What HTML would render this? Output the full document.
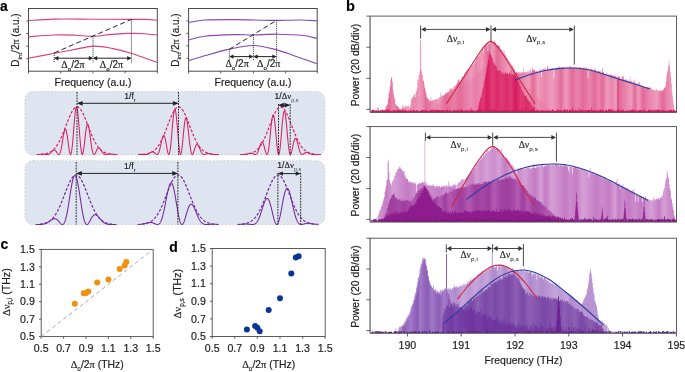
<!DOCTYPE html>
<html><head><meta charset="utf-8"><style>html,body{margin:0;padding:0;background:#fff;width:685px;height:372px;overflow:hidden;}svg{display:block;will-change:transform;}svg text{stroke:#222;stroke-width:0.18px;}</style></head>
<body><svg width="685" height="372" viewBox="0 0 685 372" font-family='"Liberation Sans", sans-serif'>
<rect x="28.5" y="8.5" width="128.8" height="62.7" fill="none" stroke="#4a4a4a" stroke-width="1.0"/>
<line x1="26.3" y1="21" x2="28.5" y2="21" stroke="#4a4a4a" stroke-width="0.9"/>
<line x1="26.3" y1="33.6" x2="28.5" y2="33.6" stroke="#4a4a4a" stroke-width="0.9"/>
<line x1="26.3" y1="46.2" x2="28.5" y2="46.2" stroke="#4a4a4a" stroke-width="0.9"/>
<line x1="26.3" y1="58.6" x2="28.5" y2="58.6" stroke="#4a4a4a" stroke-width="0.9"/>
<line x1="28.5" y1="71.2" x2="28.5" y2="73.4" stroke="#4a4a4a" stroke-width="0.9"/>
<line x1="60.7" y1="71.2" x2="60.7" y2="73.4" stroke="#4a4a4a" stroke-width="0.9"/>
<line x1="92.9" y1="71.2" x2="92.9" y2="73.4" stroke="#4a4a4a" stroke-width="0.9"/>
<line x1="125.1" y1="71.2" x2="125.1" y2="73.4" stroke="#4a4a4a" stroke-width="0.9"/>
<line x1="157.3" y1="71.2" x2="157.3" y2="73.4" stroke="#4a4a4a" stroke-width="0.9"/>
<path d="M28.5,20.6 C32.85,20.35 43.85,19.33 54.6,19.1 C65.35,18.87 80.27,19.15 93,19.2 C105.73,19.25 122.33,19.37 131,19.4 C139.67,19.43 140.62,19.27 145,19.4 C149.38,19.53 155.25,20.07 157.3,20.2" fill="none" stroke="#de3f7c" stroke-width="1.15"/>
<path d="M28.5,36.7 C32.75,36.42 46.25,35.25 54,35 C61.75,34.75 68.5,34.98 75,35.2 C81.5,35.42 86.83,36.43 93,36.3 C99.17,36.17 105.6,34.88 112,34.4 C118.4,33.92 125.9,33.52 131.4,33.4 C136.9,33.28 140.68,33.43 145,33.7 C149.32,33.97 155.25,34.78 157.3,35" fill="none" stroke="#de3f7c" stroke-width="1.15"/>
<path d="M28.4,58.3 C32.77,57.47 46.83,54.78 54.6,53.3 C62.37,51.82 68.43,50.6 75,49.4 C81.57,48.2 87.83,46.27 94,46.1 C100.17,45.93 105.83,47.2 112,48.4 C118.17,49.6 123.5,50.98 131,53.3 C138.5,55.62 152.67,60.8 157,62.3" fill="none" stroke="#de3f7c" stroke-width="1.15"/>
<line x1="54.2" y1="52.9" x2="131.4" y2="19.4" stroke="#222" stroke-width="1.0" stroke-dasharray="5,3"/>
<line x1="54.2" y1="52.9" x2="54.2" y2="62.6" stroke="#333" stroke-width="0.95" stroke-dasharray="1.1,0.9"/>
<line x1="93" y1="36.2" x2="93" y2="62.6" stroke="#333" stroke-width="0.95" stroke-dasharray="1.1,0.9"/>
<line x1="131.4" y1="19.4" x2="131.4" y2="62.6" stroke="#333" stroke-width="0.95" stroke-dasharray="1.1,0.9"/>
<line x1="55.2" y1="58.2" x2="92" y2="58.2" stroke="#222" stroke-width="1"/>
<path d="M54.2,58.2 L58.4,56 L58.4,60.4 Z" fill="#222"/>
<path d="M93,58.2 L88.8,56 L88.8,60.4 Z" fill="#222"/>
<line x1="94" y1="58.2" x2="130.4" y2="58.2" stroke="#222" stroke-width="1"/>
<path d="M93,58.2 L97.2,56 L97.2,60.4 Z" fill="#222"/>
<path d="M131.4,58.2 L127.2,56 L127.2,60.4 Z" fill="#222"/>
<text x="61.3" y="68.1" font-size="10" fill="#222"><tspan font-family="Liberation Serif">Δ</tspan><tspan font-size="6.2" dy="3.0">o</tspan><tspan dy="-3.0">/2<tspan font-family="Liberation Serif">π</tspan></tspan></text>
<text x="99.8" y="68.1" font-size="10" fill="#222"><tspan font-family="Liberation Serif">Δ</tspan><tspan font-size="6.2" dy="3.0">o</tspan><tspan dy="-3.0">/2<tspan font-family="Liberation Serif">π</tspan></tspan></text>
<rect x="188.6" y="8.5" width="128.6" height="62.7" fill="none" stroke="#4a4a4a" stroke-width="1.0"/>
<line x1="186.4" y1="20.8" x2="188.6" y2="20.8" stroke="#4a4a4a" stroke-width="0.9"/>
<line x1="186.4" y1="33.3" x2="188.6" y2="33.3" stroke="#4a4a4a" stroke-width="0.9"/>
<line x1="186.4" y1="45.8" x2="188.6" y2="45.8" stroke="#4a4a4a" stroke-width="0.9"/>
<line x1="186.4" y1="58.3" x2="188.6" y2="58.3" stroke="#4a4a4a" stroke-width="0.9"/>
<line x1="188.6" y1="71.2" x2="188.6" y2="73.4" stroke="#4a4a4a" stroke-width="0.9"/>
<line x1="220.7" y1="71.2" x2="220.7" y2="73.4" stroke="#4a4a4a" stroke-width="0.9"/>
<line x1="253.4" y1="71.2" x2="253.4" y2="73.4" stroke="#4a4a4a" stroke-width="0.9"/>
<line x1="285.7" y1="71.2" x2="285.7" y2="73.4" stroke="#4a4a4a" stroke-width="0.9"/>
<line x1="317.2" y1="71.2" x2="317.2" y2="73.4" stroke="#4a4a4a" stroke-width="0.9"/>
<path d="M188.6,22.5 C191.28,22.08 197.08,20.48 204.7,20 C212.32,19.52 224.45,19.57 234.3,19.6 C244.15,19.63 256.75,20.07 263.8,20.2 C270.85,20.33 270.57,20.43 276.6,20.4 C282.63,20.37 293.23,19.93 300,20 C306.77,20.07 314.33,20.67 317.2,20.8" fill="none" stroke="#8a48ae" stroke-width="1.15"/>
<path d="M188.4,40.1 C191.12,39.45 197.05,37.12 204.7,36.2 C212.35,35.28 226.25,34.8 234.3,34.6 C242.35,34.4 245.78,35.07 253,35 C260.22,34.93 269.22,34.12 277.6,34.2 C285.98,34.28 296.73,34.78 303.3,35.5 C309.87,36.22 314.72,38 317,38.5" fill="none" stroke="#8a48ae" stroke-width="1.15"/>
<path d="M188.4,60.6 C191.12,59.8 198.03,57.67 204.7,55.8 C211.37,53.93 220.18,51.12 228.4,49.4 C236.62,47.68 245.97,45.42 254,45.5 C262.03,45.58 269.7,48.12 276.6,49.9 C283.5,51.68 288.67,53.9 295.4,56.2 C302.13,58.5 313.4,62.45 317,63.7" fill="none" stroke="#8a48ae" stroke-width="1.15"/>
<line x1="229.3" y1="49.3" x2="276.6" y2="20.4" stroke="#222" stroke-width="1.0" stroke-dasharray="5,3"/>
<line x1="229.3" y1="49.3" x2="229.3" y2="61" stroke="#333" stroke-width="0.95" stroke-dasharray="1.1,0.9"/>
<line x1="253.4" y1="34.8" x2="253.4" y2="61" stroke="#333" stroke-width="0.95" stroke-dasharray="1.1,0.9"/>
<line x1="276.6" y1="20.2" x2="276.6" y2="61" stroke="#333" stroke-width="0.95" stroke-dasharray="1.1,0.9"/>
<line x1="230.3" y1="56.6" x2="252.4" y2="56.6" stroke="#222" stroke-width="1"/>
<path d="M229.3,56.6 L233.5,54.4 L233.5,58.8 Z" fill="#222"/>
<path d="M253.4,56.6 L249.2,54.4 L249.2,58.8 Z" fill="#222"/>
<line x1="254.4" y1="56.6" x2="275.6" y2="56.6" stroke="#222" stroke-width="1"/>
<path d="M253.4,56.6 L257.6,54.4 L257.6,58.8 Z" fill="#222"/>
<path d="M276.6,56.6 L272.4,54.4 L272.4,58.8 Z" fill="#222"/>
<text x="225.4" y="66.5" font-size="10" fill="#222"><tspan font-family="Liberation Serif">Δ</tspan><tspan font-size="6.2" dy="3.0">o</tspan><tspan dy="-3.0">/2<tspan font-family="Liberation Serif">π</tspan></tspan></text>
<text x="257" y="66.5" font-size="10" fill="#222"><tspan font-family="Liberation Serif">Δ</tspan><tspan font-size="6.2" dy="3.0">o</tspan><tspan dy="-3.0">/2<tspan font-family="Liberation Serif">π</tspan></tspan></text>
<text x="93" y="86" font-size="10.5" text-anchor="middle" font-weight="normal" fill="#222" >Frequency (a.u.)</text>
<text x="253" y="86" font-size="10.5" text-anchor="middle" font-weight="normal" fill="#222" >Frequency (a.u.)</text>
<text transform="translate(19.2,40) rotate(-90)" font-size="10" text-anchor="middle" fill="#222">D<tspan font-size="6.2" dy="2.4">int</tspan><tspan dy="-2.4">/2<tspan font-family="Liberation Serif">π</tspan> (a.u.)</tspan></text>
<text transform="translate(178.6,40) rotate(-90)" font-size="10" text-anchor="middle" fill="#222">D<tspan font-size="6.2" dy="2.4">int</tspan><tspan dy="-2.4">/2<tspan font-family="Liberation Serif">π</tspan> (a.u.)</tspan></text>
<text x="0" y="11" font-size="14" text-anchor="start" font-weight="bold" fill="#000" >a</text>
<text x="346" y="11.2" font-size="14.6" text-anchor="start" font-weight="bold" fill="#000" >b</text>
<text x="0.5" y="249" font-size="14" text-anchor="start" font-weight="bold" fill="#000" >c</text>
<text x="169.3" y="251.6" font-size="14" text-anchor="start" font-weight="bold" fill="#000" >d</text>
<rect x="24.9" y="91.6" width="299.9" height="63.3" rx="8" ry="8" fill="#dfe5f0" stroke="#c9c6c0" stroke-width="0.7" stroke-dasharray="2,1.6"/>
<path d="M36.5,154.5 L36.75,154.49 L37,154.49 L37.25,154.49 L37.5,154.48 L37.75,154.47 L38,154.47 L38.25,154.46 L38.5,154.45 L38.75,154.44 L39,154.43 L39.25,154.41 L39.5,154.4 L39.75,154.38 L40,154.37 L40.25,154.35 L40.5,154.34 L40.75,154.32 L41,154.3 L41.25,154.29 L41.5,154.27 L41.75,154.26 L42,154.25 L42.25,154.24 L42.5,154.23 L42.75,154.23 L43,154.22 L43.25,154.22 L43.5,154.23 L43.75,154.24 L44,154.25 L44.25,154.27 L44.5,154.29 L44.75,154.31 L45,154.33 L45.25,154.36 L45.5,154.39 L45.75,154.41 L46,154.44 L46.25,154.46 L46.5,154.48 L46.75,154.49 L47,154.5 L47.25,154.5 L47.5,154.48 L47.75,154.46 L48,154.42 L48.25,154.36 L48.5,154.29 L48.75,154.2 L49,154.08 L49.25,153.95 L49.5,153.8 L49.75,153.63 L50,153.44 L50.25,153.22 L50.5,153 L50.75,152.75 L51,152.5 L51.25,152.23 L51.5,151.96 L51.75,151.69 L52,151.42 L52.25,151.15 L52.5,150.91 L52.75,150.68 L53,150.47 L53.25,150.29 L53.5,150.15 L53.75,150.04 L54,149.98 L54.25,149.96 L54.5,149.99 L54.75,150.07 L55,150.2 L55.25,150.38 L55.5,150.61 L55.75,150.88 L56,151.19 L56.25,151.53 L56.5,151.9 L56.75,152.29 L57,152.68 L57.25,153.06 L57.5,153.42 L57.75,153.76 L58,154.04 L58.25,154.27 L58.5,154.43 L58.75,154.5 L59,154.47 L59.25,154.33 L59.5,154.07 L59.75,153.68 L60,153.16 L60.25,152.51 L60.5,151.71 L60.75,150.78 L61,149.72 L61.25,148.54 L61.5,147.25 L61.75,145.86 L62,144.39 L62.25,142.87 L62.5,141.31 L62.75,139.74 L63,138.18 L63.25,136.67 L63.5,135.23 L63.75,133.89 L64,132.67 L64.25,131.61 L64.5,130.73 L64.75,130.04 L65,129.57 L65.25,129.33 L65.5,129.34 L65.75,129.59 L66,130.09 L66.25,130.84 L66.5,131.82 L66.75,133.02 L67,134.41 L67.25,135.98 L67.5,137.68 L67.75,139.5 L68,141.38 L68.25,143.28 L68.5,145.17 L68.75,147 L69,148.72 L69.25,150.28 L69.5,151.66 L69.75,152.8 L70,153.67 L70.25,154.24 L70.5,154.49 L70.75,154.39 L71,153.93 L71.25,153.11 L71.5,151.93 L71.75,150.39 L72,148.52 L72.25,146.34 L72.5,143.87 L72.75,141.17 L73,138.27 L73.25,135.23 L73.5,132.09 L73.75,128.91 L74,125.76 L74.25,122.69 L74.5,119.75 L74.75,117.01 L75,114.52 L75.25,112.33 L75.5,110.47 L75.75,109 L76,107.93 L76.25,107.29 L76.5,107.09 L76.75,107.34 L77,108.03 L77.25,109.16 L77.5,110.69 L77.75,112.6 L78,114.86 L78.25,117.41 L78.5,120.21 L78.75,123.21 L79,126.34 L79.25,129.55 L79.5,132.77 L79.75,135.95 L80,139.02 L80.25,141.94 L80.5,144.64 L80.75,147.08 L81,149.22 L81.25,151.03 L81.5,152.47 L81.75,153.54 L82,154.21 L82.25,154.49 L82.5,154.38 L82.75,153.9 L83,153.07 L83.25,151.91 L83.5,150.47 L83.75,148.77 L84,146.86 L84.25,144.8 L84.5,142.62 L84.75,140.38 L85,138.14 L85.25,135.93 L85.5,133.81 L85.75,131.81 L86,129.99 L86.25,128.37 L86.5,126.99 L86.75,125.86 L87,125.01 L87.25,124.46 L87.5,124.19 L87.75,124.22 L88,124.54 L88.25,125.14 L88.5,126 L88.75,127.09 L89,128.39 L89.25,129.88 L89.5,131.52 L89.75,133.28 L90,135.12 L90.25,137.01 L90.5,138.92 L90.75,140.82 L91,142.67 L91.25,144.44 L91.5,146.12 L91.75,147.68 L92,149.09 L92.25,150.36 L92.5,151.46 L92.75,152.39 L93,153.14 L93.25,153.73 L93.5,154.14 L93.75,154.39 L94,154.5 L94.25,154.46 L94.5,154.3 L94.75,154.03 L95,153.67 L95.25,153.23 L95.5,152.74 L95.75,152.22 L96,151.67 L96.25,151.12 L96.5,150.58 L96.75,150.06 L97,149.58 L97.25,149.15 L97.5,148.78 L97.75,148.47 L98,148.22 L98.25,148.05 L98.5,147.95 L98.75,147.91 L99,147.95 L99.25,148.05 L99.5,148.21 L99.75,148.43 L100,148.69 L100.25,149 L100.5,149.33 L100.75,149.7 L101,150.08 L101.25,150.47 L101.5,150.87 L101.75,151.27 L102,151.65 L102.25,152.02 L102.5,152.38 L102.75,152.71 L103,153.01 L103.25,153.29 L103.5,153.54 L103.75,153.76 L104,153.94 L104.25,154.1 L104.5,154.23 L104.75,154.33 L105,154.41 L105.25,154.46 L105.5,154.49 L105.75,154.5 L106,154.5 L106.25,154.48 L106.5,154.45 L106.75,154.41 L107,154.37 L107.25,154.33 L107.5,154.28 L107.75,154.24 L108,154.19 L108.25,154.15 L108.5,154.12 L108.75,154.08 L109,154.06 L109.25,154.04 L109.5,154.03 L109.75,154.02 L110,154.02 L110.25,154.02 L110.5,154.03 L110.75,154.04 L111,154.06 L111.25,154.08 L111.5,154.11 L111.75,154.13 L112,154.16 L112.25,154.19 L112.5,154.22 L112.75,154.25 L113,154.27 L113.25,154.3 L113.5,154.33 L113.75,154.35 L114,154.37 L114.25,154.39 L114.5,154.41 L114.75,154.43 L115,154.44 L115.25,154.46 L115.5,154.47 L115.75,154.48 L116,154.48 L116.25,154.49 L116.5,154.49 L116.75,154.5 L117,154.5 L117.25,154.5 L117.5,154.5" fill="none" stroke="#db1f60" stroke-width="1.05" stroke-linejoin="round"/>
<path d="M41,154.28 L41.5,154.24 L42,154.2 L42.5,154.15 L43,154.1 L43.5,154.04 L44,153.97 L44.5,153.89 L45,153.81 L45.5,153.71 L46,153.6 L46.5,153.48 L47,153.35 L47.5,153.19 L48,153.03 L48.5,152.84 L49,152.64 L49.5,152.41 L50,152.16 L50.5,151.89 L51,151.59 L51.5,151.26 L52,150.9 L52.5,150.52 L53,150.1 L53.5,149.64 L54,149.15 L54.5,148.62 L55,148.06 L55.5,147.45 L56,146.81 L56.5,146.12 L57,145.38 L57.5,144.61 L58,143.79 L58.5,142.93 L59,142.02 L59.5,141.07 L60,140.08 L60.5,139.05 L61,137.97 L61.5,136.86 L62,135.71 L62.5,134.53 L63,133.32 L63.5,132.08 L64,130.82 L64.5,129.54 L65,128.25 L65.5,126.94 L66,125.63 L66.5,124.32 L67,123.01 L67.5,121.72 L68,120.44 L68.5,119.19 L69,117.96 L69.5,116.77 L70,115.62 L70.5,114.53 L71,113.48 L71.5,112.49 L72,111.57 L72.5,110.72 L73,109.95 L73.5,109.25 L74,108.64 L74.5,108.11 L75,107.68 L75.5,107.34 L76,107.1 L76.5,106.95 L77,106.9 L77.5,106.95 L78,107.1 L78.5,107.34 L79,107.68 L79.5,108.11 L80,108.64 L80.5,109.25 L81,109.95 L81.5,110.72 L82,111.57 L82.5,112.49 L83,113.48 L83.5,114.53 L84,115.62 L84.5,116.77 L85,117.96 L85.5,119.19 L86,120.44 L86.5,121.72 L87,123.01 L87.5,124.32 L88,125.63 L88.5,126.94 L89,128.25 L89.5,129.54 L90,130.82 L90.5,132.08 L91,133.32 L91.5,134.53 L92,135.71 L92.5,136.86 L93,137.97 L93.5,139.05 L94,140.08 L94.5,141.07 L95,142.02 L95.5,142.93 L96,143.79 L96.5,144.61 L97,145.38 L97.5,146.12 L98,146.81 L98.5,147.45 L99,148.06 L99.5,148.62 L100,149.15 L100.5,149.64 L101,150.1 L101.5,150.52 L102,150.9 L102.5,151.26 L103,151.59 L103.5,151.89 L104,152.16 L104.5,152.41 L105,152.64 L105.5,152.84 L106,153.03 L106.5,153.19 L107,153.35 L107.5,153.48 L108,153.6 L108.5,153.71 L109,153.81 L109.5,153.89 L110,153.97 L110.5,154.04 L111,154.1 L111.5,154.15 L112,154.2 L112.5,154.24 L113,154.28" fill="none" stroke="#db1f60" stroke-width="1.2" stroke-dasharray="2.8,1.7"/>
<path d="M138.1,154.45 L138.35,154.44 L138.6,154.43 L138.85,154.42 L139.1,154.42 L139.35,154.41 L139.6,154.4 L139.85,154.39 L140.1,154.39 L140.35,154.38 L140.6,154.38 L140.85,154.37 L141.1,154.37 L141.35,154.37 L141.6,154.37 L141.85,154.37 L142.1,154.38 L142.35,154.38 L142.6,154.39 L142.85,154.4 L143.1,154.41 L143.35,154.42 L143.6,154.44 L143.85,154.45 L144.1,154.46 L144.35,154.47 L144.6,154.49 L144.85,154.49 L145.1,154.5 L145.35,154.5 L145.6,154.5 L145.85,154.49 L146.1,154.47 L146.35,154.44 L146.6,154.41 L146.85,154.37 L147.1,154.31 L147.35,154.25 L147.6,154.17 L147.85,154.08 L148.1,153.98 L148.35,153.87 L148.6,153.74 L148.85,153.61 L149.1,153.47 L149.35,153.31 L149.6,153.16 L149.85,153 L150.1,152.84 L150.35,152.68 L150.6,152.52 L150.85,152.37 L151.1,152.23 L151.35,152.11 L151.6,152 L151.85,151.91 L152.1,151.85 L152.35,151.81 L152.6,151.8 L152.85,151.82 L153.1,151.86 L153.35,151.94 L153.6,152.05 L153.85,152.19 L154.1,152.36 L154.35,152.55 L154.6,152.76 L154.85,152.99 L155.1,153.23 L155.35,153.46 L155.6,153.7 L155.85,153.92 L156.1,154.12 L156.35,154.28 L156.6,154.41 L156.85,154.48 L157.1,154.5 L157.35,154.44 L157.6,154.31 L157.85,154.1 L158.1,153.8 L158.35,153.4 L158.6,152.9 L158.85,152.31 L159.1,151.62 L159.35,150.83 L159.6,149.96 L159.85,149 L160.1,147.97 L160.35,146.89 L160.6,145.75 L160.85,144.59 L161.1,143.42 L161.35,142.26 L161.6,141.12 L161.85,140.04 L162.1,139.03 L162.35,138.11 L162.6,137.3 L162.85,136.62 L163.1,136.09 L163.35,135.72 L163.6,135.53 L163.85,135.52 L164.1,135.7 L164.35,136.08 L164.6,136.64 L164.85,137.39 L165.1,138.3 L165.35,139.37 L165.6,140.58 L165.85,141.9 L166.1,143.3 L166.35,144.75 L166.6,146.23 L166.85,147.69 L167.1,149.1 L167.35,150.41 L167.6,151.61 L167.85,152.64 L168.1,153.47 L168.35,154.07 L168.6,154.42 L168.85,154.49 L169.1,154.26 L169.35,153.72 L169.6,152.87 L169.85,151.69 L170.1,150.21 L170.35,148.42 L170.6,146.36 L170.85,144.05 L171.1,141.52 L171.35,138.81 L171.6,135.96 L171.85,133.03 L172.1,130.05 L172.35,127.09 L172.6,124.19 L172.85,121.42 L173.1,118.83 L173.35,116.46 L173.6,114.36 L173.85,112.57 L174.1,111.14 L174.35,110.09 L174.6,109.45 L174.85,109.22 L175.1,109.43 L175.35,110.06 L175.6,111.11 L175.85,112.56 L176.1,114.38 L176.35,116.54 L176.6,119 L176.85,121.7 L177.1,124.6 L177.35,127.65 L177.6,130.77 L177.85,133.92 L178.1,137.02 L178.35,140.02 L178.6,142.86 L178.85,145.49 L179.1,147.85 L179.35,149.9 L179.6,151.61 L179.85,152.94 L180.1,153.87 L180.35,154.39 L180.6,154.49 L180.85,154.17 L181.1,153.46 L181.35,152.36 L181.6,150.91 L181.85,149.15 L182.1,147.11 L182.35,144.84 L182.6,142.39 L182.85,139.82 L183.1,137.18 L183.35,134.53 L183.6,131.92 L183.85,129.41 L184.1,127.05 L184.35,124.88 L184.6,122.94 L184.85,121.28 L185.1,119.93 L185.35,118.89 L185.6,118.2 L185.85,117.86 L186.1,117.88 L186.35,118.24 L186.6,118.93 L186.85,119.94 L187.1,121.24 L187.35,122.81 L187.6,124.6 L187.85,126.58 L188.1,128.72 L188.35,130.97 L188.6,133.28 L188.85,135.62 L189.1,137.95 L189.35,140.23 L189.6,142.42 L189.85,144.48 L190.1,146.4 L190.35,148.15 L190.6,149.7 L190.85,151.04 L191.1,152.17 L191.35,153.07 L191.6,153.74 L191.85,154.2 L192.1,154.45 L192.35,154.49 L192.6,154.36 L192.85,154.05 L193.1,153.61 L193.35,153.04 L193.6,152.37 L193.85,151.63 L194.1,150.84 L194.35,150.02 L194.6,149.2 L194.85,148.39 L195.1,147.63 L195.35,146.92 L195.6,146.28 L195.85,145.72 L196.1,145.25 L196.35,144.88 L196.6,144.62 L196.85,144.46 L197.1,144.41 L197.35,144.46 L197.6,144.61 L197.85,144.85 L198.1,145.17 L198.35,145.57 L198.6,146.03 L198.85,146.55 L199.1,147.1 L199.35,147.69 L199.6,148.29 L199.85,148.91 L200.1,149.52 L200.35,150.11 L200.6,150.69 L200.85,151.24 L201.1,151.76 L201.35,152.23 L201.6,152.67 L201.85,153.05 L202.1,153.39 L202.35,153.68 L202.6,153.93 L202.85,154.12 L203.1,154.27 L203.35,154.38 L203.6,154.46 L203.85,154.49 L204.1,154.5 L204.35,154.48 L204.6,154.44 L204.85,154.38 L205.1,154.31 L205.35,154.23 L205.6,154.14 L205.85,154.06 L206.1,153.97 L206.35,153.89 L206.6,153.81 L206.85,153.74 L207.1,153.69 L207.35,153.64 L207.6,153.6 L207.85,153.58 L208.1,153.56 L208.35,153.56 L208.6,153.57 L208.85,153.59 L209.1,153.61 L209.35,153.65 L209.6,153.69 L209.85,153.73 L210.1,153.78 L210.35,153.84 L210.6,153.89 L210.85,153.95 L211.1,154 L211.35,154.06 L211.6,154.11 L211.85,154.16 L212.1,154.21 L212.35,154.25 L212.6,154.3 L212.85,154.33 L213.1,154.36 L213.35,154.39 L213.6,154.42 L213.85,154.44 L214.1,154.46 L214.35,154.47 L214.6,154.48 L214.85,154.49 L215.1,154.49 L215.35,154.5 L215.6,154.5 L215.85,154.5 L216.1,154.5 L216.35,154.5 L216.6,154.49 L216.85,154.49 L217.1,154.49 L217.35,154.49 L217.6,154.48 L217.85,154.48 L218.1,154.48 L218.35,154.48 L218.6,154.47 L218.85,154.47 L219.1,154.47" fill="none" stroke="#db1f60" stroke-width="1.05" stroke-linejoin="round"/>
<path d="M142.6,154.28 L143.1,154.24 L143.6,154.2 L144.1,154.15 L144.6,154.1 L145.1,154.04 L145.6,153.97 L146.1,153.89 L146.6,153.81 L147.1,153.71 L147.6,153.6 L148.1,153.48 L148.6,153.35 L149.1,153.19 L149.6,153.03 L150.1,152.84 L150.6,152.64 L151.1,152.41 L151.6,152.16 L152.1,151.89 L152.6,151.59 L153.1,151.26 L153.6,150.9 L154.1,150.52 L154.6,150.1 L155.1,149.64 L155.6,149.15 L156.1,148.62 L156.6,148.06 L157.1,147.45 L157.6,146.81 L158.1,146.12 L158.6,145.38 L159.1,144.61 L159.6,143.79 L160.1,142.93 L160.6,142.02 L161.1,141.07 L161.6,140.08 L162.1,139.05 L162.6,137.97 L163.1,136.86 L163.6,135.71 L164.1,134.53 L164.6,133.32 L165.1,132.08 L165.6,130.82 L166.1,129.54 L166.6,128.25 L167.1,126.94 L167.6,125.63 L168.1,124.32 L168.6,123.01 L169.1,121.72 L169.6,120.44 L170.1,119.19 L170.6,117.96 L171.1,116.77 L171.6,115.62 L172.1,114.53 L172.6,113.48 L173.1,112.49 L173.6,111.57 L174.1,110.72 L174.6,109.95 L175.1,109.25 L175.6,108.64 L176.1,108.11 L176.6,107.68 L177.1,107.34 L177.6,107.1 L178.1,106.95 L178.6,106.9 L179.1,106.95 L179.6,107.1 L180.1,107.34 L180.6,107.68 L181.1,108.11 L181.6,108.64 L182.1,109.25 L182.6,109.95 L183.1,110.72 L183.6,111.57 L184.1,112.49 L184.6,113.48 L185.1,114.53 L185.6,115.62 L186.1,116.77 L186.6,117.96 L187.1,119.19 L187.6,120.44 L188.1,121.72 L188.6,123.01 L189.1,124.32 L189.6,125.63 L190.1,126.94 L190.6,128.25 L191.1,129.54 L191.6,130.82 L192.1,132.08 L192.6,133.32 L193.1,134.53 L193.6,135.71 L194.1,136.86 L194.6,137.97 L195.1,139.05 L195.6,140.08 L196.1,141.07 L196.6,142.02 L197.1,142.93 L197.6,143.79 L198.1,144.61 L198.6,145.38 L199.1,146.12 L199.6,146.81 L200.1,147.45 L200.6,148.06 L201.1,148.62 L201.6,149.15 L202.1,149.64 L202.6,150.1 L203.1,150.52 L203.6,150.9 L204.1,151.26 L204.6,151.59 L205.1,151.89 L205.6,152.16 L206.1,152.41 L206.6,152.64 L207.1,152.84 L207.6,153.03 L208.1,153.19 L208.6,153.35 L209.1,153.48 L209.6,153.6 L210.1,153.71 L210.6,153.81 L211.1,153.89 L211.6,153.97 L212.1,154.04 L212.6,154.1 L213.1,154.15 L213.6,154.2 L214.1,154.24 L214.6,154.28" fill="none" stroke="#db1f60" stroke-width="1.2" stroke-dasharray="2.8,1.7"/>
<path d="M240.2,154.46 L240.45,154.46 L240.7,154.46 L240.95,154.46 L241.2,154.47 L241.45,154.47 L241.7,154.48 L241.95,154.48 L242.2,154.48 L242.45,154.49 L242.7,154.49 L242.95,154.5 L243.2,154.5 L243.45,154.5 L243.7,154.5 L243.95,154.5 L244.2,154.49 L244.45,154.48 L244.7,154.47 L244.95,154.45 L245.2,154.43 L245.45,154.4 L245.7,154.37 L245.95,154.33 L246.2,154.29 L246.45,154.24 L246.7,154.19 L246.95,154.13 L247.2,154.07 L247.45,154 L247.7,153.93 L247.95,153.85 L248.2,153.77 L248.45,153.7 L248.7,153.62 L248.95,153.55 L249.2,153.47 L249.45,153.41 L249.7,153.35 L249.95,153.3 L250.2,153.26 L250.45,153.23 L250.7,153.21 L250.95,153.21 L251.2,153.22 L251.45,153.24 L251.7,153.29 L251.95,153.34 L252.2,153.41 L252.45,153.5 L252.7,153.6 L252.95,153.71 L253.2,153.82 L253.45,153.94 L253.7,154.06 L253.95,154.17 L254.2,154.27 L254.45,154.37 L254.7,154.44 L254.95,154.48 L255.2,154.5 L255.45,154.48 L255.7,154.42 L255.95,154.31 L256.2,154.16 L256.45,153.94 L256.7,153.67 L256.95,153.35 L257.2,152.96 L257.45,152.51 L257.7,152 L257.95,151.44 L258.2,150.83 L258.45,150.17 L258.7,149.48 L258.95,148.75 L259.2,148.01 L259.45,147.26 L259.7,146.51 L259.95,145.79 L260.2,145.09 L260.45,144.44 L260.7,143.85 L260.95,143.32 L261.2,142.89 L261.45,142.55 L261.7,142.32 L261.95,142.2 L262.2,142.21 L262.45,142.34 L262.7,142.6 L262.95,142.99 L263.2,143.49 L263.45,144.12 L263.7,144.85 L263.95,145.66 L264.2,146.56 L264.45,147.5 L264.7,148.48 L264.95,149.47 L265.2,150.45 L265.45,151.37 L265.7,152.23 L265.95,152.99 L266.2,153.62 L266.45,154.1 L266.7,154.4 L266.95,154.5 L267.2,154.38 L267.45,154.03 L267.7,153.44 L267.95,152.6 L268.2,151.5 L268.45,150.16 L268.7,148.58 L268.95,146.78 L269.2,144.77 L269.45,142.59 L269.7,140.25 L269.95,137.81 L270.2,135.29 L270.45,132.74 L270.7,130.21 L270.95,127.72 L271.2,125.35 L271.45,123.11 L271.7,121.08 L271.95,119.27 L272.2,117.73 L272.45,116.5 L272.7,115.6 L272.95,115.05 L273.2,114.87 L273.45,115.07 L273.7,115.65 L273.95,116.6 L274.2,117.91 L274.45,119.55 L274.7,121.49 L274.95,123.71 L275.2,126.15 L275.45,128.77 L275.7,131.52 L275.95,134.33 L276.2,137.16 L276.45,139.95 L276.7,142.63 L276.95,145.16 L277.2,147.47 L277.45,149.52 L277.7,151.26 L277.95,152.66 L278.2,153.68 L278.45,154.3 L278.7,154.5 L278.95,154.28 L279.2,153.64 L279.45,152.59 L279.7,151.15 L279.95,149.34 L280.2,147.21 L280.45,144.79 L280.7,142.14 L280.95,139.3 L281.2,136.33 L281.45,133.3 L281.7,130.26 L281.95,127.27 L282.2,124.39 L282.45,121.69 L282.7,119.2 L282.95,116.99 L283.2,115.09 L283.45,113.53 L283.7,112.35 L283.95,111.57 L284.2,111.2 L284.45,111.23 L284.7,111.68 L284.95,112.52 L285.2,113.73 L285.45,115.29 L285.7,117.17 L285.95,119.32 L286.2,121.7 L286.45,124.27 L286.7,126.98 L286.95,129.77 L287.2,132.59 L287.45,135.4 L287.7,138.14 L287.95,140.77 L288.2,143.26 L288.45,145.55 L288.7,147.62 L288.95,149.45 L289.2,151.01 L289.45,152.28 L289.7,153.27 L289.95,153.96 L290.2,154.37 L290.45,154.5 L290.7,154.37 L290.95,153.99 L291.2,153.4 L291.45,152.61 L291.7,151.66 L291.95,150.59 L292.2,149.41 L292.45,148.18 L292.7,146.91 L292.95,145.65 L293.2,144.42 L293.45,143.25 L293.7,142.17 L293.95,141.19 L294.2,140.34 L294.45,139.64 L294.7,139.08 L294.95,138.69 L295.2,138.46 L295.45,138.39 L295.7,138.49 L295.95,138.73 L296.2,139.13 L296.45,139.65 L296.7,140.29 L296.95,141.03 L297.2,141.86 L297.45,142.75 L297.7,143.69 L297.95,144.67 L298.2,145.65 L298.45,146.64 L298.7,147.61 L298.95,148.54 L299.2,149.43 L299.45,150.26 L299.7,151.03 L299.95,151.72 L300.2,152.34 L300.45,152.88 L300.7,153.34 L300.95,153.72 L301.2,154.02 L301.45,154.24 L301.7,154.39 L301.95,154.47 L302.2,154.5 L302.45,154.47 L302.7,154.4 L302.95,154.3 L303.2,154.16 L303.45,154 L303.7,153.83 L303.95,153.65 L304.2,153.47 L304.45,153.29 L304.7,153.12 L304.95,152.97 L305.2,152.83 L305.45,152.71 L305.7,152.62 L305.95,152.55 L306.2,152.5 L306.45,152.48 L306.7,152.47 L306.95,152.49 L307.2,152.53 L307.45,152.59 L307.7,152.67 L307.95,152.75 L308.2,152.85 L308.45,152.96 L308.7,153.08 L308.95,153.2 L309.2,153.32 L309.45,153.44 L309.7,153.56 L309.95,153.67 L310.2,153.78 L310.45,153.89 L310.7,153.98 L310.95,154.07 L311.2,154.15 L311.45,154.22 L311.7,154.28 L311.95,154.33 L312.2,154.38 L312.45,154.41 L312.7,154.44 L312.95,154.47 L313.2,154.48 L313.45,154.49 L313.7,154.5 L313.95,154.5 L314.2,154.5 L314.45,154.49 L314.7,154.49 L314.95,154.48 L315.2,154.47 L315.45,154.46 L315.7,154.45 L315.95,154.45 L316.2,154.44 L316.45,154.43 L316.7,154.43 L316.95,154.42 L317.2,154.42 L317.45,154.42 L317.7,154.41 L317.95,154.41 L318.2,154.42 L318.45,154.42 L318.7,154.42 L318.95,154.42 L319.2,154.43 L319.45,154.43 L319.7,154.44 L319.95,154.44 L320.2,154.45 L320.45,154.45 L320.7,154.46 L320.95,154.46 L321.2,154.47" fill="none" stroke="#db1f60" stroke-width="1.05" stroke-linejoin="round"/>
<path d="M244.7,154.28 L245.2,154.24 L245.7,154.2 L246.2,154.15 L246.7,154.1 L247.2,154.04 L247.7,153.97 L248.2,153.89 L248.7,153.81 L249.2,153.71 L249.7,153.6 L250.2,153.48 L250.7,153.35 L251.2,153.19 L251.7,153.03 L252.2,152.84 L252.7,152.64 L253.2,152.41 L253.7,152.16 L254.2,151.89 L254.7,151.59 L255.2,151.26 L255.7,150.9 L256.2,150.52 L256.7,150.1 L257.2,149.64 L257.7,149.15 L258.2,148.62 L258.7,148.06 L259.2,147.45 L259.7,146.81 L260.2,146.12 L260.7,145.38 L261.2,144.61 L261.7,143.79 L262.2,142.93 L262.7,142.02 L263.2,141.07 L263.7,140.08 L264.2,139.05 L264.7,137.97 L265.2,136.86 L265.7,135.71 L266.2,134.53 L266.7,133.32 L267.2,132.08 L267.7,130.82 L268.2,129.54 L268.7,128.25 L269.2,126.94 L269.7,125.63 L270.2,124.32 L270.7,123.01 L271.2,121.72 L271.7,120.44 L272.2,119.19 L272.7,117.96 L273.2,116.77 L273.7,115.62 L274.2,114.53 L274.7,113.48 L275.2,112.49 L275.7,111.57 L276.2,110.72 L276.7,109.95 L277.2,109.25 L277.7,108.64 L278.2,108.11 L278.7,107.68 L279.2,107.34 L279.7,107.1 L280.2,106.95 L280.7,106.9 L281.2,106.95 L281.7,107.1 L282.2,107.34 L282.7,107.68 L283.2,108.11 L283.7,108.64 L284.2,109.25 L284.7,109.95 L285.2,110.72 L285.7,111.57 L286.2,112.49 L286.7,113.48 L287.2,114.53 L287.7,115.62 L288.2,116.77 L288.7,117.96 L289.2,119.19 L289.7,120.44 L290.2,121.72 L290.7,123.01 L291.2,124.32 L291.7,125.63 L292.2,126.94 L292.7,128.25 L293.2,129.54 L293.7,130.82 L294.2,132.08 L294.7,133.32 L295.2,134.53 L295.7,135.71 L296.2,136.86 L296.7,137.97 L297.2,139.05 L297.7,140.08 L298.2,141.07 L298.7,142.02 L299.2,142.93 L299.7,143.79 L300.2,144.61 L300.7,145.38 L301.2,146.12 L301.7,146.81 L302.2,147.45 L302.7,148.06 L303.2,148.62 L303.7,149.15 L304.2,149.64 L304.7,150.1 L305.2,150.52 L305.7,150.9 L306.2,151.26 L306.7,151.59 L307.2,151.89 L307.7,152.16 L308.2,152.41 L308.7,152.64 L309.2,152.84 L309.7,153.03 L310.2,153.19 L310.7,153.35 L311.2,153.48 L311.7,153.6 L312.2,153.71 L312.7,153.81 L313.2,153.89 L313.7,153.97 L314.2,154.04 L314.7,154.1 L315.2,154.15 L315.7,154.2 L316.2,154.24 L316.7,154.28" fill="none" stroke="#db1f60" stroke-width="1.2" stroke-dasharray="2.8,1.7"/>
<line x1="77" y1="92" x2="77" y2="155" stroke="#222" stroke-width="0.95" stroke-dasharray="1.8,1.0"/>
<line x1="178.5" y1="92" x2="178.5" y2="155" stroke="#222" stroke-width="0.95" stroke-dasharray="1.8,1.0"/>
<line x1="278.5" y1="104" x2="278.5" y2="155.4" stroke="#222" stroke-width="0.95" stroke-dasharray="1.8,1.0"/>
<line x1="290.2" y1="104" x2="290.2" y2="155.4" stroke="#222" stroke-width="0.95" stroke-dasharray="1.8,1.0"/>
<line x1="78" y1="103.3" x2="177.5" y2="103.3" stroke="#222" stroke-width="1"/>
<path d="M77,103.3 L82.6,100.9 L82.6,105.7 Z" fill="#222"/>
<path d="M178.5,103.3 L172.9,100.9 L172.9,105.7 Z" fill="#222"/>
<line x1="279.3" y1="105.2" x2="289.1" y2="105.2" stroke="#222" stroke-width="1"/>
<path d="M278.3,105.2 L283.9,102.8 L283.9,107.6 Z" fill="#222"/>
<path d="M290.1,105.2 L284.5,102.8 L284.5,107.6 Z" fill="#222"/>
<text x="124.3" y="98.9" font-size="8.6" fill="#222">1/f<tspan font-size="5.4" dy="2.6" stroke-width="0.1">r</tspan></text>
<text x="274.6" y="98.9" font-size="8.6" fill="#222">1/<tspan font-family="Liberation Serif">Δ</tspan><tspan font-family="Liberation Serif">ν</tspan><tspan font-size="5.6" dy="3.0" fill="#444" stroke-width="0">p,s</tspan></text>
<rect x="24.9" y="160.7" width="299.9" height="63.9" rx="8" ry="8" fill="#dfe5f0" stroke="#c9c6c0" stroke-width="0.7" stroke-dasharray="2,1.6"/>
<path d="M35.6,224.49 L35.85,224.49 L36.1,224.49 L36.35,224.5 L36.6,224.5 L36.85,224.5 L37.1,224.5 L37.35,224.5 L37.6,224.5 L37.85,224.5 L38.1,224.5 L38.35,224.5 L38.6,224.5 L38.85,224.5 L39.1,224.49 L39.35,224.49 L39.6,224.49 L39.85,224.48 L40.1,224.47 L40.35,224.46 L40.6,224.45 L40.85,224.44 L41.1,224.43 L41.35,224.41 L41.6,224.39 L41.85,224.37 L42.1,224.34 L42.35,224.31 L42.6,224.28 L42.85,224.25 L43.1,224.21 L43.35,224.16 L43.6,224.11 L43.85,224.06 L44.1,224 L44.35,223.93 L44.6,223.86 L44.85,223.79 L45.1,223.71 L45.35,223.62 L45.6,223.52 L45.85,223.42 L46.1,223.32 L46.35,223.2 L46.6,223.08 L46.85,222.95 L47.1,222.82 L47.35,222.68 L47.6,222.53 L47.85,222.38 L48.1,222.22 L48.35,222.06 L48.6,221.89 L48.85,221.72 L49.1,221.55 L49.35,221.37 L49.6,221.19 L49.85,221 L50.1,220.82 L50.35,220.64 L50.6,220.46 L50.85,220.28 L51.1,220.1 L51.35,219.93 L51.6,219.76 L51.85,219.6 L52.1,219.45 L52.35,219.31 L52.6,219.17 L52.85,219.05 L53.1,218.94 L53.35,218.85 L53.6,218.77 L53.85,218.71 L54.1,218.66 L54.35,218.64 L54.6,218.63 L54.85,218.64 L55.1,218.67 L55.35,218.73 L55.6,218.8 L55.85,218.9 L56.1,219.01 L56.35,219.15 L56.6,219.31 L56.85,219.49 L57.1,219.69 L57.35,219.91 L57.6,220.15 L57.85,220.4 L58.1,220.66 L58.35,220.94 L58.6,221.22 L58.85,221.51 L59.1,221.81 L59.35,222.11 L59.6,222.41 L59.85,222.7 L60.1,222.98 L60.35,223.25 L60.6,223.5 L60.85,223.74 L61.1,223.95 L61.35,224.13 L61.6,224.28 L61.85,224.4 L62.1,224.47 L62.35,224.5 L62.6,224.48 L62.85,224.41 L63.1,224.28 L63.35,224.1 L63.6,223.85 L63.85,223.53 L64.1,223.15 L64.35,222.7 L64.6,222.18 L64.85,221.58 L65.1,220.91 L65.35,220.16 L65.6,219.34 L65.85,218.44 L66.1,217.47 L66.35,216.43 L66.6,215.31 L66.85,214.13 L67.1,212.88 L67.35,211.57 L67.6,210.2 L67.85,208.78 L68.1,207.32 L68.35,205.81 L68.6,204.26 L68.85,202.69 L69.1,201.09 L69.35,199.47 L69.6,197.85 L69.85,196.23 L70.1,194.61 L70.35,193.01 L70.6,191.44 L70.85,189.89 L71.1,188.39 L71.35,186.93 L71.6,185.53 L71.85,184.19 L72.1,182.93 L72.35,181.74 L72.6,180.64 L72.85,179.62 L73.1,178.71 L73.35,177.9 L73.6,177.2 L73.85,176.61 L74.1,176.14 L74.35,175.78 L74.6,175.55 L74.85,175.44 L75.1,175.46 L75.35,175.6 L75.6,175.86 L75.85,176.24 L76.1,176.75 L76.35,177.37 L76.6,178.11 L76.85,178.95 L77.1,179.9 L77.35,180.96 L77.6,182.1 L77.85,183.34 L78.1,184.65 L78.35,186.04 L78.6,187.49 L78.85,189 L79.1,190.56 L79.35,192.17 L79.6,193.8 L79.85,195.46 L80.1,197.13 L80.35,198.81 L80.6,200.49 L80.85,202.16 L81.1,203.8 L81.35,205.43 L81.6,207.02 L81.85,208.56 L82.1,210.06 L82.35,211.51 L82.6,212.89 L82.85,214.22 L83.1,215.47 L83.35,216.65 L83.6,217.75 L83.85,218.77 L84.1,219.7 L84.35,220.56 L84.6,221.33 L84.85,222.01 L85.1,222.61 L85.35,223.12 L85.6,223.55 L85.85,223.89 L86.1,224.16 L86.35,224.34 L86.6,224.46 L86.85,224.5 L87.1,224.47 L87.35,224.39 L87.6,224.24 L87.85,224.04 L88.1,223.79 L88.35,223.49 L88.6,223.16 L88.85,222.79 L89.1,222.39 L89.35,221.97 L89.6,221.53 L89.85,221.08 L90.1,220.61 L90.35,220.14 L90.6,219.67 L90.85,219.21 L91.1,218.75 L91.35,218.3 L91.6,217.87 L91.85,217.46 L92.1,217.07 L92.35,216.7 L92.6,216.36 L92.85,216.04 L93.1,215.76 L93.35,215.5 L93.6,215.28 L93.85,215.09 L94.1,214.93 L94.35,214.81 L94.6,214.72 L94.85,214.66 L95.1,214.64 L95.35,214.64 L95.6,214.68 L95.85,214.75 L96.1,214.84 L96.35,214.96 L96.6,215.11 L96.85,215.28 L97.1,215.47 L97.35,215.68 L97.6,215.91 L97.85,216.15 L98.1,216.41 L98.35,216.68 L98.6,216.96 L98.85,217.25 L99.1,217.54 L99.35,217.84 L99.6,218.14 L99.85,218.45 L100.1,218.75 L100.35,219.06 L100.6,219.36 L100.85,219.65 L101.1,219.95 L101.35,220.23 L101.6,220.51 L101.85,220.78 L102.1,221.04 L102.35,221.29 L102.6,221.54 L102.85,221.77 L103.1,221.99 L103.35,222.2 L103.6,222.4 L103.85,222.59 L104.1,222.77 L104.35,222.94 L104.6,223.1 L104.85,223.24 L105.1,223.38 L105.35,223.5 L105.6,223.62 L105.85,223.72 L106.1,223.82 L106.35,223.91 L106.6,223.99 L106.85,224.06 L107.1,224.13 L107.35,224.18 L107.6,224.23 L107.85,224.28 L108.1,224.32 L108.35,224.35 L108.6,224.38 L108.85,224.41 L109.1,224.43 L109.35,224.45 L109.6,224.46 L109.85,224.47 L110.1,224.48 L110.35,224.49 L110.6,224.49 L110.85,224.5 L111.1,224.5 L111.35,224.5 L111.6,224.5 L111.85,224.5 L112.1,224.5 L112.35,224.49 L112.6,224.49 L112.85,224.49 L113.1,224.49 L113.35,224.48 L113.6,224.48 L113.85,224.48 L114.1,224.47 L114.35,224.47 L114.6,224.47 L114.85,224.47 L115.1,224.46 L115.35,224.46 L115.6,224.46 L115.85,224.46 L116.1,224.46 L116.35,224.46 L116.6,224.46" fill="none" stroke="#74289c" stroke-width="1.05" stroke-linejoin="round"/>
<path d="M40.1,224.13 L40.6,224.08 L41.1,224.02 L41.6,223.95 L42.1,223.87 L42.6,223.79 L43.1,223.69 L43.6,223.59 L44.1,223.47 L44.6,223.34 L45.1,223.19 L45.6,223.03 L46.1,222.85 L46.6,222.66 L47.1,222.44 L47.6,222.2 L48.1,221.95 L48.6,221.66 L49.1,221.35 L49.6,221.02 L50.1,220.66 L50.6,220.26 L51.1,219.84 L51.6,219.38 L52.1,218.89 L52.6,218.36 L53.1,217.8 L53.6,217.2 L54.1,216.56 L54.6,215.88 L55.1,215.16 L55.6,214.39 L56.1,213.59 L56.6,212.74 L57.1,211.86 L57.6,210.93 L58.1,209.96 L58.6,208.95 L59.1,207.9 L59.6,206.82 L60.1,205.7 L60.6,204.54 L61.1,203.36 L61.6,202.14 L62.1,200.91 L62.6,199.65 L63.1,198.37 L63.6,197.08 L64.1,195.78 L64.6,194.48 L65.1,193.17 L65.6,191.87 L66.1,190.58 L66.6,189.31 L67.1,188.06 L67.6,186.83 L68.1,185.64 L68.6,184.48 L69.1,183.37 L69.6,182.31 L70.1,181.3 L70.6,180.35 L71.1,179.46 L71.6,178.65 L72.1,177.91 L72.6,177.24 L73.1,176.66 L73.6,176.16 L74.1,175.74 L74.6,175.42 L75.1,175.19 L75.6,175.05 L76.1,175 L76.6,175.05 L77.1,175.19 L77.6,175.42 L78.1,175.74 L78.6,176.16 L79.1,176.66 L79.6,177.24 L80.1,177.91 L80.6,178.65 L81.1,179.46 L81.6,180.35 L82.1,181.3 L82.6,182.31 L83.1,183.37 L83.6,184.48 L84.1,185.64 L84.6,186.83 L85.1,188.06 L85.6,189.31 L86.1,190.58 L86.6,191.87 L87.1,193.17 L87.6,194.48 L88.1,195.78 L88.6,197.08 L89.1,198.37 L89.6,199.65 L90.1,200.91 L90.6,202.14 L91.1,203.36 L91.6,204.54 L92.1,205.7 L92.6,206.82 L93.1,207.9 L93.6,208.95 L94.1,209.96 L94.6,210.93 L95.1,211.86 L95.6,212.74 L96.1,213.59 L96.6,214.39 L97.1,215.16 L97.6,215.88 L98.1,216.56 L98.6,217.2 L99.1,217.8 L99.6,218.36 L100.1,218.89 L100.6,219.38 L101.1,219.84 L101.6,220.26 L102.1,220.66 L102.6,221.02 L103.1,221.35 L103.6,221.66 L104.1,221.95 L104.6,222.2 L105.1,222.44 L105.6,222.66 L106.1,222.85 L106.6,223.03 L107.1,223.19 L107.6,223.34 L108.1,223.47 L108.6,223.59 L109.1,223.69 L109.6,223.79 L110.1,223.87 L110.6,223.95 L111.1,224.02 L111.6,224.08 L112.1,224.13" fill="none" stroke="#74289c" stroke-width="1.2" stroke-dasharray="2.8,1.7"/>
<path d="M137.6,224.46 L137.85,224.45 L138.1,224.44 L138.35,224.44 L138.6,224.42 L138.85,224.41 L139.1,224.4 L139.35,224.39 L139.6,224.37 L139.85,224.35 L140.1,224.33 L140.35,224.31 L140.6,224.29 L140.85,224.27 L141.1,224.24 L141.35,224.21 L141.6,224.18 L141.85,224.15 L142.1,224.11 L142.35,224.07 L142.6,224.03 L142.85,223.99 L143.1,223.95 L143.35,223.9 L143.6,223.85 L143.85,223.8 L144.1,223.75 L144.35,223.69 L144.6,223.63 L144.85,223.57 L145.1,223.51 L145.35,223.45 L145.6,223.39 L145.85,223.33 L146.1,223.26 L146.35,223.2 L146.6,223.13 L146.85,223.07 L147.1,223.01 L147.35,222.95 L147.6,222.89 L147.85,222.83 L148.1,222.78 L148.35,222.72 L148.6,222.68 L148.85,222.63 L149.1,222.6 L149.35,222.56 L149.6,222.54 L149.85,222.52 L150.1,222.5 L150.35,222.49 L150.6,222.49 L150.85,222.5 L151.1,222.52 L151.35,222.54 L151.6,222.58 L151.85,222.62 L152.1,222.67 L152.35,222.73 L152.6,222.8 L152.85,222.87 L153.1,222.95 L153.35,223.04 L153.6,223.14 L153.85,223.24 L154.1,223.35 L154.35,223.46 L154.6,223.57 L154.85,223.69 L155.1,223.8 L155.35,223.91 L155.6,224.02 L155.85,224.12 L156.1,224.21 L156.35,224.3 L156.6,224.37 L156.85,224.43 L157.1,224.47 L157.35,224.5 L157.6,224.5 L157.85,224.47 L158.1,224.42 L158.35,224.35 L158.6,224.23 L158.85,224.09 L159.1,223.9 L159.35,223.68 L159.6,223.42 L159.85,223.11 L160.1,222.75 L160.35,222.35 L160.6,221.89 L160.85,221.39 L161.1,220.83 L161.35,220.22 L161.6,219.56 L161.85,218.84 L162.1,218.07 L162.35,217.24 L162.6,216.36 L162.85,215.43 L163.1,214.45 L163.35,213.42 L163.6,212.35 L163.85,211.23 L164.1,210.07 L164.35,208.88 L164.6,207.66 L164.85,206.4 L165.1,205.12 L165.35,203.83 L165.6,202.52 L165.85,201.21 L166.1,199.89 L166.35,198.58 L166.6,197.28 L166.85,195.99 L167.1,194.74 L167.35,193.51 L167.6,192.32 L167.85,191.17 L168.1,190.07 L168.35,189.04 L168.6,188.06 L168.85,187.15 L169.1,186.32 L169.35,185.57 L169.6,184.91 L169.85,184.33 L170.1,183.85 L170.35,183.47 L170.6,183.19 L170.85,183.02 L171.1,182.95 L171.35,182.98 L171.6,183.13 L171.85,183.38 L172.1,183.75 L172.35,184.22 L172.6,184.79 L172.85,185.47 L173.1,186.25 L173.35,187.12 L173.6,188.08 L173.85,189.13 L174.1,190.26 L174.35,191.46 L174.6,192.74 L174.85,194.07 L175.1,195.45 L175.35,196.88 L175.6,198.35 L175.85,199.85 L176.1,201.36 L176.35,202.89 L176.6,204.42 L176.85,205.95 L177.1,207.46 L177.35,208.95 L177.6,210.41 L177.85,211.83 L178.1,213.2 L178.35,214.52 L178.6,215.78 L178.85,216.97 L179.1,218.09 L179.35,219.13 L179.6,220.09 L179.85,220.95 L180.1,221.73 L180.35,222.42 L180.6,223.01 L180.85,223.5 L181.1,223.89 L181.35,224.19 L181.6,224.38 L181.85,224.49 L182.1,224.49 L182.35,224.4 L182.6,224.23 L182.85,223.97 L183.1,223.62 L183.35,223.2 L183.6,222.71 L183.85,222.15 L184.1,221.53 L184.35,220.86 L184.6,220.14 L184.85,219.38 L185.1,218.58 L185.35,217.75 L185.6,216.9 L185.85,216.04 L186.1,215.17 L186.35,214.3 L186.6,213.43 L186.85,212.57 L187.1,211.74 L187.35,210.92 L187.6,210.13 L187.85,209.38 L188.1,208.66 L188.35,207.99 L188.6,207.36 L188.85,206.78 L189.1,206.26 L189.35,205.79 L189.6,205.37 L189.85,205.02 L190.1,204.72 L190.35,204.49 L190.6,204.32 L190.85,204.2 L191.1,204.15 L191.35,204.15 L191.6,204.22 L191.85,204.33 L192.1,204.51 L192.35,204.73 L192.6,205.01 L192.85,205.33 L193.1,205.69 L193.35,206.1 L193.6,206.54 L193.85,207.01 L194.1,207.52 L194.35,208.05 L194.6,208.61 L194.85,209.19 L195.1,209.78 L195.35,210.39 L195.6,211 L195.85,211.63 L196.1,212.25 L196.35,212.88 L196.6,213.5 L196.85,214.12 L197.1,214.73 L197.35,215.33 L197.6,215.92 L197.85,216.5 L198.1,217.06 L198.35,217.6 L198.6,218.12 L198.85,218.62 L199.1,219.11 L199.35,219.57 L199.6,220 L199.85,220.42 L200.1,220.81 L200.35,221.18 L200.6,221.52 L200.85,221.85 L201.1,222.15 L201.35,222.42 L201.6,222.68 L201.85,222.91 L202.1,223.13 L202.35,223.32 L202.6,223.5 L202.85,223.65 L203.1,223.79 L203.35,223.92 L203.6,224.03 L203.85,224.12 L204.1,224.2 L204.35,224.27 L204.6,224.33 L204.85,224.38 L205.1,224.42 L205.35,224.45 L205.6,224.47 L205.85,224.48 L206.1,224.49 L206.35,224.5 L206.6,224.5 L206.85,224.5 L207.1,224.49 L207.35,224.48 L207.6,224.47 L207.85,224.46 L208.1,224.44 L208.35,224.43 L208.6,224.41 L208.85,224.4 L209.1,224.38 L209.35,224.37 L209.6,224.36 L209.85,224.34 L210.1,224.33 L210.35,224.32 L210.6,224.31 L210.85,224.3 L211.1,224.3 L211.35,224.29 L211.6,224.29 L211.85,224.28 L212.1,224.28 L212.35,224.28 L212.6,224.28 L212.85,224.28 L213.1,224.28 L213.35,224.29 L213.6,224.29 L213.85,224.29 L214.1,224.3 L214.35,224.3 L214.6,224.31 L214.85,224.32 L215.1,224.32 L215.35,224.33 L215.6,224.34 L215.85,224.34 L216.1,224.35 L216.35,224.36 L216.6,224.37 L216.85,224.37 L217.1,224.38 L217.35,224.39 L217.6,224.4 L217.85,224.4 L218.1,224.41 L218.35,224.42 L218.6,224.42" fill="none" stroke="#74289c" stroke-width="1.05" stroke-linejoin="round"/>
<path d="M142.1,224.13 L142.6,224.08 L143.1,224.02 L143.6,223.95 L144.1,223.87 L144.6,223.79 L145.1,223.69 L145.6,223.59 L146.1,223.47 L146.6,223.34 L147.1,223.19 L147.6,223.03 L148.1,222.85 L148.6,222.66 L149.1,222.44 L149.6,222.2 L150.1,221.95 L150.6,221.66 L151.1,221.35 L151.6,221.02 L152.1,220.66 L152.6,220.26 L153.1,219.84 L153.6,219.38 L154.1,218.89 L154.6,218.36 L155.1,217.8 L155.6,217.2 L156.1,216.56 L156.6,215.88 L157.1,215.16 L157.6,214.39 L158.1,213.59 L158.6,212.74 L159.1,211.86 L159.6,210.93 L160.1,209.96 L160.6,208.95 L161.1,207.9 L161.6,206.82 L162.1,205.7 L162.6,204.54 L163.1,203.36 L163.6,202.14 L164.1,200.91 L164.6,199.65 L165.1,198.37 L165.6,197.08 L166.1,195.78 L166.6,194.48 L167.1,193.17 L167.6,191.87 L168.1,190.58 L168.6,189.31 L169.1,188.06 L169.6,186.83 L170.1,185.64 L170.6,184.48 L171.1,183.37 L171.6,182.31 L172.1,181.3 L172.6,180.35 L173.1,179.46 L173.6,178.65 L174.1,177.91 L174.6,177.24 L175.1,176.66 L175.6,176.16 L176.1,175.74 L176.6,175.42 L177.1,175.19 L177.6,175.05 L178.1,175 L178.6,175.05 L179.1,175.19 L179.6,175.42 L180.1,175.74 L180.6,176.16 L181.1,176.66 L181.6,177.24 L182.1,177.91 L182.6,178.65 L183.1,179.46 L183.6,180.35 L184.1,181.3 L184.6,182.31 L185.1,183.37 L185.6,184.48 L186.1,185.64 L186.6,186.83 L187.1,188.06 L187.6,189.31 L188.1,190.58 L188.6,191.87 L189.1,193.17 L189.6,194.48 L190.1,195.78 L190.6,197.08 L191.1,198.37 L191.6,199.65 L192.1,200.91 L192.6,202.14 L193.1,203.36 L193.6,204.54 L194.1,205.7 L194.6,206.82 L195.1,207.9 L195.6,208.95 L196.1,209.96 L196.6,210.93 L197.1,211.86 L197.6,212.74 L198.1,213.59 L198.6,214.39 L199.1,215.16 L199.6,215.88 L200.1,216.56 L200.6,217.2 L201.1,217.8 L201.6,218.36 L202.1,218.89 L202.6,219.38 L203.1,219.84 L203.6,220.26 L204.1,220.66 L204.6,221.02 L205.1,221.35 L205.6,221.66 L206.1,221.95 L206.6,222.2 L207.1,222.44 L207.6,222.66 L208.1,222.85 L208.6,223.03 L209.1,223.19 L209.6,223.34 L210.1,223.47 L210.6,223.59 L211.1,223.69 L211.6,223.79 L212.1,223.87 L212.6,223.95 L213.1,224.02 L213.6,224.08 L214.1,224.13" fill="none" stroke="#74289c" stroke-width="1.2" stroke-dasharray="2.8,1.7"/>
<path d="M237.5,224.43 L237.75,224.43 L238,224.42 L238.25,224.41 L238.5,224.4 L238.75,224.39 L239,224.38 L239.25,224.37 L239.5,224.36 L239.75,224.35 L240,224.34 L240.25,224.33 L240.5,224.32 L240.75,224.3 L241,224.29 L241.25,224.28 L241.5,224.26 L241.75,224.25 L242,224.23 L242.25,224.22 L242.5,224.21 L242.75,224.19 L243,224.18 L243.25,224.16 L243.5,224.15 L243.75,224.14 L244,224.13 L244.25,224.12 L244.5,224.11 L244.75,224.1 L245,224.09 L245.25,224.08 L245.5,224.08 L245.75,224.08 L246,224.08 L246.25,224.08 L246.5,224.08 L246.75,224.08 L247,224.09 L247.25,224.1 L247.5,224.11 L247.75,224.12 L248,224.14 L248.25,224.16 L248.5,224.18 L248.75,224.2 L249,224.22 L249.25,224.25 L249.5,224.27 L249.75,224.3 L250,224.33 L250.25,224.35 L250.5,224.38 L250.75,224.41 L251,224.43 L251.25,224.45 L251.5,224.47 L251.75,224.49 L252,224.5 L252.25,224.5 L252.5,224.5 L252.75,224.49 L253,224.47 L253.25,224.44 L253.5,224.4 L253.75,224.34 L254,224.27 L254.25,224.19 L254.5,224.09 L254.75,223.98 L255,223.84 L255.25,223.68 L255.5,223.5 L255.75,223.3 L256,223.08 L256.25,222.82 L256.5,222.55 L256.75,222.24 L257,221.91 L257.25,221.55 L257.5,221.15 L257.75,220.73 L258,220.28 L258.25,219.8 L258.5,219.28 L258.75,218.74 L259,218.17 L259.25,217.57 L259.5,216.94 L259.75,216.28 L260,215.6 L260.25,214.9 L260.5,214.17 L260.75,213.42 L261,212.66 L261.25,211.88 L261.5,211.09 L261.75,210.29 L262,209.49 L262.25,208.69 L262.5,207.88 L262.75,207.09 L263,206.3 L263.25,205.53 L263.5,204.77 L263.75,204.04 L264,203.33 L264.25,202.66 L264.5,202.02 L264.75,201.42 L265,200.87 L265.25,200.36 L265.5,199.91 L265.75,199.51 L266,199.16 L266.25,198.89 L266.5,198.67 L266.75,198.53 L267,198.45 L267.25,198.44 L267.5,198.51 L267.75,198.65 L268,198.87 L268.25,199.16 L268.5,199.52 L268.75,199.96 L269,200.47 L269.25,201.04 L269.5,201.69 L269.75,202.39 L270,203.16 L270.25,203.98 L270.5,204.85 L270.75,205.77 L271,206.73 L271.25,207.73 L271.5,208.75 L271.75,209.79 L272,210.85 L272.25,211.92 L272.5,212.99 L272.75,214.05 L273,215.1 L273.25,216.13 L273.5,217.12 L273.75,218.09 L274,219.01 L274.25,219.87 L274.5,220.68 L274.75,221.43 L275,222.11 L275.25,222.71 L275.5,223.24 L275.75,223.67 L276,224.02 L276.25,224.28 L276.5,224.44 L276.75,224.5 L277,224.46 L277.25,224.32 L277.5,224.08 L277.75,223.74 L278,223.3 L278.25,222.77 L278.5,222.13 L278.75,221.41 L279,220.6 L279.25,219.7 L279.5,218.73 L279.75,217.68 L280,216.56 L280.25,215.39 L280.5,214.16 L280.75,212.89 L281,211.57 L281.25,210.23 L281.5,208.87 L281.75,207.49 L282,206.1 L282.25,204.72 L282.5,203.35 L282.75,202 L283,200.67 L283.25,199.38 L283.5,198.13 L283.75,196.94 L284,195.8 L284.25,194.72 L284.5,193.71 L284.75,192.77 L285,191.92 L285.25,191.15 L285.5,190.46 L285.75,189.87 L286,189.37 L286.25,188.96 L286.5,188.65 L286.75,188.44 L287,188.32 L287.25,188.3 L287.5,188.38 L287.75,188.55 L288,188.81 L288.25,189.16 L288.5,189.6 L288.75,190.12 L289,190.71 L289.25,191.38 L289.5,192.12 L289.75,192.92 L290,193.78 L290.25,194.7 L290.5,195.66 L290.75,196.66 L291,197.7 L291.25,198.77 L291.5,199.86 L291.75,200.97 L292,202.09 L292.25,203.22 L292.5,204.36 L292.75,205.48 L293,206.61 L293.25,207.71 L293.5,208.81 L293.75,209.88 L294,210.92 L294.25,211.94 L294.5,212.92 L294.75,213.87 L295,214.78 L295.25,215.66 L295.5,216.49 L295.75,217.28 L296,218.03 L296.25,218.73 L296.5,219.39 L296.75,220 L297,220.57 L297.25,221.09 L297.5,221.57 L297.75,222.01 L298,222.41 L298.25,222.76 L298.5,223.08 L298.75,223.36 L299,223.6 L299.25,223.81 L299.5,223.99 L299.75,224.13 L300,224.25 L300.25,224.35 L300.5,224.41 L300.75,224.46 L301,224.49 L301.25,224.5 L301.5,224.49 L301.75,224.47 L302,224.44 L302.25,224.4 L302.5,224.35 L302.75,224.3 L303,224.23 L303.25,224.17 L303.5,224.1 L303.75,224.03 L304,223.96 L304.25,223.89 L304.5,223.82 L304.75,223.76 L305,223.7 L305.25,223.64 L305.5,223.59 L305.75,223.54 L306,223.49 L306.25,223.45 L306.5,223.42 L306.75,223.39 L307,223.37 L307.25,223.35 L307.5,223.34 L307.75,223.33 L308,223.33 L308.25,223.33 L308.5,223.34 L308.75,223.35 L309,223.36 L309.25,223.38 L309.5,223.4 L309.75,223.43 L310,223.45 L310.25,223.48 L310.5,223.52 L310.75,223.55 L311,223.58 L311.25,223.62 L311.5,223.66 L311.75,223.7 L312,223.73 L312.25,223.77 L312.5,223.81 L312.75,223.85 L313,223.88 L313.25,223.92 L313.5,223.96 L313.75,223.99 L314,224.03 L314.25,224.06 L314.5,224.09 L314.75,224.12 L315,224.15 L315.25,224.18 L315.5,224.2 L315.75,224.23 L316,224.25 L316.25,224.27 L316.5,224.29 L316.75,224.31 L317,224.33 L317.25,224.35 L317.5,224.36 L317.75,224.38 L318,224.39 L318.25,224.4 L318.5,224.41" fill="none" stroke="#74289c" stroke-width="1.05" stroke-linejoin="round"/>
<path d="M242,224.13 L242.5,224.08 L243,224.02 L243.5,223.95 L244,223.87 L244.5,223.79 L245,223.69 L245.5,223.59 L246,223.47 L246.5,223.34 L247,223.19 L247.5,223.03 L248,222.85 L248.5,222.66 L249,222.44 L249.5,222.2 L250,221.95 L250.5,221.66 L251,221.35 L251.5,221.02 L252,220.66 L252.5,220.26 L253,219.84 L253.5,219.38 L254,218.89 L254.5,218.36 L255,217.8 L255.5,217.2 L256,216.56 L256.5,215.88 L257,215.16 L257.5,214.39 L258,213.59 L258.5,212.74 L259,211.86 L259.5,210.93 L260,209.96 L260.5,208.95 L261,207.9 L261.5,206.82 L262,205.7 L262.5,204.54 L263,203.36 L263.5,202.14 L264,200.91 L264.5,199.65 L265,198.37 L265.5,197.08 L266,195.78 L266.5,194.48 L267,193.17 L267.5,191.87 L268,190.58 L268.5,189.31 L269,188.06 L269.5,186.83 L270,185.64 L270.5,184.48 L271,183.37 L271.5,182.31 L272,181.3 L272.5,180.35 L273,179.46 L273.5,178.65 L274,177.91 L274.5,177.24 L275,176.66 L275.5,176.16 L276,175.74 L276.5,175.42 L277,175.19 L277.5,175.05 L278,175 L278.5,175.05 L279,175.19 L279.5,175.42 L280,175.74 L280.5,176.16 L281,176.66 L281.5,177.24 L282,177.91 L282.5,178.65 L283,179.46 L283.5,180.35 L284,181.3 L284.5,182.31 L285,183.37 L285.5,184.48 L286,185.64 L286.5,186.83 L287,188.06 L287.5,189.31 L288,190.58 L288.5,191.87 L289,193.17 L289.5,194.48 L290,195.78 L290.5,197.08 L291,198.37 L291.5,199.65 L292,200.91 L292.5,202.14 L293,203.36 L293.5,204.54 L294,205.7 L294.5,206.82 L295,207.9 L295.5,208.95 L296,209.96 L296.5,210.93 L297,211.86 L297.5,212.74 L298,213.59 L298.5,214.39 L299,215.16 L299.5,215.88 L300,216.56 L300.5,217.2 L301,217.8 L301.5,218.36 L302,218.89 L302.5,219.38 L303,219.84 L303.5,220.26 L304,220.66 L304.5,221.02 L305,221.35 L305.5,221.66 L306,221.95 L306.5,222.2 L307,222.44 L307.5,222.66 L308,222.85 L308.5,223.03 L309,223.19 L309.5,223.34 L310,223.47 L310.5,223.59 L311,223.69 L311.5,223.79 L312,223.87 L312.5,223.95 L313,224.02 L313.5,224.08 L314,224.13" fill="none" stroke="#74289c" stroke-width="1.2" stroke-dasharray="2.8,1.7"/>
<line x1="76.2" y1="162" x2="76.2" y2="224.6" stroke="#222" stroke-width="0.95" stroke-dasharray="1.8,1.0"/>
<line x1="177.9" y1="162" x2="177.9" y2="224.6" stroke="#222" stroke-width="0.95" stroke-dasharray="1.8,1.0"/>
<line x1="277.9" y1="172.7" x2="277.9" y2="224.6" stroke="#222" stroke-width="0.95" stroke-dasharray="1.8,1.0"/>
<line x1="300.7" y1="172.7" x2="300.7" y2="224.6" stroke="#222" stroke-width="0.95" stroke-dasharray="1.8,1.0"/>
<line x1="77.2" y1="173.4" x2="176.9" y2="173.4" stroke="#222" stroke-width="1"/>
<path d="M76.2,173.4 L81.8,171 L81.8,175.8 Z" fill="#222"/>
<path d="M177.9,173.4 L172.3,171 L172.3,175.8 Z" fill="#222"/>
<line x1="278.9" y1="173.6" x2="299.7" y2="173.6" stroke="#222" stroke-width="1"/>
<path d="M277.9,173.6 L282.9,171.5 L282.9,175.7 Z" fill="#222"/>
<path d="M300.7,173.6 L295.7,171.5 L295.7,175.7 Z" fill="#222"/>
<text x="124.1" y="168.9" font-size="8.6" fill="#222">1/f<tspan font-size="5.4" dy="2.6" stroke-width="0.1">r</tspan></text>
<text x="277.3" y="167.6" font-size="8.6" fill="#222">1/<tspan font-family="Liberation Serif">Δ</tspan><tspan font-family="Liberation Serif">ν</tspan><tspan font-size="5.6" dy="3.0" fill="#444" stroke-width="0">p,s</tspan></text>
<rect x="41.2" y="249.4" width="112" height="87.2" fill="none" stroke="#4a4a4a" stroke-width="0.9"/>
<line x1="41.2" y1="336.6" x2="41.2" y2="338.8" stroke="#4a4a4a" stroke-width="0.9"/>
<line x1="39" y1="336.6" x2="41.2" y2="336.6" stroke="#4a4a4a" stroke-width="0.9"/>
<text x="41.2" y="351.9" font-size="10.6" text-anchor="middle" font-weight="normal" fill="#222" >0.5</text>
<text x="34.8" y="340.3" font-size="10.6" text-anchor="end" font-weight="normal" fill="#222" >0.5</text>
<line x1="63.6" y1="336.6" x2="63.6" y2="338.8" stroke="#4a4a4a" stroke-width="0.9"/>
<line x1="39" y1="319.16" x2="41.2" y2="319.16" stroke="#4a4a4a" stroke-width="0.9"/>
<text x="63.6" y="351.9" font-size="10.6" text-anchor="middle" font-weight="normal" fill="#222" >0.7</text>
<text x="34.8" y="322.86" font-size="10.6" text-anchor="end" font-weight="normal" fill="#222" >0.7</text>
<line x1="86" y1="336.6" x2="86" y2="338.8" stroke="#4a4a4a" stroke-width="0.9"/>
<line x1="39" y1="301.72" x2="41.2" y2="301.72" stroke="#4a4a4a" stroke-width="0.9"/>
<text x="86" y="351.9" font-size="10.6" text-anchor="middle" font-weight="normal" fill="#222" >0.9</text>
<text x="34.8" y="305.42" font-size="10.6" text-anchor="end" font-weight="normal" fill="#222" >0.9</text>
<line x1="108.4" y1="336.6" x2="108.4" y2="338.8" stroke="#4a4a4a" stroke-width="0.9"/>
<line x1="39" y1="284.28" x2="41.2" y2="284.28" stroke="#4a4a4a" stroke-width="0.9"/>
<text x="108.4" y="351.9" font-size="10.6" text-anchor="middle" font-weight="normal" fill="#222" >1.1</text>
<text x="34.8" y="287.98" font-size="10.6" text-anchor="end" font-weight="normal" fill="#222" >1.1</text>
<line x1="130.8" y1="336.6" x2="130.8" y2="338.8" stroke="#4a4a4a" stroke-width="0.9"/>
<line x1="39" y1="266.84" x2="41.2" y2="266.84" stroke="#4a4a4a" stroke-width="0.9"/>
<text x="130.8" y="351.9" font-size="10.6" text-anchor="middle" font-weight="normal" fill="#222" >1.3</text>
<text x="34.8" y="270.54" font-size="10.6" text-anchor="end" font-weight="normal" fill="#222" >1.3</text>
<line x1="153.2" y1="336.6" x2="153.2" y2="338.8" stroke="#4a4a4a" stroke-width="0.9"/>
<line x1="39" y1="249.4" x2="41.2" y2="249.4" stroke="#4a4a4a" stroke-width="0.9"/>
<text x="153.2" y="351.9" font-size="10.6" text-anchor="middle" font-weight="normal" fill="#222" >1.5</text>
<text x="34.8" y="253.1" font-size="10.6" text-anchor="end" font-weight="normal" fill="#222" >1.5</text>
<line x1="41.2" y1="336.6" x2="153.2" y2="249.4" stroke="#aaa" stroke-width="1" stroke-dasharray="4,3"/>
<circle cx="74.8" cy="303.64" r="3.0" fill="#f0900c"/>
<circle cx="83.76" cy="293.17" r="3.0" fill="#f0900c"/>
<circle cx="86" cy="293" r="3.0" fill="#f0900c"/>
<circle cx="88.24" cy="291.52" r="3.0" fill="#f0900c"/>
<circle cx="97.2" cy="282.54" r="3.0" fill="#f0900c"/>
<circle cx="108.4" cy="279.4" r="3.0" fill="#f0900c"/>
<circle cx="119.6" cy="268.93" r="3.0" fill="#f0900c"/>
<circle cx="124.64" cy="265.53" r="3.0" fill="#f0900c"/>
<circle cx="126.32" cy="261.96" r="3.0" fill="#f0900c"/>
<text x="97.2" y="368.2" font-size="10.4" text-anchor="middle" fill="#222"><tspan font-family="Liberation Serif">Δ</tspan><tspan font-size="6.4" dy="3.2">o</tspan><tspan dy="-3.2">/2<tspan font-family="Liberation Serif">π</tspan> (THz)</tspan></text>
<text transform="translate(9.6,292.2) rotate(-90)" font-size="10.6" text-anchor="middle" fill="#222"><tspan font-family="Liberation Serif">Δ</tspan><tspan font-family="Liberation Serif">ν</tspan><tspan font-size="6.4" dy="2.8">p,i</tspan><tspan dy="-2.8">  (THz)</tspan></text>
<rect x="212.2" y="248.5" width="113" height="88" fill="none" stroke="#4a4a4a" stroke-width="0.9"/>
<line x1="212.2" y1="336.5" x2="212.2" y2="338.7" stroke="#4a4a4a" stroke-width="0.9"/>
<line x1="210" y1="336.5" x2="212.2" y2="336.5" stroke="#4a4a4a" stroke-width="0.9"/>
<text x="212.2" y="351.8" font-size="10.6" text-anchor="middle" font-weight="normal" fill="#222" >0.5</text>
<text x="205.8" y="340.2" font-size="10.6" text-anchor="end" font-weight="normal" fill="#222" >0.5</text>
<line x1="234.8" y1="336.5" x2="234.8" y2="338.7" stroke="#4a4a4a" stroke-width="0.9"/>
<line x1="210" y1="318.9" x2="212.2" y2="318.9" stroke="#4a4a4a" stroke-width="0.9"/>
<text x="234.8" y="351.8" font-size="10.6" text-anchor="middle" font-weight="normal" fill="#222" >0.7</text>
<text x="205.8" y="322.6" font-size="10.6" text-anchor="end" font-weight="normal" fill="#222" >0.7</text>
<line x1="257.4" y1="336.5" x2="257.4" y2="338.7" stroke="#4a4a4a" stroke-width="0.9"/>
<line x1="210" y1="301.3" x2="212.2" y2="301.3" stroke="#4a4a4a" stroke-width="0.9"/>
<text x="257.4" y="351.8" font-size="10.6" text-anchor="middle" font-weight="normal" fill="#222" >0.9</text>
<text x="205.8" y="305" font-size="10.6" text-anchor="end" font-weight="normal" fill="#222" >0.9</text>
<line x1="280" y1="336.5" x2="280" y2="338.7" stroke="#4a4a4a" stroke-width="0.9"/>
<line x1="210" y1="283.7" x2="212.2" y2="283.7" stroke="#4a4a4a" stroke-width="0.9"/>
<text x="280" y="351.8" font-size="10.6" text-anchor="middle" font-weight="normal" fill="#222" >1.1</text>
<text x="205.8" y="287.4" font-size="10.6" text-anchor="end" font-weight="normal" fill="#222" >1.1</text>
<line x1="302.6" y1="336.5" x2="302.6" y2="338.7" stroke="#4a4a4a" stroke-width="0.9"/>
<line x1="210" y1="266.1" x2="212.2" y2="266.1" stroke="#4a4a4a" stroke-width="0.9"/>
<text x="302.6" y="351.8" font-size="10.6" text-anchor="middle" font-weight="normal" fill="#222" >1.3</text>
<text x="205.8" y="269.8" font-size="10.6" text-anchor="end" font-weight="normal" fill="#222" >1.3</text>
<line x1="325.2" y1="336.5" x2="325.2" y2="338.7" stroke="#4a4a4a" stroke-width="0.9"/>
<line x1="210" y1="248.5" x2="212.2" y2="248.5" stroke="#4a4a4a" stroke-width="0.9"/>
<text x="325.2" y="351.8" font-size="10.6" text-anchor="middle" font-weight="normal" fill="#222" >1.5</text>
<text x="205.8" y="252.2" font-size="10.6" text-anchor="end" font-weight="normal" fill="#222" >1.5</text>
<circle cx="246.89" cy="329.46" r="3.0" fill="#0b3592"/>
<circle cx="255.14" cy="325.94" r="3.0" fill="#0b3592"/>
<circle cx="257.4" cy="327.7" r="3.0" fill="#0b3592"/>
<circle cx="259.66" cy="331.22" r="3.0" fill="#0b3592"/>
<circle cx="268.7" cy="310.1" r="3.0" fill="#0b3592"/>
<circle cx="280" cy="298.22" r="3.0" fill="#0b3592"/>
<circle cx="291.3" cy="273.4" r="3.0" fill="#0b3592"/>
<circle cx="295.82" cy="257.56" r="3.0" fill="#0b3592"/>
<circle cx="298.64" cy="256.16" r="3.0" fill="#0b3592"/>
<text x="268.7" y="368.1" font-size="10.4" text-anchor="middle" fill="#222"><tspan font-family="Liberation Serif">Δ</tspan><tspan font-size="6.4" dy="3.2">o</tspan><tspan dy="-3.2">/2<tspan font-family="Liberation Serif">π</tspan> (THz)</tspan></text>
<text transform="translate(180.7,293.7) rotate(-90)" font-size="10.6" text-anchor="middle" fill="#222"><tspan font-family="Liberation Serif">Δ</tspan><tspan font-family="Liberation Serif">ν</tspan><tspan font-size="6.4" dy="2.8">p,s</tspan><tspan dy="-2.8">  (THz)</tspan></text>
<defs><linearGradient id="g0" gradientUnits="userSpaceOnUse" x1="370" y1="0" x2="677" y2="0"><stop offset="0.0061" stop-color="#ee9bbb"/><stop offset="0.0230" stop-color="#e985ad"/><stop offset="0.0390" stop-color="#ee9bbb"/><stop offset="0.0581" stop-color="#e26a98"/><stop offset="0.0776" stop-color="#e985ad"/><stop offset="0.0974" stop-color="#e26a98"/><stop offset="0.1225" stop-color="#ee9bbb"/><stop offset="0.1433" stop-color="#e985ad"/><stop offset="0.1646" stop-color="#ee9bbb"/><stop offset="0.1822" stop-color="#e26a98"/><stop offset="0.2010" stop-color="#e985ad"/><stop offset="0.2235" stop-color="#ee9bbb"/><stop offset="0.2462" stop-color="#e26a98"/><stop offset="0.2736" stop-color="#e985ad"/><stop offset="0.2949" stop-color="#e26a98"/><stop offset="0.3114" stop-color="#e985ad"/><stop offset="0.3294" stop-color="#ee9bbb"/><stop offset="0.3449" stop-color="#e985ad"/><stop offset="0.3648" stop-color="#ee9bbb"/><stop offset="0.3837" stop-color="#e26a98"/><stop offset="0.3993" stop-color="#ee9bbb"/><stop offset="0.4144" stop-color="#e26a98"/><stop offset="0.4338" stop-color="#e985ad"/><stop offset="0.4537" stop-color="#ee9bbb"/><stop offset="0.4715" stop-color="#e26a98"/><stop offset="0.4967" stop-color="#e985ad"/><stop offset="0.5174" stop-color="#ee9bbb"/><stop offset="0.5312" stop-color="#e26a98"/><stop offset="0.5464" stop-color="#ee9bbb"/><stop offset="0.5684" stop-color="#e985ad"/><stop offset="0.5938" stop-color="#ee9bbb"/><stop offset="0.6105" stop-color="#e985ad"/><stop offset="0.6220" stop-color="#e26a98"/><stop offset="0.6379" stop-color="#ee9bbb"/><stop offset="0.6589" stop-color="#e26a98"/><stop offset="0.6757" stop-color="#e985ad"/><stop offset="0.6941" stop-color="#e26a98"/><stop offset="0.7152" stop-color="#e985ad"/><stop offset="0.7311" stop-color="#e26a98"/><stop offset="0.7456" stop-color="#e985ad"/><stop offset="0.7573" stop-color="#e26a98"/><stop offset="0.7719" stop-color="#ee9bbb"/><stop offset="0.7875" stop-color="#e985ad"/><stop offset="0.8004" stop-color="#ee9bbb"/><stop offset="0.8127" stop-color="#e26a98"/><stop offset="0.8318" stop-color="#e985ad"/><stop offset="0.8506" stop-color="#ee9bbb"/><stop offset="0.8625" stop-color="#e26a98"/><stop offset="0.8750" stop-color="#ee9bbb"/><stop offset="0.8886" stop-color="#e26a98"/><stop offset="0.9083" stop-color="#e985ad"/><stop offset="0.9335" stop-color="#ee9bbb"/><stop offset="0.9538" stop-color="#e26a98"/><stop offset="0.9682" stop-color="#e985ad"/><stop offset="0.9878" stop-color="#ee9bbb"/></linearGradient></defs>
<path d="M370.6,112V112.0H371.2V110.2H371.8V111.8H372.4V111.4H373V110.6H373.6V112.0H374.2V112.0H374.8V110.7H375.4V112.0H376V110.4H376.6V111.8H377.2V111.1H377.8V110.9H378.4V109.6H379V111.9H379.6V111.1H380.2V110.7H380.8V110.5H381.4V111.2H382V110.5H382.6V109.1H383.2V110.5H383.8V109.7H384.4V109.3H385V109.5H385.6V105.1H386.2V106.8H386.8V105.3H387.4V103.4H388V99.1H388.6V93.6H389.2V90.4H389.8V86.0H390.4V80.3H391V77.0H391.6V78.0H392.2V82.0H392.8V90.0H393.4V93.9H394V97.0H394.6V99.2H395.2V104.0H395.8V105.6H396.4V105.6H397V105.8H397.6V106.3H398.2V107.0H398.8V112.0H399.4V107.9H400V109.3H400.6V109.1H401.2V109.6H401.8V108.1H402.4V105.3H403V106.6H403.6V107.7H404.2V108.3H404.8V106.1H405.4V105.5H406V106.2H406.6V107.4H407.2V105.8H407.8V105.9H408.4V106.0H409V107.8H409.6V107.5H410.2V104.7H410.8V100.4H411.4V98.4H412V97.9H412.6V96.6H413.2V96.6H413.8V94.4H414.4V94.0H415V96.9H415.6V92.3H416.2V91.0H416.8V87.7H417.4V78.9H418V79.7H418.6V74.9H419.2V72.2H419.8V69.6H420.4V68.5H421V70.4H421.6V71.4H422.2V74.9H422.8V79.4H423.4V80.9H424V84.5H424.6V88.1H425.2V90.7H425.8V92.9H426.4V96.8H427V97.6H427.6V98.9H428.2V99.3H428.8V99.4H429.4V101.4H430V100.5H430.6V97.2H431.2V101.1H431.8V100.2H432.4V99.7H433V100.8H433.6V100.2H434.2V99.9H434.8V98.9H435.4V99.4H436V98.2H436.6V99.9H437.2V98.3H437.8V98.9H438.4V98.3H439V97.6H439.6V97.1H440.2V92.8H440.8V97.2H441.4V95.6H442V95.6H442.6V95.4H443.2V95.4H443.8V94.9H444.4V95.1H445V93.6H445.6V93.4H446.2V92.7H446.8V93.2H447.4V91.2H448V91.4H448.6V92.4H449.2V91.0H449.8V88.0H450.4V89.2H451V88.1H451.6V89.7H452.2V89.2H452.8V88.9H453.4V87.2H454V86.8H454.6V85.5H455.2V86.2H455.8V85.0H456.4V83.7H457V83.1H457.6V80.3H458.2V79.2H458.8V82.4H459.4V80.2H460V81.6H460.6V80.3H461.2V79.5H461.8V77.2H462.4V76.2H463V76.7H463.6V76.3H464.2V74.0H464.8V72.5H465.4V72.1H466V70.2H466.6V71.5H467.2V69.5H467.8V68.7H468.4V68.9H469V67.8H469.6V68.5H470.2V67.0H470.8V65.8H471.4V65.7H472V64.6H472.6V65.1H473.2V65.1H473.8V63.3H474.4V61.4H475V61.7H475.6V59.6H476.2V57.9H476.8V57.0H477.4V56.5H478V56.6H478.6V54.1H479.2V54.4H479.8V51.6H480.4V52.6H481V51.5H481.6V49.2H482.2V48.3H482.8V48.0H483.4V52.7H484V47.3H484.6V46.1H485.2V45.6H485.8V44.5H486.4V45.7H487V43.2H487.6V50.8H488.2V43.3H488.8V44.0H489.4V43.5H490V41.9H490.6V41.5H491.2V41.5H491.8V41.3H492.4V42.7H493V43.4H493.6V42.7H494.2V40.0H494.8V42.6H495.4V42.8H496V44.7H496.6V45.3H497.2V44.9H497.8V45.7H498.4V45.9H499V45.8H499.6V47.3H500.2V49.4H500.8V48.9H501.4V50.4H502V49.8H502.6V53.3H503.2V52.6H503.8V50.6H504.4V53.7H505V55.0H505.6V55.5H506.2V57.5H506.8V56.8H507.4V59.4H508V60.6H508.6V60.2H509.2V61.4H509.8V62.3H510.4V64.5H511V63.8H511.6V66.6H512.2V65.6H512.8V66.4H513.4V69.2H514V68.4H514.6V70.6H515.2V72.7H515.8V72.3H516.4V72.1H517V73.1H517.6V72.6H518.2V72.0H518.8V73.7H519.4V71.8H520V73.5H520.6V72.1H521.2V72.2H521.8V72.6H522.4V72.7H523V67.9H523.6V72.3H524.2V72.6H524.8V71.8H525.4V72.1H526V72.9H526.6V71.4H527.2V71.6H527.8V71.4H528.4V71.2H529V70.6H529.6V72.8H530.2V68.8H530.8V71.1H531.4V72.3H532V70.2H532.6V67.3H533.2V70.0H533.8V70.0H534.4V69.8H535V71.2H535.6V71.4H536.2V70.4H536.8V71.7H537.4V71.2H538V71.7H538.6V71.1H539.2V70.4H539.8V69.2H540.4V69.3H541V77.2H541.6V69.2H542.2V70.3H542.8V68.9H543.4V68.6H544V69.4H544.6V67.4H545.2V68.6H545.8V70.0H546.4V70.0H547V66.3H547.6V66.1H548.2V69.6H548.8V68.2H549.4V69.3H550V68.6H550.6V69.3H551.2V69.1H551.8V68.2H552.4V68.1H553V68.3H553.6V77.7H554.2V69.0H554.8V69.0H555.4V68.2H556V67.5H556.6V68.0H557.2V68.6H557.8V68.0H558.4V66.7H559V66.7H559.6V67.4H560.2V68.4H560.8V67.4H561.4V67.8H562V67.7H562.6V66.5H563.2V67.4H563.8V67.3H564.4V67.3H565V68.4H565.6V66.9H566.2V68.5H566.8V67.3H567.4V67.3H568V67.8H568.6V67.2H569.2V66.2H569.8V67.4H570.4V66.2H571V68.2H571.6V66.7H572.2V68.2H572.8V67.2H573.4V67.8H574V67.2H574.6V66.6H575.2V68.5H575.8V67.7H576.4V67.3H577V68.6H577.6V67.7H578.2V67.4H578.8V67.0H579.4V67.4H580V68.6H580.6V67.1H581.2V67.9H581.8V68.4H582.4V68.0H583V67.9H583.6V67.1H584.2V69.1H584.8V67.4H585.4V68.3H586V67.6H586.6V68.3H587.2V69.6H587.8V78.1H588.4V68.1H589V68.9H589.6V70.0H590.2V69.4H590.8V68.7H591.4V69.1H592V69.3H592.6V70.8H593.2V70.9H593.8V71.6H594.4V68.6H595V69.7H595.6V70.1H596.2V72.2H596.8V71.2H597.4V71.3H598V71.1H598.6V71.0H599.2V71.0H599.8V72.7H600.4V71.1H601V73.0H601.6V72.6H602.2V68.1H602.8V72.3H603.4V72.0H604V74.1H604.6V73.7H605.2V74.2H605.8V73.9H606.4V72.9H607V74.6H607.6V75.2H608.2V73.9H608.8V74.4H609.4V76.0H610V75.2H610.6V74.3H611.2V74.5H611.8V74.9H612.4V76.7H613V76.6H613.6V74.8H614.2V76.3H614.8V75.6H615.4V75.9H616V76.8H616.6V76.2H617.2V77.4H617.8V76.2H618.4V76.3H619V77.1H619.6V76.9H620.2V78.9H620.8V78.9H621.4V78.5H622V75.5H622.6V77.6H623.2V75.9H623.8V79.2H624.4V80.1H625V79.8H625.6V79.3H626.2V79.3H626.8V81.0H627.4V80.4H628V81.3H628.6V79.7H629.2V81.6H629.8V76.6H630.4V80.9H631V81.2H631.6V80.6H632.2V82.9H632.8V81.9H633.4V81.3H634V83.0H634.6V79.3H635.2V83.2H635.8V83.5H636.4V84.5H637V83.8H637.6V84.1H638.2V81.5H638.8V83.8H639.4V82.0H640V85.1H640.6V85.2H641.2V84.6H641.8V86.3H642.4V86.6H643V86.9H643.6V86.4H644.2V86.9H644.8V87.3H645.4V86.8H646V87.7H646.6V87.1H647.2V86.7H647.8V87.4H648.4V86.7H649V88.9H649.6V87.2H650.2V87.8H650.8V87.5H651.4V89.4H652V89.4H652.6V89.8H653.2V90.2H653.8V90.1H654.4V89.8H655V90.3H655.6V90.8H656.2V89.3H656.8V89.6H657.4V90.6H658V90.5H658.6V91.8H659.2V90.5H659.8V90.0H660.4V90.7H661V90.6H661.6V91.3H662.2V90.3H662.8V90.6H663.4V89.0H664V87.6H664.6V88.2H665.2V86.4H665.8V81.4H666.4V75.9H667V72.7H667.6V69.4H668.2V65.2H668.8V60.8H669.4V65.9H670V72.0H670.6V76.4H671.2V83.8H671.8V91.5H672.4V96.6H673V100.9H673.6V105.2H674.2V112.0H674.8V110.6H675.4V111.2H676V112Z" fill="url(#g0)"/>
<line x1="420.6" y1="40.3" x2="420.6" y2="112" stroke="#ec8fb3" stroke-width="1"/>
<path d="M430,112V110.6H430.6V111.0H431.2V110.9H431.8V108.9H432.4V109.2H433V107.9H433.6V108.3H434.2V106.8H434.8V107.1H435.4V104.6H436V103.5H436.6V103.8H437.2V104.6H437.8V103.7H438.4V104.4H439V104.2H439.6V103.8H440.2V101.6H440.8V102.3H441.4V102.4H442V102.5H442.6V100.3H443.2V101.2H443.8V99.5H444.4V100.9H445V100.2H445.6V98.8H446.2V98.4H446.8V98.9H447.4V98.4H448V98.0H448.6V98.7H449.2V98.2H449.8V96.0H450.4V95.0H451V95.1H451.6V95.9H452.2V94.1H452.8V93.3H453.4V94.0H454V93.8H454.6V92.0H455.2V91.2H455.8V91.0H456.4V90.7H457V90.6H457.6V90.6H458.2V91.0H458.8V89.1H459.4V89.3H460V88.9H460.6V87.5H461.2V87.7H461.8V88.3H462.4V87.8H463V85.9H463.6V86.4H464.2V84.7H464.8V85.4H465.4V83.9H466V84.3H466.6V82.1H467.2V81.9H467.8V82.4H468.4V80.9H469V80.6H469.6V81.0H470.2V79.5H470.8V79.1H471.4V79.8H472V77.5H472.6V76.7H473.2V78.1H473.8V77.7H474.4V76.5H475V75.8H475.6V75.9H476.2V74.4H476.8V72.7H477.4V72.8H478V72.4H478.6V72.8H479.2V71.6H479.8V69.6H480.4V70.5H481V70.4H481.6V67.9H482.2V69.3H482.8V66.6H483.4V67.6H484V66.2H484.6V66.9H485.2V66.5H485.8V66.9H486.4V67.6H487V69.2H487.6V69.7H488.2V70.0H488.8V69.3H489.4V69.7H490V70.4H490.6V69.9H491.2V70.8H491.8V71.5H492.4V71.2H493V71.2H493.6V71.3H494.2V72.5H494.8V73.0H495.4V72.7H496V72.3H496.6V73.7H497.2V75.2H497.8V74.6H498.4V74.6H499V74.9H499.6V74.9H500.2V75.8H500.8V75.0H501.4V76.9H502V76.0H502.6V76.7H503.2V75.4H503.8V76.3H504.4V75.9H505V76.2H505.6V77.5H506.2V77.8H506.8V77.9H507.4V77.3H508V78.8H508.6V78.8H509.2V78.5H509.8V78.1H510.4V79.2H511V78.2H511.6V78.3H512.2V78.0H512.8V79.9H513.4V78.7H514V79.3H514.6V79.8H515.2V80.0H515.8V81.0H516.4V79.5H517V80.9H517.6V80.8H518.2V80.3H518.8V80.7H519.4V81.1H520V80.6H520.6V80.9H521.2V81.7H521.8V82.9H522.4V84.5H523V83.7H523.6V85.5H524.2V86.2H524.8V85.1H525.4V87.2H526V86.8H526.6V87.5H527.2V88.7H527.8V88.5H528.4V89.4H529V88.7H529.6V89.0H530.2V91.6H530.8V91.4H531.4V90.8H532V93.1H532.6V93.7H533.2V93.1H533.8V94.8H534.4V96.1H535V95.7H535.6V97.0H536.2V95.7H536.8V96.3H537.4V97.6H538V97.6H538.6V100.3H539.2V98.9H539.8V100.3H540.4V99.8H541V100.4H541.6V102.7H542.2V103.1H542.8V103.0H543.4V104.7H544V105.1H544.6V105.2H545.2V106.4H545.8V106.6H546.4V105.9H547V106.9H547.6V108.2H548.2V108.2H548.8V109.2H549.4V110.0H550V109.5H550.6V110.7H551.2V110.4H551.8V111.8H552.4V112Z" fill="#e56f9b" fill-opacity="0.35"/>
<defs><linearGradient id="g1" gradientUnits="userSpaceOnUse" x1="370" y1="0" x2="677" y2="0"><stop offset="0.0049" stop-color="#e03c74"/><stop offset="0.0143" stop-color="#d81b60"/><stop offset="0.0232" stop-color="#dc2a69"/><stop offset="0.0324" stop-color="#e03c74"/><stop offset="0.0448" stop-color="#dc2a69"/><stop offset="0.0615" stop-color="#d81b60"/><stop offset="0.0794" stop-color="#e03c74"/><stop offset="0.0951" stop-color="#d81b60"/><stop offset="0.1058" stop-color="#e03c74"/><stop offset="0.1157" stop-color="#d81b60"/><stop offset="0.1279" stop-color="#e03c74"/><stop offset="0.1434" stop-color="#dc2a69"/><stop offset="0.1577" stop-color="#e03c74"/><stop offset="0.1702" stop-color="#d81b60"/><stop offset="0.1873" stop-color="#dc2a69"/><stop offset="0.2057" stop-color="#e03c74"/><stop offset="0.2184" stop-color="#d81b60"/><stop offset="0.2295" stop-color="#e03c74"/><stop offset="0.2460" stop-color="#d81b60"/><stop offset="0.2596" stop-color="#dc2a69"/><stop offset="0.2727" stop-color="#e03c74"/><stop offset="0.2894" stop-color="#dc2a69"/><stop offset="0.3023" stop-color="#e03c74"/><stop offset="0.3151" stop-color="#d81b60"/><stop offset="0.3268" stop-color="#dc2a69"/><stop offset="0.3343" stop-color="#e03c74"/><stop offset="0.3456" stop-color="#d81b60"/><stop offset="0.3581" stop-color="#dc2a69"/><stop offset="0.3679" stop-color="#e03c74"/><stop offset="0.3814" stop-color="#d81b60"/><stop offset="0.3987" stop-color="#e03c74"/><stop offset="0.4146" stop-color="#dc2a69"/><stop offset="0.4292" stop-color="#e03c74"/><stop offset="0.4451" stop-color="#dc2a69"/><stop offset="0.4594" stop-color="#e03c74"/><stop offset="0.4739" stop-color="#d81b60"/><stop offset="0.4927" stop-color="#e03c74"/><stop offset="0.5106" stop-color="#dc2a69"/><stop offset="0.5272" stop-color="#e03c74"/><stop offset="0.5391" stop-color="#d81b60"/><stop offset="0.5520" stop-color="#e03c74"/><stop offset="0.5672" stop-color="#dc2a69"/><stop offset="0.5812" stop-color="#e03c74"/><stop offset="0.5950" stop-color="#dc2a69"/><stop offset="0.6063" stop-color="#d81b60"/><stop offset="0.6200" stop-color="#e03c74"/><stop offset="0.6325" stop-color="#d81b60"/><stop offset="0.6447" stop-color="#dc2a69"/><stop offset="0.6619" stop-color="#e03c74"/><stop offset="0.6757" stop-color="#d81b60"/><stop offset="0.6896" stop-color="#e03c74"/><stop offset="0.7024" stop-color="#d81b60"/><stop offset="0.7107" stop-color="#dc2a69"/><stop offset="0.7191" stop-color="#d81b60"/><stop offset="0.7306" stop-color="#e03c74"/><stop offset="0.7461" stop-color="#d81b60"/><stop offset="0.7576" stop-color="#e03c74"/><stop offset="0.7692" stop-color="#d81b60"/><stop offset="0.7853" stop-color="#dc2a69"/><stop offset="0.7999" stop-color="#e03c74"/><stop offset="0.8107" stop-color="#d81b60"/><stop offset="0.8194" stop-color="#e03c74"/><stop offset="0.8303" stop-color="#dc2a69"/><stop offset="0.8409" stop-color="#d81b60"/><stop offset="0.8526" stop-color="#dc2a69"/><stop offset="0.8667" stop-color="#e03c74"/><stop offset="0.8814" stop-color="#d81b60"/><stop offset="0.8966" stop-color="#e03c74"/><stop offset="0.9116" stop-color="#d81b60"/><stop offset="0.9242" stop-color="#dc2a69"/><stop offset="0.9329" stop-color="#d81b60"/><stop offset="0.9411" stop-color="#dc2a69"/><stop offset="0.9530" stop-color="#e03c74"/><stop offset="0.9648" stop-color="#d81b60"/><stop offset="0.9764" stop-color="#dc2a69"/><stop offset="0.9920" stop-color="#e03c74"/><stop offset="0.9998" stop-color="#d81b60"/></linearGradient></defs>
<path d="M470,112V111.3H470.6V111.1H471.2V110.9H471.8V112.0H472.4V112.0H473V110.6H473.6V110.9H474.2V111.7H474.8V111.7H475.4V111.1H476V111.1H476.6V111.6H477.2V110.9H477.8V109.6H478.4V105.6H479V102.7H479.6V100.6H480.2V97.8H480.8V97.3H481.4V94.0H482V90.5H482.6V87.4H483.2V86.3H483.8V82.5H484.4V79.3H485V76.7H485.6V73.0H486.2V69.6H486.8V66.2H487.4V63.0H488V60.0H488.6V54.7H489.2V51.8H489.8V53.3H490.4V54.7H491V55.6H491.6V57.2H492.2V58.0H492.8V60.7H493.4V63.0H494V63.4H494.6V65.5H495.2V64.9H495.8V65.8H496.4V67.0H497V69.9H497.6V70.4H498.2V70.5H498.8V70.3H499.4V70.2H500V70.3H500.6V72.4H501.2V72.0H501.8V73.5H502.4V71.7H503V73.9H503.6V72.5H504.2V74.3H504.8V72.6H505.4V72.8H506V73.4H506.6V73.6H507.2V72.8H507.8V74.1H508.4V74.6H509V72.8H509.6V73.1H510.2V74.5H510.8V70.4H511.4V74.4H512V74.1H512.6V75.0H513.2V74.3H513.8V74.0H514.4V74.2H515V75.4H515.6V75.9H516.2V77.5H516.8V77.2H517.4V80.1H518V82.0H518.6V81.6H519.2V84.2H519.8V86.2H520.4V86.1H521V89.1H521.6V90.1H522.2V91.6H522.8V91.6H523.4V93.5H524V94.6H524.6V95.7H525.2V95.9H525.8V95.7H526.4V97.8H527V98.2H527.6V100.1H528.2V99.8H528.8V101.3H529.4V102.1H530V102.0H530.6V104.3H531.2V104.6H531.8V105.7H532.4V106.4H533V106.4H533.6V107.6H534.2V107.1H534.8V110.1H535.4V110.9H536V110.6H536.6V111.5H537.2V109.9H537.8V111.7H538.4V112Z" fill="url(#g1)"/>
<path d="M370.6,112.2V110.9H371.3V110.6H372V109.8H372.7V109.6H373.4V110.1H374.1V110.8H374.8V110.7H375.5V110.1H376.2V110.6H376.9V110.9H377.6V107.6H378.3V110.4H379V110.8H379.7V110.9H380.4V109.8H381.1V110.3H381.8V110.1H382.5V109.9H383.2V110.8H383.9V110.4H384.6V110.4H385.3V109.9H386V110.7H386.7V109.5H387.4V109.2H388.1V110.3H388.8V109.7H389.5V110.2H390.2V110.7H390.9V110.9H391.6V111.0H392.3V110.8H393V110.1H393.7V109.9H394.4V110.7H395.1V110.2H395.8V110.4H396.5V111.0H397.2V109.6H397.9V109.5H398.6V109.9H399.3V110.1H400V109.9H400.7V111.0H401.4V110.2H402.1V110.0H402.8V110.1H403.5V110.5H404.2V110.3H404.9V109.6H405.6V110.3H406.3V110.7H407V110.8H407.7V111.2H408.4V110.1H409.1V110.9H409.8V110.6H410.5V109.5H411.2V110.6H411.9V111.2H412.6V109.9H413.3V110.1H414V109.9H414.7V110.7H415.4V111.0H416.1V109.9H416.8V110.1H417.5V110.8H418.2V111.0H418.9V111.2H419.6V110.8H420.3V110.7H421V109.9H421.7V109.9H422.4V110.1H423.1V110.2H423.8V110.4H424.5V110.2H425.2V110.1H425.9V110.5H426.6V110.6H427.3V110.4H428V111.2H428.7V111.0H429.4V110.3H430.1V110.0H430.8V110.2H431.5V109.5H432.2V109.9H432.9V109.6H433.6V110.9H434.3V110.1H435V109.8H435.7V110.2H436.4V109.9H437.1V109.6H437.8V110.3H438.5V110.2H439.2V109.9H439.9V110.0H440.6V110.0H441.3V111.0H442V110.0H442.7V110.0H443.4V109.9H444.1V110.8H444.8V110.6H445.5V110.8H446.2V110.0H446.9V109.7H447.6V109.8H448.3V110.9H449V109.5H449.7V111.2H450.4V110.3H451.1V110.6H451.8V111.1H452.5V110.9H453.2V110.3H453.9V109.6H454.6V110.4H455.3V110.2H456V110.7H456.7V109.7H457.4V110.1H458.1V109.7H458.8V111.1H459.5V110.2H460.2V109.5H460.9V109.5H461.6V110.6H462.3V109.9H463V111.0H463.7V110.3H464.4V110.4H465.1V110.5H465.8V110.8H466.5V110.3H467.2V109.5H467.9V110.9H468.6V110.9H469.3V109.6H470V110.5H470.7V107.8H471.4V110.3H472.1V110.0H472.8V110.9H473.5V110.1H474.2V111.2H474.9V111.1H475.6V110.6H476.3V110.6H477V109.7H477.7V109.7H478.4V109.9H479.1V110.2H479.8V109.1H480.5V109.8H481.2V111.0H481.9V109.6H482.6V110.0H483.3V110.9H484V111.1H484.7V110.6H485.4V110.1H486.1V110.8H486.8V111.1H487.5V109.4H488.2V109.7H488.9V110.1H489.6V109.6H490.3V110.0H491V110.9H491.7V109.5H492.4V109.7H493.1V109.5H493.8V109.7H494.5V109.6H495.2V110.6H495.9V110.9H496.6V109.8H497.3V110.1H498V111.1H498.7V110.6H499.4V110.4H500.1V110.2H500.8V110.5H501.5V109.8H502.2V110.3H502.9V111.0H503.6V110.8H504.3V109.6H505V110.0H505.7V109.5H506.4V109.7H507.1V110.5H507.8V110.8H508.5V110.8H509.2V109.6H509.9V110.8H510.6V110.2H511.3V111.0H512V111.1H512.7V110.6H513.4V109.8H514.1V109.5H514.8V110.0H515.5V110.6H516.2V111.2H516.9V110.1H517.6V109.4H518.3V109.8H519V111.1H519.7V110.7H520.4V110.6H521.1V110.7H521.8V108.4H522.5V109.6H523.2V111.0H523.9V110.9H524.6V109.7H525.3V108.0H526V110.4H526.7V110.4H527.4V111.1H528.1V110.5H528.8V110.8H529.5V109.5H530.2V110.2H530.9V109.5H531.6V109.6H532.3V109.0H533V110.1H533.7V108.3H534.4V110.4H535.1V110.8H535.8V110.9H536.5V109.3H537.2V110.7H537.9V109.6H538.6V111.0H539.3V110.4H540V111.0H540.7V110.0H541.4V110.0H542.1V110.0H542.8V111.1H543.5V110.1H544.2V110.9H544.9V110.7H545.6V110.4H546.3V110.8H547V109.7H547.7V110.8H548.4V110.7H549.1V110.4H549.8V110.5H550.5V110.0H551.2V111.2H551.9V109.4H552.6V109.5H553.3V110.6H554V110.8H554.7V110.9H555.4V110.7H556.1V111.1H556.8V109.2H557.5V109.5H558.2V110.2H558.9V110.6H559.6V110.1H560.3V109.9H561V110.3H561.7V110.4H562.4V111.2H563.1V110.3H563.8V109.7H564.5V108.7H565.2V109.8H565.9V111.1H566.6V109.6H567.3V109.7H568V111.2H568.7V110.1H569.4V110.1H570.1V110.1H570.8V109.6H571.5V110.9H572.2V107.7H572.9V110.0H573.6V110.3H574.3V110.9H575V110.2H575.7V109.6H576.4V110.7H577.1V110.6H577.8V111.1H578.5V108.0H579.2V110.6H579.9V110.4H580.6V109.4H581.3V109.7H582V110.1H582.7V111.1H583.4V109.8H584.1V110.8H584.8V110.6H585.5V110.3H586.2V110.1H586.9V110.2H587.6V110.1H588.3V110.1H589V109.6H589.7V110.0H590.4V110.7H591.1V107.7H591.8V110.4H592.5V109.9H593.2V110.3H593.9V109.6H594.6V111.0H595.3V110.6H596V110.5H596.7V110.5H597.4V109.7H598.1V110.9H598.8V110.4H599.5V109.6H600.2V109.6H600.9V109.7H601.6V110.6H602.3V109.9H603V110.1H603.7V111.1H604.4V111.1H605.1V110.5H605.8V109.6H606.5V110.1H607.2V111.1H607.9V109.7H608.6V109.0H609.3V109.5H610V109.1H610.7V110.5H611.4V109.5H612.1V109.5H612.8V110.8H613.5V110.2H614.2V111.2H614.9V110.7H615.6V109.7H616.3V111.0H617V109.5H617.7V109.7H618.4V109.6H619.1V110.4H619.8V110.0H620.5V110.6H621.2V110.4H621.9V109.8H622.6V109.5H623.3V110.2H624V110.9H624.7V111.0H625.4V110.7H626.1V110.6H626.8V110.1H627.5V111.1H628.2V110.6H628.9V110.7H629.6V110.1H630.3V109.8H631V110.6H631.7V109.5H632.4V109.8H633.1V109.7H633.8V110.5H634.5V110.4H635.2V110.3H635.9V111.0H636.6V109.6H637.3V110.9H638V110.7H638.7V110.0H639.4V110.0H640.1V110.2H640.8V110.1H641.5V110.2H642.2V110.4H642.9V111.0H643.6V109.6H644.3V109.8H645V110.6H645.7V110.9H646.4V111.2H647.1V111.0H647.8V109.6H648.5V110.0H649.2V109.7H649.9V110.4H650.6V109.8H651.3V110.5H652V109.7H652.7V111.0H653.4V109.7H654.1V110.4H654.8V109.5H655.5V110.2H656.2V109.7H656.9V110.2H657.6V109.6H658.3V109.5H659V110.0H659.7V110.7H660.4V110.4H661.1V110.2H661.8V110.3H662.5V110.7H663.2V109.8H663.9V109.5H664.6V110.9H665.3V110.8H666V110.6H666.7V111.2H667.4V110.7H668.1V110.3H668.8V109.8H669.5V110.7H670.2V109.9H670.9V109.8H671.6V109.8H672.3V111.1H673V109.6H673.7V109.7H674.4V110.6H675.1V111.1H675.8V111.0H676.5V112.2Z" fill="#d2175c"/>
<line x1="618" y1="78.5" x2="618" y2="112" stroke="#c8245e" stroke-width="0.8"/>
<path d="M446.4,103.6 C448.33,100.67 454.07,92.02 458,86 C461.93,79.98 466.33,73.17 470,67.5 C473.67,61.83 477.33,55.83 480,52 C482.67,48.17 484.22,46.27 486,44.5 C487.78,42.73 489.12,41.4 490.7,41.4 C492.28,41.4 493.7,42.73 495.5,44.5 C497.3,46.27 498.83,48.17 501.5,52 C504.17,55.83 507.83,61.83 511.5,67.5 C515.17,73.17 519.6,79.98 523.5,86 C527.4,92.02 533,100.67 534.9,103.6" fill="none" stroke="#d3263f" stroke-width="1.1"/>
<path d="M514.9,80 C517.42,79.08 524.98,76.08 530,74.5 C535.02,72.92 540,71.52 545,70.5 C550,69.48 555.35,68.82 560,68.4 C564.65,67.98 568.4,67.82 572.9,68 C577.4,68.18 582.15,68.58 587,69.5 C591.85,70.42 597,72 602,73.5 C607,75 611.83,76.83 617,78.5 C622.17,80.17 627.52,81.77 633,83.5 C638.48,85.23 647.08,88 649.9,88.9" fill="none" stroke="#2b3f9e" stroke-width="1.1"/>
<line x1="420.6" y1="25.5" x2="420.6" y2="38.7" stroke="#333" stroke-width="0.9"/>
<line x1="491" y1="25.5" x2="491" y2="41.4" stroke="#333" stroke-width="0.9"/>
<line x1="574.3" y1="25.5" x2="574.3" y2="64.6" stroke="#333" stroke-width="0.9"/>
<line x1="422.1" y1="29.4" x2="489.5" y2="29.4" stroke="#333" stroke-width="0.9"/>
<path d="M421.1,29.4 L425.6,27 L425.6,31.8 Z" fill="#333"/>
<path d="M490.5,29.4 L486,27 L486,31.8 Z" fill="#333"/>
<line x1="492.5" y1="29.4" x2="572.8" y2="29.4" stroke="#333" stroke-width="0.9"/>
<path d="M491.5,29.4 L496,27 L496,31.8 Z" fill="#333"/>
<path d="M573.8,29.4 L569.3,27 L569.3,31.8 Z" fill="#333"/>
<text x="446.8" y="41.8" font-size="9.6" fill="#2a2a2a"><tspan font-family="Liberation Serif">Δ</tspan><tspan font-family="Liberation Serif">ν</tspan><tspan font-size="6.2" dy="2.5" stroke-width="0.05" letter-spacing="0.2">p,i</tspan></text>
<text x="526.2" y="41.8" font-size="9.6" fill="#2a2a2a"><tspan font-family="Liberation Serif">Δ</tspan><tspan font-family="Liberation Serif">ν</tspan><tspan font-size="6.2" dy="2.5" stroke-width="0.05" letter-spacing="0.2">p,s</tspan></text>
<defs><linearGradient id="g2" gradientUnits="userSpaceOnUse" x1="370" y1="0" x2="677" y2="0"><stop offset="0.0125" stop-color="#d5a0d5"/><stop offset="0.0369" stop-color="#cc8ccc"/><stop offset="0.0544" stop-color="#c47cc4"/><stop offset="0.0747" stop-color="#d5a0d5"/><stop offset="0.0982" stop-color="#cc8ccc"/><stop offset="0.1214" stop-color="#c47cc4"/><stop offset="0.1472" stop-color="#cc8ccc"/><stop offset="0.1701" stop-color="#c47cc4"/><stop offset="0.1962" stop-color="#cc8ccc"/><stop offset="0.2240" stop-color="#c47cc4"/><stop offset="0.2489" stop-color="#cc8ccc"/><stop offset="0.2673" stop-color="#c47cc4"/><stop offset="0.2882" stop-color="#d5a0d5"/><stop offset="0.3116" stop-color="#cc8ccc"/><stop offset="0.3321" stop-color="#c47cc4"/><stop offset="0.3483" stop-color="#d5a0d5"/><stop offset="0.3606" stop-color="#cc8ccc"/><stop offset="0.3804" stop-color="#d5a0d5"/><stop offset="0.4035" stop-color="#cc8ccc"/><stop offset="0.4211" stop-color="#d5a0d5"/><stop offset="0.4404" stop-color="#c47cc4"/><stop offset="0.4649" stop-color="#d5a0d5"/><stop offset="0.4866" stop-color="#cc8ccc"/><stop offset="0.5050" stop-color="#d5a0d5"/><stop offset="0.5205" stop-color="#cc8ccc"/><stop offset="0.5385" stop-color="#c47cc4"/><stop offset="0.5573" stop-color="#d5a0d5"/><stop offset="0.5716" stop-color="#c47cc4"/><stop offset="0.5923" stop-color="#d5a0d5"/><stop offset="0.6167" stop-color="#cc8ccc"/><stop offset="0.6361" stop-color="#c47cc4"/><stop offset="0.6524" stop-color="#cc8ccc"/><stop offset="0.6709" stop-color="#c47cc4"/><stop offset="0.6932" stop-color="#d5a0d5"/><stop offset="0.7188" stop-color="#cc8ccc"/><stop offset="0.7388" stop-color="#c47cc4"/><stop offset="0.7551" stop-color="#cc8ccc"/><stop offset="0.7796" stop-color="#c47cc4"/><stop offset="0.7986" stop-color="#d5a0d5"/><stop offset="0.8094" stop-color="#c47cc4"/><stop offset="0.8235" stop-color="#cc8ccc"/><stop offset="0.8421" stop-color="#c47cc4"/><stop offset="0.8638" stop-color="#cc8ccc"/><stop offset="0.8818" stop-color="#c47cc4"/><stop offset="0.8970" stop-color="#cc8ccc"/><stop offset="0.9178" stop-color="#d5a0d5"/><stop offset="0.9406" stop-color="#c47cc4"/><stop offset="0.9577" stop-color="#d5a0d5"/><stop offset="0.9733" stop-color="#cc8ccc"/><stop offset="0.9912" stop-color="#c47cc4"/></linearGradient></defs>
<path d="M372,221.6V221.6H372.6V221.6H373.2V221.4H373.8V221.5H374.4V221.1H375V219.8H375.6V217.9H376.2V218.0H376.8V221.6H377.4V217.3H378V215.2H378.6V213.8H379.2V211.3H379.8V209.4H380.4V210.0H381V207.1H381.6V205.2H382.2V203.8H382.8V201.1H383.4V198.8H384V196.9H384.6V192.1H385.2V189.4H385.8V185.9H386.4V181.1H387V179.6H387.6V163.3H388.2V159.7H388.8V172.6H389.4V180.1H390V183.2H390.6V183.2H391.2V185.3H391.8V181.7H392.4V180.9H393V180.1H393.6V179.3H394.2V176.1H394.8V175.4H395.4V172.9H396V172.1H396.6V171.3H397.2V169.1H397.8V169.0H398.4V168.8H399V167.3H399.6V166.4H400.2V167.8H400.8V169.4H401.4V169.0H402V170.7H402.6V170.8H403.2V172.3H403.8V170.6H404.4V176.2H405V175.1H405.6V178.5H406.2V177.9H406.8V179.0H407.4V179.2H408V180.7H408.6V182.4H409.2V181.5H409.8V181.2H410.4V182.6H411V182.4H411.6V182.7H412.2V182.5H412.8V182.0H413.4V183.1H414V184.0H414.6V182.9H415.2V182.4H415.8V184.7H416.4V191.2H417V184.4H417.6V184.5H418.2V184.1H418.8V182.7H419.4V182.9H420V183.8H420.6V183.2H421.2V183.0H421.8V181.6H422.4V182.8H423V182.5H423.6V182.3H424.2V181.3H424.8V180.7H425.4V183.3H426V182.7H426.6V185.1H427.2V185.6H427.8V184.8H428.4V185.3H429V185.2H429.6V185.7H430.2V185.7H430.8V186.0H431.4V185.1H432V185.9H432.6V183.9H433.2V185.3H433.8V185.8H434.4V186.3H435V186.5H435.6V187.9H436.2V185.7H436.8V186.1H437.4V186.3H438V187.6H438.6V185.7H439.2V186.1H439.8V186.6H440.4V187.9H441V187.0H441.6V185.8H442.2V186.6H442.8V186.4H443.4V185.4H444V185.5H444.6V186.5H445.2V186.7H445.8V185.7H446.4V185.1H447V187.2H447.6V185.5H448.2V181.4H448.8V186.4H449.4V185.4H450V186.5H450.6V185.7H451.2V186.4H451.8V186.4H452.4V185.5H453V184.6H453.6V185.5H454.2V184.8H454.8V183.2H455.4V185.5H456V185.1H456.6V193.2H457.2V184.1H457.8V183.3H458.4V181.7H459V181.4H459.6V181.9H460.2V181.7H460.8V180.2H461.4V178.9H462V179.4H462.6V179.9H463.2V179.1H463.8V187.2H464.4V179.3H465V179.0H465.6V178.2H466.2V177.4H466.8V176.5H467.4V176.0H468V174.6H468.6V175.1H469.2V173.5H469.8V172.3H470.4V173.5H471V171.8H471.6V171.7H472.2V170.8H472.8V170.0H473.4V167.2H474V167.9H474.6V167.6H475.2V164.9H475.8V164.1H476.4V164.2H477V163.9H477.6V162.2H478.2V161.6H478.8V160.7H479.4V160.2H480V160.1H480.6V158.7H481.2V156.9H481.8V157.3H482.4V158.0H483V155.4H483.6V154.4H484.2V155.7H484.8V153.3H485.4V153.0H486V152.7H486.6V151.1H487.2V150.7H487.8V151.2H488.4V150.5H489V151.2H489.6V150.1H490.2V149.4H490.8V148.0H491.4V148.4H492V146.2H492.6V146.3H493.2V146.9H493.8V147.1H494.4V146.6H495V148.9H495.6V148.5H496.2V148.1H496.8V147.9H497.4V148.3H498V148.4H498.6V150.8H499.2V150.1H499.8V149.6H500.4V152.0H501V148.8H501.6V154.4H502.2V153.7H502.8V155.3H503.4V155.3H504V159.0H504.6V157.8H505.2V157.4H505.8V157.1H506.4V158.8H507V158.8H507.6V159.8H508.2V160.8H508.8V161.1H509.4V161.9H510V163.1H510.6V165.5H511.2V164.0H511.8V165.4H512.4V165.2H513V167.0H513.6V167.1H514.2V168.4H514.8V168.5H515.4V170.2H516V173.5H516.6V169.4H517.2V169.8H517.8V169.6H518.4V168.0H519V168.9H519.6V168.2H520.2V168.1H520.8V169.0H521.4V169.6H522V167.7H522.6V169.0H523.2V167.9H523.8V169.4H524.4V168.6H525V167.1H525.6V169.1H526.2V167.3H526.8V168.2H527.4V167.7H528V167.4H528.6V167.9H529.2V167.2H529.8V168.6H530.4V168.8H531V168.2H531.6V166.7H532.2V168.0H532.8V167.7H533.4V163.5H534V166.0H534.6V168.0H535.2V168.0H535.8V167.8H536.4V165.5H537V167.0H537.6V165.9H538.2V167.1H538.8V165.7H539.4V166.4H540V165.9H540.6V166.2H541.2V166.3H541.8V164.7H542.4V165.1H543V166.5H543.6V167.3H544.2V165.5H544.8V165.8H545.4V165.5H546V166.2H546.6V165.0H547.2V165.0H547.8V164.5H548.4V164.1H549V164.7H549.6V165.2H550.2V164.5H550.8V166.0H551.4V164.0H552V163.7H552.6V165.3H553.2V163.7H553.8V165.6H554.4V165.1H555V163.8H555.6V163.3H556.2V163.6H556.8V163.7H557.4V165.1H558V164.6H558.6V165.5H559.2V165.8H559.8V164.2H560.4V165.1H561V166.2H561.6V164.4H562.2V165.1H562.8V165.5H563.4V166.4H564V164.8H564.6V164.2H565.2V164.3H565.8V166.3H566.4V165.4H567V167.0H567.6V165.4H568.2V169.9H568.8V172.0H569.4V165.5H570V166.9H570.6V167.0H571.2V166.4H571.8V166.2H572.4V173.9H573V168.0H573.6V166.4H574.2V166.1H574.8V166.2H575.4V167.6H576V167.6H576.6V168.8H577.2V167.8H577.8V167.8H578.4V168.0H579V169.6H579.6V168.8H580.2V169.5H580.8V167.8H581.4V168.4H582V169.6H582.6V168.5H583.2V169.3H583.8V168.9H584.4V169.7H585V169.8H585.6V169.8H586.2V171.4H586.8V171.4H587.4V171.0H588V171.7H588.6V177.5H589.2V172.1H589.8V167.5H590.4V173.2H591V173.0H591.6V172.3H592.2V172.5H592.8V172.6H593.4V174.2H594V172.6H594.6V175.1H595.2V174.6H595.8V173.5H596.4V174.9H597V174.5H597.6V174.2H598.2V176.5H598.8V175.2H599.4V176.0H600V175.6H600.6V175.6H601.2V177.5H601.8V175.8H602.4V178.5H603V177.5H603.6V177.7H604.2V178.0H604.8V177.7H605.4V177.6H606V179.4H606.6V180.2H607.2V180.0H607.8V179.8H608.4V180.8H609V180.8H609.6V180.4H610.2V181.7H610.8V182.0H611.4V180.1H612V182.4H612.6V183.3H613.2V183.2H613.8V182.8H614.4V183.7H615V182.0H615.6V183.4H616.2V181.6H616.8V178.9H617.4V185.1H618V184.5H618.6V184.2H619.2V183.4H619.8V189.4H620.4V186.5H621V185.3H621.6V185.9H622.2V185.8H622.8V184.3H623.4V187.9H624V187.0H624.6V186.9H625.2V188.0H625.8V188.1H626.4V188.6H627V187.9H627.6V189.3H628.2V189.5H628.8V191.0H629.4V191.4H630V190.5H630.6V191.3H631.2V191.9H631.8V190.0H632.4V191.4H633V191.4H633.6V188.8H634.2V192.4H634.8V194.7H635.4V201.8H636V194.3H636.6V193.6H637.2V195.0H637.8V201.7H638.4V194.4H639V195.7H639.6V196.2H640.2V195.5H640.8V196.3H641.4V196.5H642V202.1H642.6V196.5H643.2V195.7H643.8V197.9H644.4V198.1H645V196.6H645.6V196.9H646.2V198.8H646.8V199.5H647.4V199.4H648V199.7H648.6V199.0H649.2V200.4H649.8V200.0H650.4V200.3H651V200.6H651.6V199.9H652.2V201.3H652.8V199.8H653.4V197.5H654V199.7H654.6V198.8H655.2V200.5H655.8V198.9H656.4V198.5H657V199.6H657.6V199.1H658.2V198.1H658.8V197.9H659.4V199.9H660V197.5H660.6V198.1H661.2V197.0H661.8V194.1H662.4V196.3H663V191.3H663.6V189.5H664.2V187.5H664.8V183.5H665.4V179.8H666V177.9H666.6V173.5H667.2V171.3H667.8V176.3H668.4V178.7H669V184.3H669.6V188.1H670.2V191.0H670.8V199.9H671.4V198.1H672V203.1H672.6V207.3H673.2V210.2H673.8V215.2H674.4V217.4H675V220.3H675.6V221.6Z" fill="url(#g2)"/>
<line x1="424.9" y1="140.2" x2="424.9" y2="221.6" stroke="#e2b8e2" stroke-width="1"/>
<defs><linearGradient id="g3" gradientUnits="userSpaceOnUse" x1="370" y1="0" x2="677" y2="0"><stop offset="0.0085" stop-color="#b35ab3"/><stop offset="0.0227" stop-color="#a648a6"/><stop offset="0.0397" stop-color="#b35ab3"/><stop offset="0.0655" stop-color="#9e3e9e"/><stop offset="0.0933" stop-color="#a648a6"/><stop offset="0.1119" stop-color="#9e3e9e"/><stop offset="0.1276" stop-color="#a648a6"/><stop offset="0.1432" stop-color="#b35ab3"/><stop offset="0.1582" stop-color="#9e3e9e"/><stop offset="0.1747" stop-color="#a648a6"/><stop offset="0.1944" stop-color="#b35ab3"/><stop offset="0.2130" stop-color="#9e3e9e"/><stop offset="0.2274" stop-color="#b35ab3"/><stop offset="0.2445" stop-color="#9e3e9e"/><stop offset="0.2599" stop-color="#b35ab3"/><stop offset="0.2766" stop-color="#a648a6"/><stop offset="0.2979" stop-color="#9e3e9e"/><stop offset="0.3224" stop-color="#b35ab3"/><stop offset="0.3456" stop-color="#9e3e9e"/><stop offset="0.3660" stop-color="#a648a6"/><stop offset="0.3871" stop-color="#9e3e9e"/><stop offset="0.4037" stop-color="#b35ab3"/><stop offset="0.4215" stop-color="#a648a6"/><stop offset="0.4452" stop-color="#9e3e9e"/><stop offset="0.4662" stop-color="#a648a6"/><stop offset="0.4818" stop-color="#b35ab3"/><stop offset="0.4988" stop-color="#9e3e9e"/><stop offset="0.5142" stop-color="#b35ab3"/><stop offset="0.5335" stop-color="#9e3e9e"/><stop offset="0.5595" stop-color="#a648a6"/><stop offset="0.5860" stop-color="#b35ab3"/><stop offset="0.6103" stop-color="#9e3e9e"/><stop offset="0.6270" stop-color="#b35ab3"/><stop offset="0.6458" stop-color="#9e3e9e"/><stop offset="0.6717" stop-color="#b35ab3"/><stop offset="0.6956" stop-color="#9e3e9e"/><stop offset="0.7185" stop-color="#a648a6"/><stop offset="0.7407" stop-color="#9e3e9e"/><stop offset="0.7605" stop-color="#a648a6"/><stop offset="0.7809" stop-color="#b35ab3"/><stop offset="0.7999" stop-color="#9e3e9e"/><stop offset="0.8161" stop-color="#a648a6"/><stop offset="0.8307" stop-color="#b35ab3"/><stop offset="0.8500" stop-color="#9e3e9e"/><stop offset="0.8742" stop-color="#b35ab3"/><stop offset="0.8970" stop-color="#a648a6"/><stop offset="0.9162" stop-color="#b35ab3"/><stop offset="0.9400" stop-color="#a648a6"/><stop offset="0.9627" stop-color="#9e3e9e"/><stop offset="0.9825" stop-color="#a648a6"/><stop offset="0.9971" stop-color="#9e3e9e"/></linearGradient></defs>
<path d="M382,221.6V221.1H382.6V220.0H383.2V219.6H383.8V217.9H384.4V215.6H385V214.6H385.6V213.0H386.2V211.7H386.8V208.1H387.4V208.0H388V204.4H388.6V203.6H389.2V201.0H389.8V199.3H390.4V198.6H391V197.2H391.6V195.2H392.2V194.7H392.8V194.7H393.4V193.6H394V193.5H394.6V196.2H395.2V197.4H395.8V198.1H396.4V197.7H397V199.3H397.6V198.7H398.2V199.5H398.8V199.3H399.4V199.5H400V201.0H400.6V201.2H401.2V199.3H401.8V199.6H402.4V201.6H403V200.6H403.6V201.1H404.2V200.9H404.8V199.8H405.4V201.1H406V199.9H406.6V199.9H407.2V200.1H407.8V201.4H408.4V200.5H409V200.5H409.6V200.7H410.2V202.0H410.8V201.6H411.4V199.7H412V200.7H412.6V197.9H413.2V197.8H413.8V197.5H414.4V196.6H415V194.7H415.6V193.9H416.2V193.2H416.8V193.2H417.4V193.1H418V190.5H418.6V190.6H419.2V189.4H419.8V190.4H420.4V188.9H421V187.8H421.6V188.6H422.2V187.8H422.8V187.6H423.4V185.9H424V185.5H424.6V185.6H425.2V187.7H425.8V187.0H426.4V188.8H427V189.3H427.6V190.2H428.2V190.3H428.8V192.1H429.4V192.6H430V193.2H430.6V195.1H431.2V196.8H431.8V196.5H432.4V199.3H433V198.8H433.6V199.6H434.2V198.4H434.8V199.1H435.4V197.0H436V196.7H436.6V197.4H437.2V195.9H437.8V196.9H438.4V195.7H439V197.4H439.6V197.0H440.2V195.9H440.8V194.9H441.4V196.3H442V196.5H442.6V194.9H443.2V194.2H443.8V194.1H444.4V194.7H445V192.9H445.6V192.5H446.2V192.3H446.8V193.7H447.4V193.1H448V193.3H448.6V192.9H449.2V191.7H449.8V190.6H450.4V191.3H451V191.6H451.6V191.4H452.2V189.1H452.8V191.4H453.4V189.8H454V189.1H454.6V189.1H455.2V190.6H455.8V188.8H456.4V188.9H457V188.0H457.6V188.7H458.2V188.9H458.8V188.3H459.4V187.7H460V188.3H460.6V187.6H461.2V187.3H461.8V187.0H462.4V187.2H463V187.0H463.6V188.1H464.2V185.9H464.8V187.4H465.4V187.0H466V186.9H466.6V187.0H467.2V185.0H467.8V186.8H468.4V185.0H469V186.4H469.6V184.4H470.2V184.2H470.8V184.6H471.4V184.8H472V183.4H472.6V183.7H473.2V184.7H473.8V184.6H474.4V184.3H475V184.2H475.6V184.6H476.2V184.9H476.8V183.1H477.4V183.8H478V183.5H478.6V184.5H479.2V183.1H479.8V184.2H480.4V184.3H481V183.6H481.6V184.1H482.2V183.7H482.8V183.5H483.4V181.9H484V181.6H484.6V181.9H485.2V182.4H485.8V182.1H486.4V181.3H487V182.3H487.6V182.2H488.2V180.9H488.8V181.0H489.4V182.4H490V180.8H490.6V181.8H491.2V182.0H491.8V180.4H492.4V179.9H493V181.9H493.6V181.7H494.2V179.8H494.8V181.8H495.4V181.3H496V180.9H496.6V179.7H497.2V179.7H497.8V179.5H498.4V179.1H499V179.9H499.6V180.4H500.2V179.4H500.8V178.9H501.4V179.9H502V179.0H502.6V178.4H503.2V179.9H503.8V179.8H504.4V178.5H505V178.2H505.6V177.5H506.2V178.5H506.8V178.1H507.4V176.6H508V178.9H508.6V176.5H509.2V176.9H509.8V177.3H510.4V176.0H511V178.2H511.6V178.0H512.2V178.1H512.8V178.5H513.4V179.5H514V179.8H514.6V178.0H515.2V178.7H515.8V178.9H516.4V179.6H517V181.0H517.6V180.5H518.2V181.4H518.8V181.9H519.4V182.2H520V182.8H520.6V184.4H521.2V185.3H521.8V185.6H522.4V185.6H523V185.3H523.6V185.9H524.2V187.8H524.8V188.5H525.4V187.9H526V190.6H526.6V190.5H527.2V189.8H527.8V192.5H528.4V193.2H529V193.2H529.6V194.2H530.2V194.3H530.8V194.7H531.4V196.3H532V195.4H532.6V195.9H533.2V197.9H533.8V198.0H534.4V196.8H535V197.3H535.6V198.2H536.2V200.2H536.8V200.3H537.4V200.8H538V200.7H538.6V200.9H539.2V201.6H539.8V202.3H540.4V201.9H541V202.1H541.6V205.1H542.2V203.5H542.8V204.5H543.4V206.1H544V205.4H544.6V206.7H545.2V207.7H545.8V206.4H546.4V207.3H547V209.1H547.6V209.7H548.2V210.1H548.8V211.0H549.4V210.4H550V211.4H550.6V211.3H551.2V212.2H551.8V213.2H552.4V214.2H553V213.8H553.6V215.5H554.2V215.9H554.8V214.5H555.4V215.9H556V216.6H556.6V217.7H557.2V216.6H557.8V218.8H558.4V218.4H559V218.1H559.6V217.8H560.2V220.1H560.8V219.4H561.4V220.6H562V219.3H562.6V220.6H563.2V221.2H563.8V220.3H564.4V219.7H565V220.2H565.6V220.6H566.2V221.6Z" fill="url(#g3)"/>
<path d="M380,221.6V221.6H380.6V220.4H381.2V219.0H381.8V218.8H382.4V218.5H383V219.6H383.6V218.3H384.2V217.1H384.8V217.4H385.4V217.5H386V215.1H386.6V214.6H387.2V216.3H387.8V216.4H388.4V214.1H389V216.2H389.6V214.5H390.2V212.7H390.8V214.7H391.4V214.3H392V214.3H392.6V212.4H393.2V214.0H393.8V214.0H394.4V212.5H395V212.8H395.6V212.2H396.2V214.5H396.8V211.3H397.4V212.8H398V213.7H398.6V214.0H399.2V212.6H399.8V212.7H400.4V213.0H401V212.0H401.6V211.3H402.2V212.9H402.8V211.3H403.4V213.4H404V213.3H404.6V210.3H405.2V212.3H405.8V211.9H406.4V212.2H407V211.5H407.6V210.8H408.2V209.6H408.8V208.6H409.4V207.3H410V206.9H410.6V204.7H411.2V205.1H411.8V205.4H412.4V206.4H413V204.3H413.6V204.4H414.2V205.5H414.8V201.9H415.4V203.5H416V203.0H416.6V199.9H417.2V199.8H417.8V198.3H418.4V198.6H419V195.9H419.6V196.4H420.2V196.5H420.8V193.2H421.4V191.8H422V192.7H422.6V189.4H423.2V190.3H423.8V186.4H424.4V185.5H425V187.0H425.6V188.1H426.2V188.8H426.8V189.7H427.4V192.2H428V191.0H428.6V195.2H429.2V194.3H429.8V196.5H430.4V197.3H431V198.1H431.6V199.7H432.2V201.7H432.8V200.1H433.4V201.1H434V203.0H434.6V202.8H435.2V203.9H435.8V203.5H436.4V205.3H437V205.4H437.6V207.0H438.2V207.0H438.8V206.1H439.4V206.7H440V208.1H440.6V207.4H441.2V208.4H441.8V211.2H442.4V211.1H443V211.4H443.6V211.7H444.2V212.5H444.8V210.1H445.4V212.3H446V211.7H446.6V213.5H447.2V212.0H447.8V213.8H448.4V210.9H449V213.3H449.6V213.3H450.2V211.5H450.8V211.7H451.4V213.7H452V211.1H452.6V213.9H453.2V213.7H453.8V212.1H454.4V211.6H455V211.5H455.6V212.3H456.2V213.6H456.8V212.4H457.4V213.2H458V212.7H458.6V211.7H459.2V212.4H459.8V212.8H460.4V212.4H461V213.1H461.6V213.0H462.2V212.5H462.8V212.2H463.4V212.7H464V210.3H464.6V210.5H465.2V211.5H465.8V210.8H466.4V210.6H467V212.2H467.6V211.0H468.2V212.0H468.8V210.9H469.4V212.0H470V212.8H470.6V211.1H471.2V213.0H471.8V211.7H472.4V211.2H473V211.3H473.6V210.5H474.2V211.8H474.8V210.2H475.4V212.2H476V210.5H476.6V210.3H477.2V210.8H477.8V211.2H478.4V210.6H479V210.0H479.6V210.3H480.2V210.8H480.8V210.3H481.4V211.4H482V210.5H482.6V210.4H483.2V211.6H483.8V210.4H484.4V210.6H485V209.9H485.6V212.0H486.2V209.9H486.8V210.9H487.4V211.1H488V210.1H488.6V209.7H489.2V210.9H489.8V210.1H490.4V212.4H491V210.9H491.6V211.6H492.2V210.2H492.8V211.6H493.4V210.4H494V209.9H494.6V212.2H495.2V212.0H495.8V211.1H496.4V209.3H497V212.0H497.6V211.8H498.2V212.0H498.8V212.0H499.4V209.6H500V209.7H500.6V211.9H501.2V209.1H501.8V212.0H502.4V210.1H503V211.5H503.6V209.8H504.2V209.1H504.8V210.5H505.4V211.3H506V210.8H506.6V210.0H507.2V209.8H507.8V210.1H508.4V208.9H509V210.9H509.6V208.9H510.2V211.5H510.8V210.8H511.4V210.8H512V211.8H512.6V211.1H513.2V209.5H513.8V209.7H514.4V209.9H515V210.0H515.6V211.5H516.2V210.5H516.8V210.9H517.4V209.4H518V210.0H518.6V211.0H519.2V211.1H519.8V212.4H520.4V210.7H521V210.0H521.6V212.9H522.2V210.7H522.8V212.5H523.4V211.7H524V210.9H524.6V213.0H525.2V211.8H525.8V211.5H526.4V210.6H527V210.9H527.6V211.7H528.2V211.6H528.8V211.4H529.4V212.0H530V213.1H530.6V213.7H531.2V212.6H531.8V214.3H532.4V212.9H533V212.9H533.6V214.4H534.2V211.9H534.8V214.7H535.4V212.0H536V213.9H536.6V213.0H537.2V213.6H537.8V213.7H538.4V215.6H539V212.9H539.6V214.9H540.2V215.8H540.8V213.9H541.4V215.5H542V215.6H542.6V213.6H543.2V215.7H543.8V216.5H544.4V215.3H545V216.4H545.6V215.4H546.2V216.2H546.8V216.5H547.4V216.3H548V216.0H548.6V214.9H549.2V215.3H549.8V217.1H550.4V217.6H551V216.0H551.6V216.9H552.2V215.6H552.8V216.4H553.4V216.6H554V217.7H554.6V216.0H555.2V218.1H555.8V218.2H556.4V218.9H557V216.9H557.6V216.9H558.2V216.8H558.8V216.9H559.4V219.6H560V217.5H560.6V217.7H561.2V218.7H561.8V219.0H562.4V217.7H563V219.8H563.6V219.0H564.2V217.3H564.8V219.8H565.4V219.5H566V220.0H566.6V219.4H567.2V219.9H567.8V218.9H568.4V220.2H569V220.5H569.6V220.2H570.2V218.2H570.8V218.3H571.4V219.8H572V218.6H572.6V219.6H573.2V220.7H573.8V221.2H574.4V220.2H575V221.0H575.6V220.5H576.2V220.7H576.8V221.4H577.4V218.5H578V219.1H578.6V219.9H579.2V221.2H579.8V221.1H580.4V220.9H581V218.9H581.6V221.5H582.2V220.0H582.8V221.6H583.4V220.4H584V219.3H584.6V220.4H585.2V221.0H585.8V220.8H586.4V218.4H587V221.0H587.6V219.6H588.2V221.6H588.8V219.6H589.4V218.5H590V218.7H590.6V218.9H591.2V221.2H591.8V220.2H592.4V221.2H593V219.9H593.6V220.6H594.2V221.2H594.8V221.6H595.4V220.2H596V219.9H596.6V219.6H597.2V219.5H597.8V220.2H598.4V219.5H599V221.0H599.6V218.5H600.2V219.1H600.8V220.4H601.4V220.0H602V221.2H602.6V221.1H603.2V219.5H603.8V218.8H604.4V218.9H605V220.8H605.6V220.8H606.2V220.6H606.8V219.0H607.4V219.8H608V220.6H608.6V219.3H609.2V219.5H609.8V220.2H610.4V221.5H611V219.2H611.6V220.4H612.2V219.5H612.8V219.3H613.4V218.8H614V220.1H614.6V219.9H615.2V219.5H615.8V220.7H616.4V220.7H617V218.4H617.6V220.1H618.2V221.1H618.8V221.0H619.4V218.7H620V219.2H620.6V219.9H621.2V218.9H621.8V221.3H622.4V219.9H623V218.6H623.6V218.7H624.2V220.7H624.8V219.8H625.4V220.4H626V218.6H626.6V218.7H627.2V221.1H627.8V221.3H628.4V219.9H629V218.9H629.6V219.1H630.2V219.0H630.8V219.2H631.4V220.8H632V218.8H632.6V218.4H633.2V218.8H633.8V220.1H634.4V221.0H635V218.8H635.6V219.2H636.2V220.4H636.8V220.7H637.4V219.4H638V221.4H638.6V221.0H639.2V218.6H639.8V221.2H640.4V219.3H641V220.1H641.6V218.6H642.2V219.4H642.8V218.6H643.4V218.8H644V221.1H644.6V220.5H645.2V220.1H645.8V219.8H646.4V220.1H647V219.6H647.6V218.6H648.2V221.1H648.8V220.4H649.4V219.4H650V221.1H650.6V219.7H651.2V218.6H651.8V221.4H652.4V220.9H653V219.0H653.6V221.5H654.2V221.5H654.8V219.5H655.4V220.0H656V219.8H656.6V220.6H657.2V219.3H657.8V218.9H658.4V218.9H659V219.0H659.6V220.5H660.2V218.9H660.8V220.5H661.4V218.8H662V220.2H662.6V218.6H663.2V221.0H663.8V219.0H664.4V218.4H665V219.5H665.6V220.5H666.2V219.9H666.8V219.7H667.4V218.5H668V219.0H668.6V219.2H669.2V221.2H669.8V220.1H670.4V220.9H671V221.3H671.6V221.6H672.2V218.9H672.8V219.0H673.4V218.8H674V219.4H674.6V220.1H675.2V220.1H675.8V219.0H676.4V221.6Z" fill="#8e1c8c"/>
<path d="M371,221.8V220.1H371.7V220.6H372.4V220.2H373.1V219.5H373.8V219.1H374.5V219.5H375.2V219.2H375.9V219.6H376.6V220.8H377.3V220.5H378V219.9H378.7V219.2H379.4V219.3H380.1V219.5H380.8V219.5H381.5V219.5H382.2V220.1H382.9V219.4H383.6V220.1H384.3V219.4H385V220.0H385.7V220.1H386.4V220.3H387.1V220.4H387.8V219.9H388.5V220.6H389.2V219.9H389.9V220.3H390.6V220.0H391.3V220.4H392V219.6H392.7V220.9H393.4V220.0H394.1V219.9H394.8V220.9H395.5V218.2H396.2V220.2H396.9V220.1H397.6V220.8H398.3V219.3H399V219.4H399.7V220.2H400.4V220.5H401.1V219.9H401.8V219.7H402.5V220.8H403.2V220.4H403.9V220.4H404.6V219.9H405.3V219.9H406V216.8H406.7V220.6H407.4V219.5H408.1V218.8H408.8V219.7H409.5V220.1H410.2V220.2H410.9V219.9H411.6V219.4H412.3V218.0H413V220.6H413.7V219.1H414.4V220.7H415.1V220.7H415.8V219.8H416.5V219.6H417.2V219.2H417.9V219.5H418.6V220.2H419.3V219.2H420V220.8H420.7V220.6H421.4V220.3H422.1V219.8H422.8V220.8H423.5V220.3H424.2V220.2H424.9V220.2H425.6V220.9H426.3V219.7H427V219.3H427.7V219.9H428.4V219.7H429.1V219.8H429.8V220.3H430.5V217.9H431.2V220.6H431.9V219.2H432.6V220.1H433.3V220.1H434V219.5H434.7V219.7H435.4V217.1H436.1V219.8H436.8V220.4H437.5V220.4H438.2V220.4H438.9V220.4H439.6V219.5H440.3V220.3H441V219.5H441.7V220.7H442.4V218.4H443.1V220.0H443.8V220.3H444.5V220.5H445.2V219.2H445.9V220.1H446.6V219.4H447.3V219.3H448V220.0H448.7V219.6H449.4V219.1H450.1V220.8H450.8V220.5H451.5V220.6H452.2V219.5H452.9V219.5H453.6V220.7H454.3V219.8H455V220.6H455.7V218.5H456.4V219.8H457.1V217.2H457.8V219.2H458.5V219.8H459.2V219.3H459.9V219.3H460.6V219.5H461.3V220.6H462V218.9H462.7V219.7H463.4V220.0H464.1V219.1H464.8V220.6H465.5V220.8H466.2V220.4H466.9V217.5H467.6V220.8H468.3V220.0H469V219.8H469.7V219.5H470.4V220.5H471.1V219.6H471.8V220.6H472.5V220.9H473.2V220.1H473.9V219.3H474.6V219.0H475.3V219.2H476V217.9H476.7V219.4H477.4V220.8H478.1V219.5H478.8V220.5H479.5V220.2H480.2V219.4H480.9V219.8H481.6V219.4H482.3V220.8H483V219.7H483.7V219.5H484.4V220.3H485.1V220.7H485.8V219.7H486.5V218.1H487.2V219.4H487.9V219.2H488.6V220.5H489.3V219.6H490V219.5H490.7V217.6H491.4V219.6H492.1V220.8H492.8V219.6H493.5V220.2H494.2V220.5H494.9V220.7H495.6V218.7H496.3V219.9H497V219.2H497.7V220.2H498.4V219.7H499.1V219.7H499.8V220.2H500.5V219.7H501.2V220.5H501.9V219.4H502.6V220.0H503.3V219.9H504V220.7H504.7V220.5H505.4V220.6H506.1V219.3H506.8V219.4H507.5V219.5H508.2V219.2H508.9V219.4H509.6V219.4H510.3V220.6H511V219.2H511.7V219.8H512.4V220.6H513.1V220.7H513.8V220.8H514.5V220.4H515.2V219.7H515.9V220.5H516.6V220.8H517.3V219.6H518V216.8H518.7V219.7H519.4V220.5H520.1V220.4H520.8V219.2H521.5V220.7H522.2V220.4H522.9V219.5H523.6V220.5H524.3V220.3H525V220.2H525.7V219.1H526.4V220.9H527.1V220.2H527.8V217.2H528.5V219.8H529.2V220.4H529.9V220.0H530.6V220.6H531.3V220.0H532V220.1H532.7V219.2H533.4V220.5H534.1V220.6H534.8V219.4H535.5V220.2H536.2V219.4H536.9V220.6H537.6V220.0H538.3V219.7H539V218.1H539.7V219.1H540.4V219.9H541.1V219.1H541.8V220.8H542.5V219.4H543.2V219.7H543.9V217.8H544.6V220.0H545.3V220.2H546V219.7H546.7V220.9H547.4V219.2H548.1V220.2H548.8V216.8H549.5V220.7H550.2V220.6H550.9V219.9H551.6V220.8H552.3V220.2H553V219.9H553.7V220.3H554.4V220.9H555.1V220.5H555.8V219.1H556.5V219.7H557.2V220.0H557.9V220.9H558.6V220.0H559.3V220.8H560V220.4H560.7V219.8H561.4V219.9H562.1V220.0H562.8V220.0H563.5V219.5H564.2V220.9H564.9V219.8H565.6V220.1H566.3V219.2H567V220.3H567.7V220.6H568.4V219.8H569.1V220.0H569.8V220.1H570.5V220.5H571.2V219.4H571.9V217.9H572.6V219.3H573.3V219.9H574V219.7H574.7V219.6H575.4V219.7H576.1V219.5H576.8V219.5H577.5V220.3H578.2V220.6H578.9V219.6H579.6V220.7H580.3V219.8H581V219.2H581.7V220.8H582.4V219.4H583.1V219.4H583.8V219.2H584.5V217.7H585.2V220.1H585.9V219.3H586.6V220.2H587.3V219.8H588V219.1H588.7V219.7H589.4V220.4H590.1V220.1H590.8V219.6H591.5V220.3H592.2V220.5H592.9V216.8H593.6V220.8H594.3V219.1H595V218.5H595.7V220.2H596.4V219.4H597.1V220.2H597.8V220.0H598.5V220.4H599.2V220.5H599.9V220.7H600.6V219.6H601.3V220.1H602V220.5H602.7V220.5H603.4V219.8H604.1V220.2H604.8V219.5H605.5V218.4H606.2V217.6H606.9V215.8H607.6V219.7H608.3V219.9H609V220.7H609.7V220.1H610.4V219.7H611.1V220.3H611.8V220.1H612.5V220.5H613.2V220.8H613.9V220.0H614.6V219.9H615.3V218.5H616V220.1H616.7V219.6H617.4V219.2H618.1V219.6H618.8V219.8H619.5V220.4H620.2V220.2H620.9V218.8H621.6V219.5H622.3V219.6H623V219.3H623.7V219.6H624.4V220.9H625.1V220.4H625.8V219.6H626.5V220.8H627.2V220.5H627.9V219.2H628.6V219.8H629.3V220.6H630V220.4H630.7V220.2H631.4V219.6H632.1V220.0H632.8V219.9H633.5V220.7H634.2V220.0H634.9V220.4H635.6V220.6H636.3V219.3H637V220.6H637.7V219.8H638.4V219.2H639.1V219.8H639.8V220.3H640.5V220.7H641.2V220.9H641.9V219.3H642.6V220.5H643.3V220.4H644V220.4H644.7V219.5H645.4V220.0H646.1V219.1H646.8V220.2H647.5V220.3H648.2V219.5H648.9V220.3H649.6V220.8H650.3V219.0H651V219.6H651.7V220.0H652.4V220.0H653.1V220.6H653.8V220.2H654.5V220.8H655.2V220.3H655.9V219.9H656.6V220.3H657.3V220.8H658V219.6H658.7V219.1H659.4V220.2H660.1V220.4H660.8V220.4H661.5V219.8H662.2V219.3H662.9V219.7H663.6V220.7H664.3V216.3H665V220.7H665.7V219.5H666.4V219.5H667.1V219.8H667.8V220.5H668.5V220.5H669.2V219.4H669.9V219.5H670.6V219.2H671.3V220.8H672V220.0H672.7V220.1H673.4V219.4H674.1V220.5H674.8V219.4H675.5V220.8H676.2V221.8Z" fill="#7f1580"/>
<path d="M573.94,221.6V221.6H574.34V219.2H574.74V216.2H575.14V210.9H575.54V206.4H575.94V202.1H576.34V192.3H576.74V194.3H577.14V202.4H577.54V207.2H577.94V212.4H578.34V216.6H578.74V219.3H579.14V221.6Z" fill="#9a2898"/>
<path d="M622.94,221.6V221.4H623.34V216.9H623.74V212.1H624.14V207.9H624.54V200.2H624.94V202.4H625.34V208.4H625.74V213.6H626.14V218.9H626.54V221.6Z" fill="#9a2898"/>
<path d="M642.3,221.6V221.4H642.7V216.4H643.1V212.1H643.5V207.3H643.9V197.9H644.3V207.0H644.7V211.6H645.1V216.4H645.5V221.6H645.9V221.6Z" fill="#9a2898"/>
<path d="M600.72,221.6V221.6H601.12V216.1H601.52V212.0H601.92V206.7H602.32V209.6H602.72V213.9H603.12V220.0H603.52V221.6Z" fill="#9a2898"/>
<path d="M451.3,207 C453.08,203.83 458.22,194.67 462,188 C465.78,181.33 470.33,172.83 474,167 C477.67,161.17 481.5,156.17 484,153 C486.5,149.83 487.58,149.1 489,148 C490.42,146.9 491.33,146.4 492.5,146.4 C493.67,146.4 494.58,146.9 496,148 C497.42,149.1 498.5,149.83 501,153 C503.5,156.17 507.33,161.17 511,167 C514.67,172.83 519.08,181.62 523,188 C526.92,194.38 532.58,202.42 534.5,205.3" fill="none" stroke="#d3263f" stroke-width="1.1"/>
<path d="M466.4,199.4 C469.5,197.17 478.57,190.07 485,186 C491.43,181.93 498.33,178.08 505,175 C511.67,171.92 519,169.23 525,167.5 C531,165.77 535.77,165.18 541,164.6 C546.23,164.02 551.4,163.8 556.4,164 C561.4,164.2 565.9,164.72 571,165.8 C576.1,166.88 581.33,168.47 587,170.5 C592.67,172.53 598.33,174.83 605,178 C611.67,181.17 619.8,185.77 627,189.5 C634.2,193.23 644.67,198.58 648.2,200.4" fill="none" stroke="#2b3f9e" stroke-width="1.1"/>
<line x1="425.4" y1="132.7" x2="425.4" y2="140.8" stroke="#333" stroke-width="0.9"/>
<line x1="492.7" y1="132.7" x2="492.7" y2="145.5" stroke="#333" stroke-width="0.9"/>
<line x1="556.4" y1="132.7" x2="556.4" y2="161.7" stroke="#333" stroke-width="0.9"/>
<line x1="426.9" y1="137.4" x2="491.2" y2="137.4" stroke="#333" stroke-width="0.9"/>
<path d="M425.9,137.4 L430.4,135 L430.4,139.8 Z" fill="#333"/>
<path d="M492.2,137.4 L487.7,135 L487.7,139.8 Z" fill="#333"/>
<line x1="494.2" y1="137.4" x2="554.9" y2="137.4" stroke="#333" stroke-width="0.9"/>
<path d="M493.2,137.4 L497.7,135 L497.7,139.8 Z" fill="#333"/>
<path d="M555.9,137.4 L551.4,135 L551.4,139.8 Z" fill="#333"/>
<text x="450.5" y="148.3" font-size="9.6" fill="#2a2a2a"><tspan font-family="Liberation Serif">Δ</tspan><tspan font-family="Liberation Serif">ν</tspan><tspan font-size="6.2" dy="2.5" stroke-width="0.05" letter-spacing="0.2">p,i</tspan></text>
<text x="518.7" y="148.3" font-size="9.6" fill="#2a2a2a"><tspan font-family="Liberation Serif">Δ</tspan><tspan font-family="Liberation Serif">ν</tspan><tspan font-size="6.2" dy="2.5" stroke-width="0.05" letter-spacing="0.2">p,s</tspan></text>
<defs><linearGradient id="g4" gradientUnits="userSpaceOnUse" x1="370" y1="0" x2="677" y2="0"><stop offset="0.0137" stop-color="#ae8bcb"/><stop offset="0.0389" stop-color="#bb98d4"/><stop offset="0.0598" stop-color="#ae8bcb"/><stop offset="0.0746" stop-color="#c6a6db"/><stop offset="0.0853" stop-color="#bb98d4"/><stop offset="0.1051" stop-color="#ae8bcb"/><stop offset="0.1274" stop-color="#bb98d4"/><stop offset="0.1497" stop-color="#ae8bcb"/><stop offset="0.1760" stop-color="#bb98d4"/><stop offset="0.1968" stop-color="#ae8bcb"/><stop offset="0.2118" stop-color="#c6a6db"/><stop offset="0.2255" stop-color="#bb98d4"/><stop offset="0.2384" stop-color="#c6a6db"/><stop offset="0.2571" stop-color="#bb98d4"/><stop offset="0.2807" stop-color="#ae8bcb"/><stop offset="0.3014" stop-color="#c6a6db"/><stop offset="0.3234" stop-color="#bb98d4"/><stop offset="0.3453" stop-color="#c6a6db"/><stop offset="0.3621" stop-color="#bb98d4"/><stop offset="0.3800" stop-color="#c6a6db"/><stop offset="0.4049" stop-color="#ae8bcb"/><stop offset="0.4262" stop-color="#c6a6db"/><stop offset="0.4395" stop-color="#ae8bcb"/><stop offset="0.4558" stop-color="#c6a6db"/><stop offset="0.4789" stop-color="#bb98d4"/><stop offset="0.5017" stop-color="#c6a6db"/><stop offset="0.5232" stop-color="#ae8bcb"/><stop offset="0.5427" stop-color="#bb98d4"/><stop offset="0.5604" stop-color="#ae8bcb"/><stop offset="0.5836" stop-color="#bb98d4"/><stop offset="0.6035" stop-color="#c6a6db"/><stop offset="0.6218" stop-color="#bb98d4"/><stop offset="0.6415" stop-color="#c6a6db"/><stop offset="0.6559" stop-color="#ae8bcb"/><stop offset="0.6741" stop-color="#bb98d4"/><stop offset="0.6941" stop-color="#ae8bcb"/><stop offset="0.7154" stop-color="#bb98d4"/><stop offset="0.7386" stop-color="#ae8bcb"/><stop offset="0.7587" stop-color="#c6a6db"/><stop offset="0.7811" stop-color="#ae8bcb"/><stop offset="0.8059" stop-color="#c6a6db"/><stop offset="0.8305" stop-color="#bb98d4"/><stop offset="0.8534" stop-color="#ae8bcb"/><stop offset="0.8749" stop-color="#c6a6db"/><stop offset="0.8982" stop-color="#bb98d4"/><stop offset="0.9208" stop-color="#ae8bcb"/><stop offset="0.9404" stop-color="#c6a6db"/><stop offset="0.9563" stop-color="#bb98d4"/><stop offset="0.9724" stop-color="#ae8bcb"/><stop offset="0.9907" stop-color="#c6a6db"/></linearGradient></defs>
<path d="M395,332.8V331.9H395.6V327.8H396.2V330.7H396.8V331.6H397.4V330.9H398V330.0H398.6V327.9H399.2V326.7H399.8V326.6H400.4V327.3H401V325.9H401.6V325.7H402.2V326.1H402.8V324.5H403.4V324.0H404V321.8H404.6V322.7H405.2V320.4H405.8V318.7H406.4V317.6H407V317.2H407.6V315.4H408.2V315.2H408.8V313.9H409.4V312.6H410V309.7H410.6V307.5H411.2V305.9H411.8V305.2H412.4V303.5H413V300.9H413.6V300.0H414.2V296.4H414.8V293.6H415.4V292.3H416V287.9H416.6V285.8H417.2V282.0H417.8V278.0H418.4V277.1H419V273.8H419.6V269.0H420.2V266.6H420.8V264.0H421.4V262.8H422V259.0H422.6V258.4H423.2V257.5H423.8V258.0H424.4V258.2H425V258.5H425.6V259.2H426.2V265.4H426.8V269.2H427.4V270.0H428V277.0H428.6V279.8H429.2V280.9H429.8V283.3H430.4V285.5H431V285.8H431.6V286.7H432.2V288.5H432.8V287.2H433.4V284.9H434V289.1H434.6V290.0H435.2V288.7H435.8V289.7H436.4V291.6H437V290.7H437.6V291.7H438.2V291.4H438.8V290.8H439.4V292.5H440V290.0H440.6V289.7H441.2V290.9H441.8V290.1H442.4V289.7H443V289.2H443.6V291.0H444.2V290.8H444.8V289.7H445.4V298.6H446V289.1H446.6V290.2H447.2V289.3H447.8V288.3H448.4V288.9H449V289.8H449.6V287.9H450.2V287.8H450.8V289.4H451.4V289.5H452V288.5H452.6V288.3H453.2V287.4H453.8V284.4H454.4V286.9H455V287.4H455.6V286.2H456.2V287.4H456.8V285.7H457.4V287.0H458V287.8H458.6V286.7H459.2V285.9H459.8V286.3H460.4V285.4H461V286.1H461.6V285.5H462.2V284.7H462.8V285.6H463.4V283.4H464V285.2H464.6V284.3H465.2V283.8H465.8V284.1H466.4V284.2H467V282.4H467.6V281.5H468.2V282.7H468.8V281.3H469.4V280.9H470V280.1H470.6V277.3H471.2V280.5H471.8V279.8H472.4V279.3H473V277.8H473.6V277.8H474.2V279.3H474.8V277.9H475.4V277.9H476V276.6H476.6V277.3H477.2V275.6H477.8V274.7H478.4V274.5H479V275.1H479.6V275.0H480.2V273.6H480.8V272.6H481.4V272.9H482V270.9H482.6V270.9H483.2V270.9H483.8V273.0H484.4V270.8H485V270.9H485.6V270.0H486.2V270.8H486.8V270.3H487.4V270.1H488V268.9H488.6V269.4H489.2V267.8H489.8V269.6H490.4V265.9H491V267.6H491.6V267.2H492.2V266.4H492.8V266.8H493.4V266.0H494V267.8H494.6V266.8H495.2V267.1H495.8V264.7H496.4V266.4H497V271.1H497.6V266.8H498.2V266.0H498.8V266.0H499.4V264.4H500V266.7H500.6V264.6H501.2V265.9H501.8V265.0H502.4V265.9H503V264.9H503.6V266.1H504.2V266.3H504.8V266.3H505.4V266.1H506V266.7H506.6V267.3H507.2V266.7H507.8V266.7H508.4V267.7H509V268.8H509.6V269.8H510.2V267.9H510.8V269.3H511.4V269.9H512V268.6H512.6V267.8H513.2V269.6H513.8V269.4H514.4V271.2H515V269.6H515.6V270.8H516.2V271.0H516.8V270.8H517.4V270.1H518V269.9H518.6V270.6H519.2V271.6H519.8V270.4H520.4V269.8H521V269.6H521.6V270.2H522.2V270.3H522.8V270.4H523.4V270.4H524V267.8H524.6V272.1H525.2V270.8H525.8V271.1H526.4V270.7H527V270.7H527.6V272.2H528.2V272.6H528.8V272.2H529.4V271.1H530V271.8H530.6V271.5H531.2V272.3H531.8V276.3H532.4V273.9H533V273.7H533.6V271.6H534.2V274.4H534.8V272.7H535.4V274.0H536V274.0H536.6V279.8H537.2V275.0H537.8V274.6H538.4V275.2H539V276.7H539.6V274.0H540.2V277.9H540.8V276.3H541.4V276.3H542V276.4H542.6V278.6H543.2V279.2H543.8V277.6H544.4V277.7H545V278.5H545.6V279.4H546.2V279.7H546.8V280.9H547.4V279.7H548V280.8H548.6V282.7H549.2V281.3H549.8V282.6H550.4V283.1H551V282.9H551.6V283.5H552.2V283.8H552.8V283.9H553.4V283.4H554V285.0H554.6V284.6H555.2V282.1H555.8V285.5H556.4V284.8H557V285.5H557.6V286.0H558.2V286.6H558.8V287.6H559.4V287.2H560V288.8H560.6V288.0H561.2V289.9H561.8V288.6H562.4V290.2H563V290.4H563.6V291.9H564.2V290.1H564.8V292.2H565.4V291.4H566V293.0H566.6V294.0H567.2V294.5H567.8V293.3H568.4V293.6H569V293.8H569.6V296.2H570.2V296.4H570.8V295.9H571.4V294.4H572V296.4H572.6V298.4H573.2V296.8H573.8V299.3H574.4V299.0H575V300.0H575.6V299.6H576.2V299.7H576.8V299.8H577.4V301.1H578V302.2H578.6V302.3H579.2V302.2H579.8V302.7H580.4V304.4H581V304.7H581.6V303.7H582.2V305.8H582.8V305.1H583.4V306.0H584V306.9H584.6V307.5H585.2V308.1H585.8V308.2H586.4V308.9H587V308.5H587.6V308.1H588.2V308.8H588.8V310.4H589.4V310.6H590V310.1H590.6V311.7H591.2V311.3H591.8V312.1H592.4V312.2H593V312.6H593.6V314.5H594.2V313.8H594.8V315.7H595.4V316.4H596V315.7H596.6V315.9H597.2V318.1H597.8V318.0H598.4V319.2H599V320.1H599.6V320.3H600.2V320.9H600.8V319.4H601.4V322.0H602V320.4H602.6V321.9H603.2V322.5H603.8V323.0H604.4V324.4H605V325.3H605.6V325.1H606.2V324.6H606.8V332.8H607.4V326.1H608V328.0H608.6V329.8H609.2V330.4H609.8V330.9H610.4V332.1H611V331.5H611.6V330.6H612.2V332.8Z" fill="url(#g4)"/>
<line x1="446.5" y1="254" x2="446.5" y2="332.8" stroke="#8e5cb8" stroke-width="1"/>
<line x1="492.3" y1="252.5" x2="492.3" y2="332.8" stroke="#b08ad0" stroke-width="0.9"/>
<path d="M576,332.8V332.8H576.6V327.7H577.2V320.9H577.8V314.8H578.4V310.7H579V310.2H579.6V309.2H580.2V306.8H580.8V304.3H581.4V304.5H582V303.2H582.6V301.5H583.2V300.5H583.8V299.0H584.4V297.9H585V296.4H585.6V295.4H586.2V293.9H586.8V289.9H587.4V288.0H588V284.3H588.6V279.6H589.2V274.1H589.8V271.1H590.4V268.7H591V273.2H591.6V277.8H592.2V282.9H592.8V287.4H593.4V292.8H594V295.3H594.6V300.6H595.2V302.1H595.8V304.3H596.4V306.5H597V310.8H597.6V314.2H598.2V317.6H598.8V322.0H599.4V326.7H600V332.8H600.6V332.8Z" fill="#b895d2"/>
<defs><linearGradient id="g5" gradientUnits="userSpaceOnUse" x1="370" y1="0" x2="677" y2="0"><stop offset="0.0065" stop-color="#8e60b4"/><stop offset="0.0215" stop-color="#7a48a6"/><stop offset="0.0381" stop-color="#8e60b4"/><stop offset="0.0605" stop-color="#8454ae"/><stop offset="0.0892" stop-color="#8e60b4"/><stop offset="0.1166" stop-color="#8454ae"/><stop offset="0.1389" stop-color="#7a48a6"/><stop offset="0.1585" stop-color="#8454ae"/><stop offset="0.1795" stop-color="#7a48a6"/><stop offset="0.1991" stop-color="#8e60b4"/><stop offset="0.2182" stop-color="#7a48a6"/><stop offset="0.2349" stop-color="#8e60b4"/><stop offset="0.2465" stop-color="#8454ae"/><stop offset="0.2627" stop-color="#7a48a6"/><stop offset="0.2872" stop-color="#8e60b4"/><stop offset="0.3103" stop-color="#8454ae"/><stop offset="0.3325" stop-color="#7a48a6"/><stop offset="0.3518" stop-color="#8e60b4"/><stop offset="0.3638" stop-color="#8454ae"/><stop offset="0.3774" stop-color="#7a48a6"/><stop offset="0.3939" stop-color="#8454ae"/><stop offset="0.4077" stop-color="#7a48a6"/><stop offset="0.4270" stop-color="#8454ae"/><stop offset="0.4511" stop-color="#7a48a6"/><stop offset="0.4757" stop-color="#8e60b4"/><stop offset="0.4980" stop-color="#7a48a6"/><stop offset="0.5181" stop-color="#8e60b4"/><stop offset="0.5421" stop-color="#8454ae"/><stop offset="0.5674" stop-color="#7a48a6"/><stop offset="0.5947" stop-color="#8454ae"/><stop offset="0.6162" stop-color="#7a48a6"/><stop offset="0.6312" stop-color="#8e60b4"/><stop offset="0.6485" stop-color="#8454ae"/><stop offset="0.6667" stop-color="#8e60b4"/><stop offset="0.6894" stop-color="#7a48a6"/><stop offset="0.7180" stop-color="#8e60b4"/><stop offset="0.7417" stop-color="#7a48a6"/><stop offset="0.7643" stop-color="#8e60b4"/><stop offset="0.7848" stop-color="#7a48a6"/><stop offset="0.8001" stop-color="#8e60b4"/><stop offset="0.8163" stop-color="#8454ae"/><stop offset="0.8334" stop-color="#8e60b4"/><stop offset="0.8543" stop-color="#7a48a6"/><stop offset="0.8732" stop-color="#8454ae"/><stop offset="0.8859" stop-color="#7a48a6"/><stop offset="0.9048" stop-color="#8e60b4"/><stop offset="0.9303" stop-color="#8454ae"/><stop offset="0.9479" stop-color="#8e60b4"/><stop offset="0.9654" stop-color="#7a48a6"/><stop offset="0.9846" stop-color="#8454ae"/><stop offset="0.9956" stop-color="#8e60b4"/></linearGradient></defs>
<path d="M441.9,332.8V332.8H442.5V324.8H443.1V325.2H443.7V323.2H444.3V321.5H444.9V321.1H445.5V322.0H446.1V321.4H446.7V321.4H447.3V321.2H447.9V317.9H448.5V320.0H449.1V317.4H449.7V316.3H450.3V316.8H450.9V315.8H451.5V315.2H452.1V315.9H452.7V316.3H453.3V315.1H453.9V313.9H454.5V314.0H455.1V312.6H455.7V311.7H456.3V312.4H456.9V312.1H457.5V311.9H458.1V309.2H458.7V309.9H459.3V311.1H459.9V308.4H460.5V307.2H461.1V309.5H461.7V308.4H462.3V307.8H462.9V307.4H463.5V307.2H464.1V304.6H464.7V306.6H465.3V306.1H465.9V302.8H466.5V305.2H467.1V304.7H467.7V302.0H468.3V301.2H468.9V302.1H469.5V300.8H470.1V301.5H470.7V300.1H471.3V299.7H471.9V300.6H472.5V300.6H473.1V297.1H473.7V298.8H474.3V298.7H474.9V297.5H475.5V296.3H476.1V296.8H476.7V294.6H477.3V294.3H477.9V296.0H478.5V295.2H479.1V292.5H479.7V294.4H480.3V292.1H480.9V294.1H481.5V291.1H482.1V290.5H482.7V292.5H483.3V291.5H483.9V291.3H484.5V289.7H485.1V290.4H485.7V289.5H486.3V289.3H486.9V289.5H487.5V287.2H488.1V287.3H488.7V286.4H489.3V287.1H489.9V287.3H490.5V284.3H491.1V284.1H491.7V283.8H492.3V284.4H492.9V283.9H493.5V282.4H494.1V282.3H494.7V282.3H495.3V282.2H495.9V280.9H496.5V282.6H497.1V280.5H497.7V280.8H498.3V280.4H498.9V280.0H499.5V278.4H500.1V278.5H500.7V279.0H501.3V279.4H501.9V279.8H502.5V278.7H503.1V276.5H503.7V276.9H504.3V277.0H504.9V277.8H505.5V275.5H506.1V277.5H506.7V275.0H507.3V276.6H507.9V276.4H508.5V273.6H509.1V273.7H509.7V274.0H510.3V275.8H510.9V274.0H511.5V274.6H512.1V275.1H512.7V273.7H513.3V272.0H513.9V271.8H514.5V275.2H515.1V275.7H515.7V276.6H516.3V277.2H516.9V279.0H517.5V278.0H518.1V278.3H518.7V278.6H519.3V281.1H519.9V282.7H520.5V283.8H521.1V285.4H521.7V286.0H522.3V287.4H522.9V287.9H523.5V289.0H524.1V289.7H524.7V290.2H525.3V293.4H525.9V294.4H526.5V291.7H527.1V292.2H527.7V293.1H528.3V294.9H528.9V292.9H529.5V296.0H530.1V293.9H530.7V293.8H531.3V294.8H531.9V296.4H532.5V294.8H533.1V295.5H533.7V295.8H534.3V296.5H534.9V296.3H535.5V296.5H536.1V295.1H536.7V296.3H537.3V298.0H537.9V295.3H538.5V295.9H539.1V295.3H539.7V296.6H540.3V296.6H540.9V297.8H541.5V296.5H542.1V296.4H542.7V296.1H543.3V297.4H543.9V296.9H544.5V296.7H545.1V297.1H545.7V297.3H546.3V298.7H546.9V297.4H547.5V297.3H548.1V296.4H548.7V298.0H549.3V299.4H549.9V297.9H550.5V297.9H551.1V299.5H551.7V296.9H552.3V299.9H552.9V297.9H553.5V297.9H554.1V298.9H554.7V297.9H555.3V298.4H555.9V299.5H556.5V298.5H557.1V299.8H557.7V298.6H558.3V301.1H558.9V301.0H559.5V301.2H560.1V299.6H560.7V300.1H561.3V300.8H561.9V299.7H562.5V299.5H563.1V301.4H563.7V302.1H564.3V300.0H564.9V300.9H565.5V301.9H566.1V300.5H566.7V301.8H567.3V301.0H567.9V304.0H568.5V301.8H569.1V304.2H569.7V302.8H570.3V305.7H570.9V304.2H571.5V306.2H572.1V306.2H572.7V306.5H573.3V307.2H573.9V306.9H574.5V309.1H575.1V308.2H575.7V309.7H576.3V309.2H576.9V307.8H577.5V308.8H578.1V309.2H578.7V311.7H579.3V310.6H579.9V312.1H580.5V312.4H581.1V311.5H581.7V311.3H582.3V312.2H582.9V315.1H583.5V315.0H584.1V316.0H584.7V316.3H585.3V317.0H585.9V317.0H586.5V316.9H587.1V316.0H587.7V318.0H588.3V318.0H588.9V319.2H589.5V319.0H590.1V318.0H590.7V320.0H591.3V319.6H591.9V319.9H592.5V319.8H593.1V321.3H593.7V321.4H594.3V321.9H594.9V321.6H595.5V323.4H596.1V321.6H596.7V322.7H597.3V322.7H597.9V323.6H598.5V326.0H599.1V325.2H599.7V324.3H600.3V325.7H600.9V325.1H601.5V325.1H602.1V327.3H602.7V328.3H603.3V329.2H603.9V330.8H604.5V332.7H605.1V332.7H605.7V332.8H606.3V332.8Z" fill="url(#g5)"/>
<defs><linearGradient id="g6" gradientUnits="userSpaceOnUse" x1="370" y1="0" x2="677" y2="0"><stop offset="0.0061" stop-color="#8858b3"/><stop offset="0.0215" stop-color="#a078c6"/><stop offset="0.0356" stop-color="#8858b3"/><stop offset="0.0461" stop-color="#a078c6"/><stop offset="0.0598" stop-color="#9466bd"/><stop offset="0.0726" stop-color="#8858b3"/><stop offset="0.0838" stop-color="#a078c6"/><stop offset="0.0940" stop-color="#9466bd"/><stop offset="0.1016" stop-color="#a078c6"/><stop offset="0.1089" stop-color="#8858b3"/><stop offset="0.1206" stop-color="#9466bd"/><stop offset="0.1323" stop-color="#a078c6"/><stop offset="0.1423" stop-color="#9466bd"/><stop offset="0.1549" stop-color="#8858b3"/><stop offset="0.1645" stop-color="#a078c6"/><stop offset="0.1734" stop-color="#9466bd"/><stop offset="0.1879" stop-color="#8858b3"/><stop offset="0.2019" stop-color="#a078c6"/><stop offset="0.2114" stop-color="#9466bd"/><stop offset="0.2248" stop-color="#8858b3"/><stop offset="0.2419" stop-color="#a078c6"/><stop offset="0.2556" stop-color="#9466bd"/><stop offset="0.2658" stop-color="#8858b3"/><stop offset="0.2789" stop-color="#a078c6"/><stop offset="0.2946" stop-color="#8858b3"/><stop offset="0.3107" stop-color="#a078c6"/><stop offset="0.3256" stop-color="#8858b3"/><stop offset="0.3404" stop-color="#a078c6"/><stop offset="0.3532" stop-color="#9466bd"/><stop offset="0.3644" stop-color="#a078c6"/><stop offset="0.3786" stop-color="#9466bd"/><stop offset="0.3939" stop-color="#a078c6"/><stop offset="0.4056" stop-color="#8858b3"/><stop offset="0.4146" stop-color="#9466bd"/><stop offset="0.4239" stop-color="#8858b3"/><stop offset="0.4344" stop-color="#a078c6"/><stop offset="0.4452" stop-color="#9466bd"/><stop offset="0.4541" stop-color="#8858b3"/><stop offset="0.4668" stop-color="#a078c6"/><stop offset="0.4837" stop-color="#8858b3"/><stop offset="0.5004" stop-color="#a078c6"/><stop offset="0.5153" stop-color="#8858b3"/><stop offset="0.5321" stop-color="#a078c6"/><stop offset="0.5479" stop-color="#9466bd"/><stop offset="0.5597" stop-color="#8858b3"/><stop offset="0.5729" stop-color="#a078c6"/><stop offset="0.5881" stop-color="#9466bd"/><stop offset="0.6020" stop-color="#8858b3"/><stop offset="0.6115" stop-color="#a078c6"/><stop offset="0.6183" stop-color="#8858b3"/><stop offset="0.6291" stop-color="#9466bd"/><stop offset="0.6404" stop-color="#8858b3"/><stop offset="0.6484" stop-color="#9466bd"/><stop offset="0.6592" stop-color="#8858b3"/><stop offset="0.6706" stop-color="#a078c6"/><stop offset="0.6827" stop-color="#8858b3"/><stop offset="0.6945" stop-color="#a078c6"/><stop offset="0.7085" stop-color="#8858b3"/><stop offset="0.7243" stop-color="#9466bd"/><stop offset="0.7385" stop-color="#a078c6"/><stop offset="0.7537" stop-color="#8858b3"/><stop offset="0.7648" stop-color="#a078c6"/><stop offset="0.7752" stop-color="#8858b3"/><stop offset="0.7889" stop-color="#a078c6"/><stop offset="0.7991" stop-color="#9466bd"/><stop offset="0.8105" stop-color="#a078c6"/><stop offset="0.8243" stop-color="#9466bd"/><stop offset="0.8334" stop-color="#8858b3"/><stop offset="0.8462" stop-color="#a078c6"/><stop offset="0.8596" stop-color="#9466bd"/><stop offset="0.8679" stop-color="#8858b3"/><stop offset="0.8764" stop-color="#a078c6"/><stop offset="0.8876" stop-color="#9466bd"/><stop offset="0.9016" stop-color="#8858b3"/><stop offset="0.9160" stop-color="#a078c6"/><stop offset="0.9287" stop-color="#9466bd"/><stop offset="0.9384" stop-color="#a078c6"/><stop offset="0.9490" stop-color="#9466bd"/><stop offset="0.9588" stop-color="#a078c6"/><stop offset="0.9700" stop-color="#8858b3"/><stop offset="0.9865" stop-color="#9466bd"/><stop offset="0.9978" stop-color="#8858b3"/></linearGradient></defs>
<path d="M398,332.8V332.1H398.6V332.1H399.2V330.9H399.8V332.3H400.4V331.9H401V330.7H401.6V330.4H402.2V326.7H402.8V325.8H403.4V326.6H404V324.6H404.6V325.9H405.2V323.4H405.8V321.6H406.4V321.7H407V319.5H407.6V318.8H408.2V317.6H408.8V315.7H409.4V314.5H410V312.9H410.6V311.0H411.2V312.0H411.8V309.5H412.4V306.1H413V304.0H413.6V303.9H414.2V300.2H414.8V299.2H415.4V296.2H416V295.4H416.6V292.5H417.2V290.1H417.8V285.2H418.4V281.1H419V279.9H419.6V277.1H420.2V273.1H420.8V269.2H421.4V266.1H422V264.2H422.6V261.3H423.2V261.1H423.8V261.4H424.4V259.8H425V263.1H425.6V265.3H426.2V266.5H426.8V271.4H427.4V275.4H428V276.0H428.6V281.0H429.2V282.6H429.8V284.2H430.4V285.6H431V286.3H431.6V288.3H432.2V287.8H432.8V288.9H433.4V291.0H434V290.4H434.6V290.8H435.2V290.9H435.8V293.4H436.4V293.3H437V291.8H437.6V294.1H438.2V293.5H438.8V293.6H439.4V293.9H440V295.3H440.6V293.1H441.2V294.7H441.8V291.8H442.4V291.6H443V291.3H443.6V291.5H444.2V289.0H444.8V288.7H445.4V288.3H446V287.2H446.6V288.1H447.2V290.6H447.8V293.2H448.4V293.5H449V295.1H449.6V298.1H450.2V300.2H450.8V301.8H451.4V304.0H452V305.4H452.6V306.8H453.2V308.6H453.8V309.1H454.4V311.5H455V312.2H455.6V314.0H456.2V315.0H456.8V315.5H457.4V314.4H458V316.7H458.6V318.0H459.2V318.2H459.8V320.5H460.4V320.2H461V319.5H461.6V320.6H462.2V323.4H462.8V325.4H463.4V327.7H464V328.0H464.6V329.8H465.2V331.8H465.8V332.8H466.4V332.8Z" fill="url(#g6)" fill-opacity="0.92"/>
<path d="M441.5,332.8V332.2H442.1V322.0H442.7V316.3H443.3V311.7H443.9V313.6H444.5V308.0H445.1V308.6H445.7V309.6H446.3V305.0H446.9V305.4H447.5V305.5H448.1V299.5H448.7V308.5H449.3V306.1H449.9V307.7H450.5V304.5H451.1V303.7H451.7V303.6H452.3V307.7H452.9V303.4H453.5V302.3H454.1V302.8H454.7V304.6H455.3V305.5H455.9V303.7H456.5V306.0H457.1V304.1H457.7V307.1H458.3V303.5H458.9V307.1H459.5V307.3H460.1V307.5H460.7V308.2H461.3V306.5H461.9V308.8H462.5V309.5H463.1V310.2H463.7V308.4H464.3V310.9H464.9V310.3H465.5V309.0H466.1V305.9H466.7V310.4H467.3V308.1H467.9V310.9H468.5V309.3H469.1V306.8H469.7V307.0H470.3V307.8H470.9V307.6H471.5V307.6H472.1V310.4H472.7V310.8H473.3V310.2H473.9V309.8H474.5V309.1H475.1V313.9H475.7V312.5H476.3V314.7H476.9V311.6H477.5V312.3H478.1V310.6H478.7V312.2H479.3V311.9H479.9V315.9H480.5V308.9H481.1V312.8H481.7V315.0H482.3V316.5H482.9V313.6H483.5V315.0H484.1V314.7H484.7V314.2H485.3V315.0H485.9V316.0H486.5V314.1H487.1V319.3H487.7V319.3H488.3V315.3H488.9V315.8H489.5V317.1H490.1V318.1H490.7V316.5H491.3V317.8H491.9V320.0H492.5V319.6H493.1V321.0H493.7V320.3H494.3V319.7H494.9V321.8H495.5V319.8H496.1V320.2H496.7V317.6H497.3V317.3H497.9V318.8H498.5V322.3H499.1V320.7H499.7V321.6H500.3V320.5H500.9V321.7H501.5V323.9H502.1V322.9H502.7V319.7H503.3V321.4H503.9V316.9H504.5V324.6H505.1V325.6H505.7V321.7H506.3V322.0H506.9V325.8H507.5V325.0H508.1V323.8H508.7V322.5H509.3V323.0H509.9V321.9H510.5V326.8H511.1V322.9H511.7V324.7H512.3V324.9H512.9V321.3H513.5V322.4H514.1V324.6H514.7V326.4H515.3V326.9H515.9V325.2H516.5V327.8H517.1V326.9H517.7V324.7H518.3V323.3H518.9V328.4H519.5V322.7H520.1V324.3H520.7V328.2H521.3V325.3H521.9V325.2H522.5V325.9H523.1V327.6H523.7V326.6H524.3V324.6H524.9V325.9H525.5V327.4H526.1V324.8H526.7V324.3H527.3V326.9H527.9V328.9H528.5V329.1H529.1V326.5H529.7V325.0H530.3V326.4H530.9V326.6H531.5V328.6H532.1V324.7H532.7V328.4H533.3V322.7H533.9V329.8H534.5V325.9H535.1V324.8H535.7V326.4H536.3V326.0H536.9V325.2H537.5V328.3H538.1V329.2H538.7V329.7H539.3V328.2H539.9V326.6H540.5V322.7H541.1V326.3H541.7V327.9H542.3V325.7H542.9V330.1H543.5V327.4H544.1V330.9H544.7V329.0H545.3V326.0H545.9V328.2H546.5V330.3H547.1V329.4H547.7V328.5H548.3V329.2H548.9V323.6H549.5V327.8H550.1V321.0H550.7V327.8H551.3V326.8H551.9V328.1H552.5V326.7H553.1V331.0H553.7V327.9H554.3V325.9H554.9V326.9H555.5V327.3H556.1V326.4H556.7V328.9H557.3V328.7H557.9V329.2H558.5V327.3H559.1V330.3H559.7V326.0H560.3V330.4H560.9V328.7H561.5V327.0H562.1V330.3H562.7V330.8H563.3V326.5H563.9V330.1H564.5V332.0H565.1V331.1H565.7V326.3H566.3V329.4H566.9V330.8H567.5V332.1H568.1V327.0H568.7V327.1H569.3V326.8H569.9V331.8H570.5V330.4H571.1V327.3H571.7V323.2H572.3V330.6H572.9V328.0H573.5V327.7H574.1V330.3H574.7V331.5H575.3V326.8H575.9V328.9H576.5V328.7H577.1V332.8H577.7V330.0H578.3V329.9H578.9V328.9H579.5V328.1H580.1V331.7H580.7V327.1H581.3V330.1H581.9V332.7H582.5V331.0H583.1V330.8H583.7V331.6H584.3V329.7H584.9V330.3H585.5V323.8H586.1V332.7H586.7V332.4H587.3V332.3H587.9V329.6H588.5V327.7H589.1V327.9H589.7V332.8H590.3V329.8H590.9V331.9H591.5V329.1H592.1V329.6H592.7V329.3H593.3V329.0H593.9V330.5H594.5V330.7H595.1V331.5H595.7V332.6H596.3V331.1H596.9V332.8H597.5V328.8H598.1V330.8H598.7V332.8H599.3V329.7H599.9V332.6H600.5V328.9H601.1V331.5H601.7V328.8H602.3V331.8H602.9V332.2H603.5V332.8H604.1V332.8H604.7V330.9H605.3V332.8H605.9V332.8H606.5V332.8H607.1V332.8H607.7V332.8H608.3V332.8Z" fill="#65289a" fill-opacity="0.6"/>
<path d="M371,333V332.1H371.7V332.8H372.4V330.8H373.1V332.3H373.8V331.4H374.5V332.6H375.2V331.3H375.9V331.0H376.6V331.7H377.3V331.1H378V331.5H378.7V331.0H379.4V331.7H380.1V331.1H380.8V331.9H381.5V331.8H382.2V331.5H382.9V332.3H383.6V331.5H384.3V332.4H385V331.2H385.7V331.0H386.4V332.7H387.1V332.3H387.8V331.9H388.5V332.0H389.2V331.4H389.9V331.7H390.6V331.9H391.3V331.4H392V332.9H392.7V332.7H393.4V332.3H394.1V331.3H394.8V331.1H395.5V331.3H396.2V331.7H396.9V332.4H397.6V331.7H398.3V331.8H399V331.5H399.7V331.3H400.4V331.8H401.1V331.1H401.8V332.2H402.5V333.0H403.2V331.4H403.9V331.0H404.6V331.9H405.3V332.5H406V331.8H406.7V332.7H407.4V331.4H408.1V332.1H408.8V332.8H409.5V332.1H410.2V331.2H410.9V332.2H411.6V331.7H412.3V331.2H413V332.3H413.7V331.7H414.4V331.3H415.1V331.2H415.8V331.5H416.5V332.1H417.2V332.4H417.9V331.0H418.6V331.9H419.3V331.5H420V332.9H420.7V331.3H421.4V332.4H422.1V331.1H422.8V331.4H423.5V332.2H424.2V330.5H424.9V332.5H425.6V331.5H426.3V331.1H427V332.1H427.7V332.9H428.4V332.7H429.1V329.9H429.8V331.7H430.5V331.7H431.2V332.9H431.9V331.2H432.6V332.1H433.3V332.7H434V331.9H434.7V331.0H435.4V331.9H436.1V332.0H436.8V331.1H437.5V332.1H438.2V331.6H438.9V332.6H439.6V332.7H440.3V331.9H441V333.0H441.7V331.5H442.4V331.7H443.1V331.5H443.8V331.9H444.5V332.9H445.2V332.7H445.9V332.3H446.6V332.8H447.3V331.0H448V332.0H448.7V331.3H449.4V331.2H450.1V332.7H450.8V332.6H451.5V331.2H452.2V330.7H452.9V331.6H453.6V331.8H454.3V331.5H455V332.6H455.7V331.5H456.4V331.3H457.1V332.8H457.8V332.8H458.5V332.2H459.2V331.6H459.9V331.7H460.6V332.9H461.3V331.6H462V331.2H462.7V331.9H463.4V332.6H464.1V331.0H464.8V332.8H465.5V332.9H466.2V332.5H466.9V331.5H467.6V331.9H468.3V331.3H469V331.7H469.7V332.8H470.4V331.0H471.1V331.5H471.8V332.6H472.5V331.3H473.2V331.9H473.9V331.4H474.6V331.1H475.3V330.2H476V332.8H476.7V330.6H477.4V331.6H478.1V332.1H478.8V331.5H479.5V331.6H480.2V332.3H480.9V332.4H481.6V332.6H482.3V331.7H483V332.9H483.7V332.2H484.4V332.5H485.1V332.1H485.8V331.2H486.5V329.3H487.2V332.0H487.9V331.3H488.6V331.7H489.3V333.0H490V332.0H490.7V331.3H491.4V331.8H492.1V331.5H492.8V332.9H493.5V332.5H494.2V331.5H494.9V331.8H495.6V332.0H496.3V332.1H497V332.8H497.7V332.4H498.4V332.5H499.1V331.7H499.8V331.7H500.5V331.9H501.2V333.0H501.9V331.3H502.6V331.2H503.3V332.4H504V332.9H504.7V331.1H505.4V331.7H506.1V331.7H506.8V332.9H507.5V331.0H508.2V332.6H508.9V332.0H509.6V332.8H510.3V331.9H511V331.9H511.7V331.3H512.4V332.5H513.1V332.3H513.8V331.8H514.5V331.6H515.2V332.2H515.9V331.2H516.6V331.2H517.3V331.6H518V331.6H518.7V332.2H519.4V332.7H520.1V332.8H520.8V331.3H521.5V332.6H522.2V332.7H522.9V332.4H523.6V331.4H524.3V332.6H525V332.2H525.7V331.4H526.4V331.7H527.1V332.0H527.8V331.3H528.5V331.5H529.2V331.4H529.9V331.6H530.6V331.4H531.3V332.9H532V331.1H532.7V332.7H533.4V332.2H534.1V333.0H534.8V330.2H535.5V331.5H536.2V331.3H536.9V331.8H537.6V332.5H538.3V332.6H539V333.0H539.7V331.1H540.4V332.1H541.1V332.0H541.8V331.5H542.5V332.0H543.2V332.4H543.9V332.9H544.6V332.3H545.3V331.3H546V331.9H546.7V331.2H547.4V331.3H548.1V331.8H548.8V332.6H549.5V332.6H550.2V332.6H550.9V331.1H551.6V331.6H552.3V331.6H553V332.4H553.7V331.1H554.4V332.1H555.1V331.4H555.8V332.5H556.5V332.7H557.2V332.1H557.9V332.8H558.6V332.0H559.3V332.9H560V331.7H560.7V332.0H561.4V332.9H562.1V331.4H562.8V331.4H563.5V332.9H564.2V331.6H564.9V331.4H565.6V332.2H566.3V331.9H567V332.1H567.7V332.1H568.4V331.7H569.1V332.2H569.8V331.3H570.5V331.3H571.2V331.0H571.9V331.5H572.6V332.8H573.3V331.0H574V332.8H574.7V332.6H575.4V331.8H576.1V332.7H576.8V332.2H577.5V332.1H578.2V332.9H578.9V332.1H579.6V331.5H580.3V332.2H581V332.2H581.7V331.5H582.4V331.2H583.1V331.0H583.8V332.9H584.5V332.5H585.2V331.6H585.9V332.5H586.6V331.8H587.3V332.8H588V331.4H588.7V331.1H589.4V332.4H590.1V332.2H590.8V331.0H591.5V332.8H592.2V329.8H592.9V331.8H593.6V332.2H594.3V331.6H595V329.9H595.7V332.1H596.4V332.9H597.1V331.4H597.8V331.0H598.5V333.0H599.2V332.3H599.9V332.2H600.6V331.5H601.3V331.5H602V331.8H602.7V331.6H603.4V332.1H604.1V331.7H604.8V332.7H605.5V331.4H606.2V331.1H606.9V331.5H607.6V332.9H608.3V331.7H609V331.1H609.7V331.1H610.4V332.4H611.1V332.8H611.8V332.5H612.5V332.2H613.2V332.3H613.9V332.9H614.6V331.3H615.3V332.3H616V331.7H616.7V331.8H617.4V332.5H618.1V330.8H618.8V331.1H619.5V332.9H620.2V331.1H620.9V331.4H621.6V332.8H622.3V331.5H623V332.5H623.7V331.6H624.4V331.4H625.1V332.5H625.8V331.3H626.5V332.1H627.2V331.3H627.9V332.9H628.6V331.6H629.3V331.1H630V332.5H630.7V332.1H631.4V331.8H632.1V331.2H632.8V331.9H633.5V331.9H634.2V331.5H634.9V331.5H635.6V331.7H636.3V332.4H637V332.7H637.7V331.0H638.4V331.5H639.1V331.5H639.8V331.0H640.5V331.6H641.2V331.1H641.9V332.2H642.6V331.4H643.3V331.3H644V331.8H644.7V332.5H645.4V332.1H646.1V331.3H646.8V332.5H647.5V332.7H648.2V332.1H648.9V331.9H649.6V331.0H650.3V331.1H651V332.1H651.7V332.5H652.4V332.8H653.1V331.0H653.8V331.8H654.5V331.9H655.2V331.8H655.9V331.2H656.6V331.4H657.3V333.0H658V331.3H658.7V331.0H659.4V331.9H660.1V332.1H660.8V332.6H661.5V332.3H662.2V331.0H662.9V331.3H663.6V331.1H664.3V332.1H665V332.0H665.7V332.0H666.4V331.1H667.1V331.1H667.8V331.3H668.5V332.4H669.2V332.3H669.9V331.9H670.6V331.5H671.3V332.1H672V332.6H672.7V331.0H673.4V331.6H674.1V332.1H674.8V333.0H675.5V331.4H676.2V333Z" fill="#5e2585"/>
<path d="M555.5,332.8V332.8H556V327.2H556.5V320.7H557V312.3H557.5V303.0H558V296.5H558.5V296.6H559V301.0H559.5V307.8H560V316.2H560.5V325.5H561V332.8H561.5V332.8Z" fill="#6a2592"/>
<path d="M457.6,299.2 C459.33,297 464.43,290.03 468,286 C471.57,281.97 475.5,278 479,275 C482.5,272 486.33,269.58 489,268 C491.67,266.42 493.33,265.98 495,265.5 C496.67,265.02 497.5,265.05 499,265.1 C500.5,265.15 502.17,265.23 504,265.8 C505.83,266.37 507.67,266.97 510,268.5 C512.33,270.03 515.17,272.25 518,275 C520.83,277.75 523.75,281 527,285 C530.25,289 535.75,296.67 537.5,299" fill="none" stroke="#d3263f" stroke-width="1.1"/>
<path d="M443.4,323.7 C446.17,321.33 454.23,314.62 460,309.5 C465.77,304.38 472.17,298 478,293 C483.83,288 489.67,283 495,279.5 C500.33,276 505.2,273.58 510,272 C514.8,270.42 519.63,269.92 523.8,270 C527.97,270.08 530.63,270.83 535,272.5 C539.37,274.17 545,276.83 550,280 C555,283.17 560,287.5 565,291.5 C570,295.5 575.5,300.17 580,304 C584.5,307.83 588.05,310.95 592,314.5 C595.95,318.05 601.75,323.5 603.7,325.3" fill="none" stroke="#2b3f9e" stroke-width="1.1"/>
<line x1="446.3" y1="244.3" x2="446.3" y2="252.5" stroke="#333" stroke-width="0.9"/>
<line x1="492.6" y1="244" x2="492.6" y2="252.5" stroke="#333" stroke-width="0.9"/>
<line x1="523.4" y1="244" x2="523.4" y2="266.3" stroke="#333" stroke-width="0.9"/>
<line x1="447.8" y1="248.5" x2="491.1" y2="248.5" stroke="#333" stroke-width="0.9"/>
<path d="M446.8,248.5 L451.3,246.1 L451.3,250.9 Z" fill="#333"/>
<path d="M492.1,248.5 L487.6,246.1 L487.6,250.9 Z" fill="#333"/>
<line x1="494.1" y1="248.5" x2="521.9" y2="248.5" stroke="#333" stroke-width="0.9"/>
<path d="M493.1,248.5 L497.6,246.1 L497.6,250.9 Z" fill="#333"/>
<path d="M522.9,248.5 L518.4,246.1 L518.4,250.9 Z" fill="#333"/>
<text x="460.4" y="258.4" font-size="9.6" fill="#2a2a2a"><tspan font-family="Liberation Serif">Δ</tspan><tspan font-family="Liberation Serif">ν</tspan><tspan font-size="6.2" dy="2.5" stroke-width="0.05" letter-spacing="0.2">p,i</tspan></text>
<text x="499.8" y="258.4" font-size="9.6" fill="#2a2a2a"><tspan font-family="Liberation Serif">Δ</tspan><tspan font-family="Liberation Serif">ν</tspan><tspan font-size="6.2" dy="2.5" stroke-width="0.05" letter-spacing="0.2">p,s</tspan></text>
<rect x="370.2" y="16.1" width="306.3" height="96.3" fill="none" stroke="#4a4a4a" stroke-width="0.9"/>
<line x1="370" y1="16.6" x2="370" y2="111.9" stroke="#9a9a9a" stroke-width="1.5"/>
<line x1="366.4" y1="109.4" x2="370.2" y2="109.4" stroke="#4a4a4a" stroke-width="0.9"/>
<line x1="366.4" y1="78.3" x2="370.2" y2="78.3" stroke="#4a4a4a" stroke-width="0.9"/>
<line x1="366.4" y1="47.2" x2="370.2" y2="47.2" stroke="#4a4a4a" stroke-width="0.9"/>
<line x1="366.4" y1="16.1" x2="370.2" y2="16.1" stroke="#4a4a4a" stroke-width="0.9"/>
<text transform="translate(358.6,65.05) rotate(-90)" font-size="10.4" text-anchor="middle" fill="#222">Power (20 dB/div)</text>
<rect x="370.2" y="126.6" width="306.3" height="95.5" fill="none" stroke="#4a4a4a" stroke-width="0.9"/>
<line x1="370" y1="127.1" x2="370" y2="221.6" stroke="#9a9a9a" stroke-width="1.5"/>
<line x1="366.4" y1="219.4" x2="370.2" y2="219.4" stroke="#4a4a4a" stroke-width="0.9"/>
<line x1="366.4" y1="188.47" x2="370.2" y2="188.47" stroke="#4a4a4a" stroke-width="0.9"/>
<line x1="366.4" y1="157.53" x2="370.2" y2="157.53" stroke="#4a4a4a" stroke-width="0.9"/>
<line x1="366.4" y1="126.6" x2="370.2" y2="126.6" stroke="#4a4a4a" stroke-width="0.9"/>
<text transform="translate(358.6,175.15) rotate(-90)" font-size="10.4" text-anchor="middle" fill="#222">Power (20 dB/div)</text>
<rect x="370.2" y="238.2" width="306.3" height="95.1" fill="none" stroke="#4a4a4a" stroke-width="0.9"/>
<line x1="370" y1="238.7" x2="370" y2="332.8" stroke="#9a9a9a" stroke-width="1.5"/>
<line x1="366.4" y1="330.6" x2="370.2" y2="330.6" stroke="#4a4a4a" stroke-width="0.9"/>
<line x1="366.4" y1="299.8" x2="370.2" y2="299.8" stroke="#4a4a4a" stroke-width="0.9"/>
<line x1="366.4" y1="269" x2="370.2" y2="269" stroke="#4a4a4a" stroke-width="0.9"/>
<line x1="366.4" y1="238.2" x2="370.2" y2="238.2" stroke="#4a4a4a" stroke-width="0.9"/>
<text transform="translate(358.6,286.55) rotate(-90)" font-size="10.4" text-anchor="middle" fill="#222">Power (20 dB/div)</text>
<line x1="407.4" y1="333.3" x2="407.4" y2="336.5" stroke="#4a4a4a" stroke-width="0.9"/>
<text x="407.4" y="349" font-size="10.6" text-anchor="middle" font-weight="normal" fill="#222" >190</text>
<line x1="461.2" y1="333.3" x2="461.2" y2="336.5" stroke="#4a4a4a" stroke-width="0.9"/>
<text x="461.2" y="349" font-size="10.6" text-anchor="middle" font-weight="normal" fill="#222" >191</text>
<line x1="515" y1="333.3" x2="515" y2="336.5" stroke="#4a4a4a" stroke-width="0.9"/>
<text x="515" y="349" font-size="10.6" text-anchor="middle" font-weight="normal" fill="#222" >192</text>
<line x1="568.8" y1="333.3" x2="568.8" y2="336.5" stroke="#4a4a4a" stroke-width="0.9"/>
<text x="568.8" y="349" font-size="10.6" text-anchor="middle" font-weight="normal" fill="#222" >193</text>
<line x1="622.6" y1="333.3" x2="622.6" y2="336.5" stroke="#4a4a4a" stroke-width="0.9"/>
<text x="622.6" y="349" font-size="10.6" text-anchor="middle" font-weight="normal" fill="#222" >194</text>
<line x1="676.4" y1="333.3" x2="676.4" y2="336.5" stroke="#4a4a4a" stroke-width="0.9"/>
<text x="676.4" y="349" font-size="10.6" text-anchor="middle" font-weight="normal" fill="#222" >195</text>
<text x="523.5" y="364.3" font-size="10.4" text-anchor="middle" font-weight="normal" fill="#222" >Frequency (THz)</text>
</svg></body></html>
